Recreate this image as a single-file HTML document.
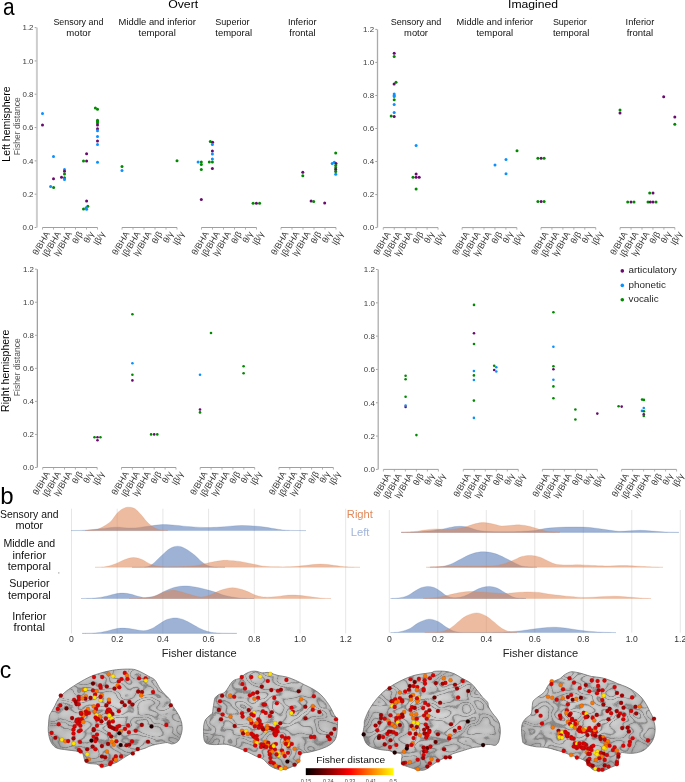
<!DOCTYPE html>
<html><head><meta charset="utf-8"><style>
html,body{margin:0;padding:0;background:#fff;}
svg{display:block;font-family:"Liberation Sans", sans-serif;}
</style></head><body>
<svg width="685" height="782" viewBox="0 0 685 782">
<rect width="685" height="782" fill="#fff"/>
<text x="3.00" y="14.90" font-size="23" fill="#000" text-anchor="start" textLength="11.60" lengthAdjust="spacingAndGlyphs">a</text>
<text x="0.20" y="503.70" font-size="24" fill="#000" text-anchor="start">b</text>
<text x="-0.30" y="678.40" font-size="23" fill="#000" text-anchor="start">c</text>
<text x="183.20" y="8.10" font-size="11.5" fill="#000" text-anchor="middle" textLength="30.00" lengthAdjust="spacingAndGlyphs">Overt</text>
<text x="533.00" y="8.20" font-size="11.5" fill="#000" text-anchor="middle" textLength="50.00" lengthAdjust="spacingAndGlyphs">Imagined</text>
<text x="78.40" y="24.70" font-size="9.6" fill="#111" text-anchor="middle" textLength="50.00" lengthAdjust="spacingAndGlyphs">Sensory and</text>
<text x="78.60" y="36.00" font-size="9.6" fill="#111" text-anchor="middle" textLength="24.50" lengthAdjust="spacingAndGlyphs">motor</text>
<text x="157.25" y="24.70" font-size="9.6" fill="#111" text-anchor="middle" textLength="77.30" lengthAdjust="spacingAndGlyphs">Middle and inferior</text>
<text x="157.20" y="36.00" font-size="9.6" fill="#111" text-anchor="middle" textLength="37.20" lengthAdjust="spacingAndGlyphs">temporal</text>
<text x="232.40" y="24.70" font-size="9.6" fill="#111" text-anchor="middle" textLength="34.20" lengthAdjust="spacingAndGlyphs">Superior</text>
<text x="233.70" y="36.00" font-size="9.6" fill="#111" text-anchor="middle" textLength="36.80" lengthAdjust="spacingAndGlyphs">temporal</text>
<text x="302.20" y="24.70" font-size="9.6" fill="#111" text-anchor="middle" textLength="28.60" lengthAdjust="spacingAndGlyphs">Inferior</text>
<text x="302.40" y="36.00" font-size="9.6" fill="#111" text-anchor="middle" textLength="26.20" lengthAdjust="spacingAndGlyphs">frontal</text>
<text x="416.00" y="24.70" font-size="9.6" fill="#111" text-anchor="middle" textLength="50.70" lengthAdjust="spacingAndGlyphs">Sensory and</text>
<text x="416.05" y="36.00" font-size="9.6" fill="#111" text-anchor="middle" textLength="23.90" lengthAdjust="spacingAndGlyphs">motor</text>
<text x="494.85" y="24.70" font-size="9.6" fill="#111" text-anchor="middle" textLength="76.50" lengthAdjust="spacingAndGlyphs">Middle and inferior</text>
<text x="494.85" y="36.00" font-size="9.6" fill="#111" text-anchor="middle" textLength="36.70" lengthAdjust="spacingAndGlyphs">temporal</text>
<text x="569.85" y="24.70" font-size="9.6" fill="#111" text-anchor="middle" textLength="33.90" lengthAdjust="spacingAndGlyphs">Superior</text>
<text x="571.10" y="36.00" font-size="9.6" fill="#111" text-anchor="middle" textLength="36.40" lengthAdjust="spacingAndGlyphs">temporal</text>
<text x="639.95" y="24.70" font-size="9.6" fill="#111" text-anchor="middle" textLength="28.70" lengthAdjust="spacingAndGlyphs">Inferior</text>
<text x="639.95" y="36.00" font-size="9.6" fill="#111" text-anchor="middle" textLength="26.50" lengthAdjust="spacingAndGlyphs">frontal</text>
<line x1="36.90" y1="27.60" x2="36.90" y2="227.50" stroke="#cdcdcd" stroke-width="2.0"/>
<line x1="34.70" y1="227.50" x2="36.40" y2="227.50" stroke="#8a8a8a" stroke-width="0.8"/>
<text x="33.50" y="230.35" font-size="7.9" fill="#3c3c3c" text-anchor="end">0.0</text>
<line x1="34.70" y1="194.18" x2="36.40" y2="194.18" stroke="#8a8a8a" stroke-width="0.8"/>
<text x="33.50" y="197.03" font-size="7.9" fill="#3c3c3c" text-anchor="end">0.2</text>
<line x1="34.70" y1="160.87" x2="36.40" y2="160.87" stroke="#8a8a8a" stroke-width="0.8"/>
<text x="33.50" y="163.72" font-size="7.9" fill="#3c3c3c" text-anchor="end">0.4</text>
<line x1="34.70" y1="127.55" x2="36.40" y2="127.55" stroke="#8a8a8a" stroke-width="0.8"/>
<text x="33.50" y="130.40" font-size="7.9" fill="#3c3c3c" text-anchor="end">0.6</text>
<line x1="34.70" y1="94.23" x2="36.40" y2="94.23" stroke="#8a8a8a" stroke-width="0.8"/>
<text x="33.50" y="97.08" font-size="7.9" fill="#3c3c3c" text-anchor="end">0.8</text>
<line x1="34.70" y1="60.92" x2="36.40" y2="60.92" stroke="#8a8a8a" stroke-width="0.8"/>
<text x="33.50" y="63.77" font-size="7.9" fill="#3c3c3c" text-anchor="end">1.0</text>
<line x1="34.70" y1="27.60" x2="36.40" y2="27.60" stroke="#8a8a8a" stroke-width="0.8"/>
<text x="33.50" y="30.45" font-size="7.9" fill="#3c3c3c" text-anchor="end">1.2</text>
<line x1="42.50" y1="227.50" x2="97.50" y2="227.50" stroke="#a0a0a0" stroke-width="1.0"/>
<line x1="42.50" y1="227.50" x2="42.50" y2="229.60" stroke="#a0a0a0" stroke-width="0.8"/>
<text x="50.10" y="233.70" font-size="8.8" fill="#3a3a3a" text-anchor="end" transform="rotate(-60 50.10 233.70)">θ/BHA</text>
<line x1="53.50" y1="227.50" x2="53.50" y2="229.60" stroke="#a0a0a0" stroke-width="0.8"/>
<text x="61.10" y="233.70" font-size="8.8" fill="#3a3a3a" text-anchor="end" transform="rotate(-60 61.10 233.70)">lβ/BHA</text>
<line x1="64.50" y1="227.50" x2="64.50" y2="229.60" stroke="#a0a0a0" stroke-width="0.8"/>
<text x="72.10" y="233.70" font-size="8.8" fill="#3a3a3a" text-anchor="end" transform="rotate(-60 72.10 233.70)">lγ/BHA</text>
<line x1="75.50" y1="227.50" x2="75.50" y2="229.60" stroke="#a0a0a0" stroke-width="0.8"/>
<text x="83.10" y="233.70" font-size="8.8" fill="#3a3a3a" text-anchor="end" transform="rotate(-60 83.10 233.70)">θ/β</text>
<line x1="86.50" y1="227.50" x2="86.50" y2="229.60" stroke="#a0a0a0" stroke-width="0.8"/>
<text x="94.10" y="233.70" font-size="8.8" fill="#3a3a3a" text-anchor="end" transform="rotate(-60 94.10 233.70)">θ/γ</text>
<line x1="97.50" y1="227.50" x2="97.50" y2="229.60" stroke="#a0a0a0" stroke-width="0.8"/>
<text x="105.10" y="233.70" font-size="8.8" fill="#3a3a3a" text-anchor="end" transform="rotate(-60 105.10 233.70)">lβ/γ</text>
<line x1="122.00" y1="227.50" x2="177.00" y2="227.50" stroke="#a0a0a0" stroke-width="1.0"/>
<line x1="122.00" y1="227.50" x2="122.00" y2="229.60" stroke="#a0a0a0" stroke-width="0.8"/>
<text x="129.60" y="233.70" font-size="8.8" fill="#3a3a3a" text-anchor="end" transform="rotate(-60 129.60 233.70)">θ/BHA</text>
<line x1="133.00" y1="227.50" x2="133.00" y2="229.60" stroke="#a0a0a0" stroke-width="0.8"/>
<text x="140.60" y="233.70" font-size="8.8" fill="#3a3a3a" text-anchor="end" transform="rotate(-60 140.60 233.70)">lβ/BHA</text>
<line x1="144.00" y1="227.50" x2="144.00" y2="229.60" stroke="#a0a0a0" stroke-width="0.8"/>
<text x="151.60" y="233.70" font-size="8.8" fill="#3a3a3a" text-anchor="end" transform="rotate(-60 151.60 233.70)">lγ/BHA</text>
<line x1="155.00" y1="227.50" x2="155.00" y2="229.60" stroke="#a0a0a0" stroke-width="0.8"/>
<text x="162.60" y="233.70" font-size="8.8" fill="#3a3a3a" text-anchor="end" transform="rotate(-60 162.60 233.70)">θ/β</text>
<line x1="166.00" y1="227.50" x2="166.00" y2="229.60" stroke="#a0a0a0" stroke-width="0.8"/>
<text x="173.60" y="233.70" font-size="8.8" fill="#3a3a3a" text-anchor="end" transform="rotate(-60 173.60 233.70)">θ/γ</text>
<line x1="177.00" y1="227.50" x2="177.00" y2="229.60" stroke="#a0a0a0" stroke-width="0.8"/>
<text x="184.60" y="233.70" font-size="8.8" fill="#3a3a3a" text-anchor="end" transform="rotate(-60 184.60 233.70)">lβ/γ</text>
<line x1="201.50" y1="227.50" x2="256.50" y2="227.50" stroke="#a0a0a0" stroke-width="1.0"/>
<line x1="201.50" y1="227.50" x2="201.50" y2="229.60" stroke="#a0a0a0" stroke-width="0.8"/>
<text x="209.10" y="233.70" font-size="8.8" fill="#3a3a3a" text-anchor="end" transform="rotate(-60 209.10 233.70)">θ/BHA</text>
<line x1="212.50" y1="227.50" x2="212.50" y2="229.60" stroke="#a0a0a0" stroke-width="0.8"/>
<text x="220.10" y="233.70" font-size="8.8" fill="#3a3a3a" text-anchor="end" transform="rotate(-60 220.10 233.70)">lβ/BHA</text>
<line x1="223.50" y1="227.50" x2="223.50" y2="229.60" stroke="#a0a0a0" stroke-width="0.8"/>
<text x="231.10" y="233.70" font-size="8.8" fill="#3a3a3a" text-anchor="end" transform="rotate(-60 231.10 233.70)">lγ/BHA</text>
<line x1="234.50" y1="227.50" x2="234.50" y2="229.60" stroke="#a0a0a0" stroke-width="0.8"/>
<text x="242.10" y="233.70" font-size="8.8" fill="#3a3a3a" text-anchor="end" transform="rotate(-60 242.10 233.70)">θ/β</text>
<line x1="245.50" y1="227.50" x2="245.50" y2="229.60" stroke="#a0a0a0" stroke-width="0.8"/>
<text x="253.10" y="233.70" font-size="8.8" fill="#3a3a3a" text-anchor="end" transform="rotate(-60 253.10 233.70)">θ/γ</text>
<line x1="256.50" y1="227.50" x2="256.50" y2="229.60" stroke="#a0a0a0" stroke-width="0.8"/>
<text x="264.10" y="233.70" font-size="8.8" fill="#3a3a3a" text-anchor="end" transform="rotate(-60 264.10 233.70)">lβ/γ</text>
<line x1="281.00" y1="227.50" x2="336.00" y2="227.50" stroke="#a0a0a0" stroke-width="1.0"/>
<line x1="281.00" y1="227.50" x2="281.00" y2="229.60" stroke="#a0a0a0" stroke-width="0.8"/>
<text x="288.60" y="233.70" font-size="8.8" fill="#3a3a3a" text-anchor="end" transform="rotate(-60 288.60 233.70)">θ/BHA</text>
<line x1="292.00" y1="227.50" x2="292.00" y2="229.60" stroke="#a0a0a0" stroke-width="0.8"/>
<text x="299.60" y="233.70" font-size="8.8" fill="#3a3a3a" text-anchor="end" transform="rotate(-60 299.60 233.70)">lβ/BHA</text>
<line x1="303.00" y1="227.50" x2="303.00" y2="229.60" stroke="#a0a0a0" stroke-width="0.8"/>
<text x="310.60" y="233.70" font-size="8.8" fill="#3a3a3a" text-anchor="end" transform="rotate(-60 310.60 233.70)">lγ/BHA</text>
<line x1="314.00" y1="227.50" x2="314.00" y2="229.60" stroke="#a0a0a0" stroke-width="0.8"/>
<text x="321.60" y="233.70" font-size="8.8" fill="#3a3a3a" text-anchor="end" transform="rotate(-60 321.60 233.70)">θ/β</text>
<line x1="325.00" y1="227.50" x2="325.00" y2="229.60" stroke="#a0a0a0" stroke-width="0.8"/>
<text x="332.60" y="233.70" font-size="8.8" fill="#3a3a3a" text-anchor="end" transform="rotate(-60 332.60 233.70)">θ/γ</text>
<line x1="336.00" y1="227.50" x2="336.00" y2="229.60" stroke="#a0a0a0" stroke-width="0.8"/>
<text x="343.60" y="233.70" font-size="8.8" fill="#3a3a3a" text-anchor="end" transform="rotate(-60 343.60 233.70)">lβ/γ</text>
<line x1="377.50" y1="29.40" x2="377.50" y2="227.60" stroke="#aaaaaa" stroke-width="1.3"/>
<line x1="375.30" y1="227.60" x2="377.00" y2="227.60" stroke="#8a8a8a" stroke-width="0.8"/>
<text x="374.10" y="230.45" font-size="7.9" fill="#3c3c3c" text-anchor="end">0.0</text>
<line x1="375.30" y1="194.57" x2="377.00" y2="194.57" stroke="#8a8a8a" stroke-width="0.8"/>
<text x="374.10" y="197.42" font-size="7.9" fill="#3c3c3c" text-anchor="end">0.2</text>
<line x1="375.30" y1="161.53" x2="377.00" y2="161.53" stroke="#8a8a8a" stroke-width="0.8"/>
<text x="374.10" y="164.38" font-size="7.9" fill="#3c3c3c" text-anchor="end">0.4</text>
<line x1="375.30" y1="128.50" x2="377.00" y2="128.50" stroke="#8a8a8a" stroke-width="0.8"/>
<text x="374.10" y="131.35" font-size="7.9" fill="#3c3c3c" text-anchor="end">0.6</text>
<line x1="375.30" y1="95.47" x2="377.00" y2="95.47" stroke="#8a8a8a" stroke-width="0.8"/>
<text x="374.10" y="98.32" font-size="7.9" fill="#3c3c3c" text-anchor="end">0.8</text>
<line x1="375.30" y1="62.43" x2="377.00" y2="62.43" stroke="#8a8a8a" stroke-width="0.8"/>
<text x="374.10" y="65.28" font-size="7.9" fill="#3c3c3c" text-anchor="end">1.0</text>
<line x1="375.30" y1="29.40" x2="377.00" y2="29.40" stroke="#8a8a8a" stroke-width="0.8"/>
<text x="374.10" y="32.25" font-size="7.9" fill="#3c3c3c" text-anchor="end">1.2</text>
<line x1="383.30" y1="227.60" x2="438.05" y2="227.60" stroke="#a0a0a0" stroke-width="1.0"/>
<line x1="383.30" y1="227.60" x2="383.30" y2="229.70" stroke="#a0a0a0" stroke-width="0.8"/>
<text x="390.90" y="233.80" font-size="8.8" fill="#3a3a3a" text-anchor="end" transform="rotate(-60 390.90 233.80)">θ/BHA</text>
<line x1="394.25" y1="227.60" x2="394.25" y2="229.70" stroke="#a0a0a0" stroke-width="0.8"/>
<text x="401.85" y="233.80" font-size="8.8" fill="#3a3a3a" text-anchor="end" transform="rotate(-60 401.85 233.80)">lβ/BHA</text>
<line x1="405.20" y1="227.60" x2="405.20" y2="229.70" stroke="#a0a0a0" stroke-width="0.8"/>
<text x="412.80" y="233.80" font-size="8.8" fill="#3a3a3a" text-anchor="end" transform="rotate(-60 412.80 233.80)">lγ/BHA</text>
<line x1="416.15" y1="227.60" x2="416.15" y2="229.70" stroke="#a0a0a0" stroke-width="0.8"/>
<text x="423.75" y="233.80" font-size="8.8" fill="#3a3a3a" text-anchor="end" transform="rotate(-60 423.75 233.80)">θ/β</text>
<line x1="427.10" y1="227.60" x2="427.10" y2="229.70" stroke="#a0a0a0" stroke-width="0.8"/>
<text x="434.70" y="233.80" font-size="8.8" fill="#3a3a3a" text-anchor="end" transform="rotate(-60 434.70 233.80)">θ/γ</text>
<line x1="438.05" y1="227.60" x2="438.05" y2="229.70" stroke="#a0a0a0" stroke-width="0.8"/>
<text x="445.65" y="233.80" font-size="8.8" fill="#3a3a3a" text-anchor="end" transform="rotate(-60 445.65 233.80)">lβ/γ</text>
<line x1="462.10" y1="227.60" x2="516.85" y2="227.60" stroke="#a0a0a0" stroke-width="1.0"/>
<line x1="462.10" y1="227.60" x2="462.10" y2="229.70" stroke="#a0a0a0" stroke-width="0.8"/>
<text x="469.70" y="233.80" font-size="8.8" fill="#3a3a3a" text-anchor="end" transform="rotate(-60 469.70 233.80)">θ/BHA</text>
<line x1="473.05" y1="227.60" x2="473.05" y2="229.70" stroke="#a0a0a0" stroke-width="0.8"/>
<text x="480.65" y="233.80" font-size="8.8" fill="#3a3a3a" text-anchor="end" transform="rotate(-60 480.65 233.80)">lβ/BHA</text>
<line x1="484.00" y1="227.60" x2="484.00" y2="229.70" stroke="#a0a0a0" stroke-width="0.8"/>
<text x="491.60" y="233.80" font-size="8.8" fill="#3a3a3a" text-anchor="end" transform="rotate(-60 491.60 233.80)">lγ/BHA</text>
<line x1="494.95" y1="227.60" x2="494.95" y2="229.70" stroke="#a0a0a0" stroke-width="0.8"/>
<text x="502.55" y="233.80" font-size="8.8" fill="#3a3a3a" text-anchor="end" transform="rotate(-60 502.55 233.80)">θ/β</text>
<line x1="505.90" y1="227.60" x2="505.90" y2="229.70" stroke="#a0a0a0" stroke-width="0.8"/>
<text x="513.50" y="233.80" font-size="8.8" fill="#3a3a3a" text-anchor="end" transform="rotate(-60 513.50 233.80)">θ/γ</text>
<line x1="516.85" y1="227.60" x2="516.85" y2="229.70" stroke="#a0a0a0" stroke-width="0.8"/>
<text x="524.45" y="233.80" font-size="8.8" fill="#3a3a3a" text-anchor="end" transform="rotate(-60 524.45 233.80)">lβ/γ</text>
<line x1="541.00" y1="227.60" x2="595.75" y2="227.60" stroke="#a0a0a0" stroke-width="1.0"/>
<line x1="541.00" y1="227.60" x2="541.00" y2="229.70" stroke="#a0a0a0" stroke-width="0.8"/>
<text x="548.60" y="233.80" font-size="8.8" fill="#3a3a3a" text-anchor="end" transform="rotate(-60 548.60 233.80)">θ/BHA</text>
<line x1="551.95" y1="227.60" x2="551.95" y2="229.70" stroke="#a0a0a0" stroke-width="0.8"/>
<text x="559.55" y="233.80" font-size="8.8" fill="#3a3a3a" text-anchor="end" transform="rotate(-60 559.55 233.80)">lβ/BHA</text>
<line x1="562.90" y1="227.60" x2="562.90" y2="229.70" stroke="#a0a0a0" stroke-width="0.8"/>
<text x="570.50" y="233.80" font-size="8.8" fill="#3a3a3a" text-anchor="end" transform="rotate(-60 570.50 233.80)">lγ/BHA</text>
<line x1="573.85" y1="227.60" x2="573.85" y2="229.70" stroke="#a0a0a0" stroke-width="0.8"/>
<text x="581.45" y="233.80" font-size="8.8" fill="#3a3a3a" text-anchor="end" transform="rotate(-60 581.45 233.80)">θ/β</text>
<line x1="584.80" y1="227.60" x2="584.80" y2="229.70" stroke="#a0a0a0" stroke-width="0.8"/>
<text x="592.40" y="233.80" font-size="8.8" fill="#3a3a3a" text-anchor="end" transform="rotate(-60 592.40 233.80)">θ/γ</text>
<line x1="595.75" y1="227.60" x2="595.75" y2="229.70" stroke="#a0a0a0" stroke-width="0.8"/>
<text x="603.35" y="233.80" font-size="8.8" fill="#3a3a3a" text-anchor="end" transform="rotate(-60 603.35 233.80)">lβ/γ</text>
<line x1="620.10" y1="227.60" x2="674.85" y2="227.60" stroke="#a0a0a0" stroke-width="1.0"/>
<line x1="620.10" y1="227.60" x2="620.10" y2="229.70" stroke="#a0a0a0" stroke-width="0.8"/>
<text x="627.70" y="233.80" font-size="8.8" fill="#3a3a3a" text-anchor="end" transform="rotate(-60 627.70 233.80)">θ/BHA</text>
<line x1="631.05" y1="227.60" x2="631.05" y2="229.70" stroke="#a0a0a0" stroke-width="0.8"/>
<text x="638.65" y="233.80" font-size="8.8" fill="#3a3a3a" text-anchor="end" transform="rotate(-60 638.65 233.80)">lβ/BHA</text>
<line x1="642.00" y1="227.60" x2="642.00" y2="229.70" stroke="#a0a0a0" stroke-width="0.8"/>
<text x="649.60" y="233.80" font-size="8.8" fill="#3a3a3a" text-anchor="end" transform="rotate(-60 649.60 233.80)">lγ/BHA</text>
<line x1="652.95" y1="227.60" x2="652.95" y2="229.70" stroke="#a0a0a0" stroke-width="0.8"/>
<text x="660.55" y="233.80" font-size="8.8" fill="#3a3a3a" text-anchor="end" transform="rotate(-60 660.55 233.80)">θ/β</text>
<line x1="663.90" y1="227.60" x2="663.90" y2="229.70" stroke="#a0a0a0" stroke-width="0.8"/>
<text x="671.50" y="233.80" font-size="8.8" fill="#3a3a3a" text-anchor="end" transform="rotate(-60 671.50 233.80)">θ/γ</text>
<line x1="674.85" y1="227.60" x2="674.85" y2="229.70" stroke="#a0a0a0" stroke-width="0.8"/>
<text x="682.45" y="233.80" font-size="8.8" fill="#3a3a3a" text-anchor="end" transform="rotate(-60 682.45 233.80)">lβ/γ</text>
<line x1="37.30" y1="269.20" x2="37.30" y2="467.50" stroke="#909090" stroke-width="1.1"/>
<line x1="35.10" y1="467.50" x2="36.80" y2="467.50" stroke="#8a8a8a" stroke-width="0.8"/>
<text x="33.90" y="470.35" font-size="7.9" fill="#3c3c3c" text-anchor="end">0.0</text>
<line x1="35.10" y1="434.45" x2="36.80" y2="434.45" stroke="#8a8a8a" stroke-width="0.8"/>
<text x="33.90" y="437.30" font-size="7.9" fill="#3c3c3c" text-anchor="end">0.2</text>
<line x1="35.10" y1="401.40" x2="36.80" y2="401.40" stroke="#8a8a8a" stroke-width="0.8"/>
<text x="33.90" y="404.25" font-size="7.9" fill="#3c3c3c" text-anchor="end">0.4</text>
<line x1="35.10" y1="368.35" x2="36.80" y2="368.35" stroke="#8a8a8a" stroke-width="0.8"/>
<text x="33.90" y="371.20" font-size="7.9" fill="#3c3c3c" text-anchor="end">0.6</text>
<line x1="35.10" y1="335.30" x2="36.80" y2="335.30" stroke="#8a8a8a" stroke-width="0.8"/>
<text x="33.90" y="338.15" font-size="7.9" fill="#3c3c3c" text-anchor="end">0.8</text>
<line x1="35.10" y1="302.25" x2="36.80" y2="302.25" stroke="#8a8a8a" stroke-width="0.8"/>
<text x="33.90" y="305.10" font-size="7.9" fill="#3c3c3c" text-anchor="end">1.0</text>
<line x1="35.10" y1="269.20" x2="36.80" y2="269.20" stroke="#8a8a8a" stroke-width="0.8"/>
<text x="33.90" y="272.05" font-size="7.9" fill="#3c3c3c" text-anchor="end">1.2</text>
<line x1="42.70" y1="467.50" x2="97.20" y2="467.50" stroke="#a0a0a0" stroke-width="1.0"/>
<line x1="42.70" y1="467.50" x2="42.70" y2="469.60" stroke="#a0a0a0" stroke-width="0.8"/>
<text x="50.30" y="473.70" font-size="8.8" fill="#3a3a3a" text-anchor="end" transform="rotate(-60 50.30 473.70)">θ/BHA</text>
<line x1="53.60" y1="467.50" x2="53.60" y2="469.60" stroke="#a0a0a0" stroke-width="0.8"/>
<text x="61.20" y="473.70" font-size="8.8" fill="#3a3a3a" text-anchor="end" transform="rotate(-60 61.20 473.70)">lβ/BHA</text>
<line x1="64.50" y1="467.50" x2="64.50" y2="469.60" stroke="#a0a0a0" stroke-width="0.8"/>
<text x="72.10" y="473.70" font-size="8.8" fill="#3a3a3a" text-anchor="end" transform="rotate(-60 72.10 473.70)">lγ/BHA</text>
<line x1="75.40" y1="467.50" x2="75.40" y2="469.60" stroke="#a0a0a0" stroke-width="0.8"/>
<text x="83.00" y="473.70" font-size="8.8" fill="#3a3a3a" text-anchor="end" transform="rotate(-60 83.00 473.70)">θ/β</text>
<line x1="86.30" y1="467.50" x2="86.30" y2="469.60" stroke="#a0a0a0" stroke-width="0.8"/>
<text x="93.90" y="473.70" font-size="8.8" fill="#3a3a3a" text-anchor="end" transform="rotate(-60 93.90 473.70)">θ/γ</text>
<line x1="97.20" y1="467.50" x2="97.20" y2="469.60" stroke="#a0a0a0" stroke-width="0.8"/>
<text x="104.80" y="473.70" font-size="8.8" fill="#3a3a3a" text-anchor="end" transform="rotate(-60 104.80 473.70)">lβ/γ</text>
<line x1="121.50" y1="467.50" x2="176.00" y2="467.50" stroke="#a0a0a0" stroke-width="1.0"/>
<line x1="121.50" y1="467.50" x2="121.50" y2="469.60" stroke="#a0a0a0" stroke-width="0.8"/>
<text x="129.10" y="473.70" font-size="8.8" fill="#3a3a3a" text-anchor="end" transform="rotate(-60 129.10 473.70)">θ/BHA</text>
<line x1="132.40" y1="467.50" x2="132.40" y2="469.60" stroke="#a0a0a0" stroke-width="0.8"/>
<text x="140.00" y="473.70" font-size="8.8" fill="#3a3a3a" text-anchor="end" transform="rotate(-60 140.00 473.70)">lβ/BHA</text>
<line x1="143.30" y1="467.50" x2="143.30" y2="469.60" stroke="#a0a0a0" stroke-width="0.8"/>
<text x="150.90" y="473.70" font-size="8.8" fill="#3a3a3a" text-anchor="end" transform="rotate(-60 150.90 473.70)">lγ/BHA</text>
<line x1="154.20" y1="467.50" x2="154.20" y2="469.60" stroke="#a0a0a0" stroke-width="0.8"/>
<text x="161.80" y="473.70" font-size="8.8" fill="#3a3a3a" text-anchor="end" transform="rotate(-60 161.80 473.70)">θ/β</text>
<line x1="165.10" y1="467.50" x2="165.10" y2="469.60" stroke="#a0a0a0" stroke-width="0.8"/>
<text x="172.70" y="473.70" font-size="8.8" fill="#3a3a3a" text-anchor="end" transform="rotate(-60 172.70 473.70)">θ/γ</text>
<line x1="176.00" y1="467.50" x2="176.00" y2="469.60" stroke="#a0a0a0" stroke-width="0.8"/>
<text x="183.60" y="473.70" font-size="8.8" fill="#3a3a3a" text-anchor="end" transform="rotate(-60 183.60 473.70)">lβ/γ</text>
<line x1="200.20" y1="467.50" x2="254.70" y2="467.50" stroke="#a0a0a0" stroke-width="1.0"/>
<line x1="200.20" y1="467.50" x2="200.20" y2="469.60" stroke="#a0a0a0" stroke-width="0.8"/>
<text x="207.80" y="473.70" font-size="8.8" fill="#3a3a3a" text-anchor="end" transform="rotate(-60 207.80 473.70)">θ/BHA</text>
<line x1="211.10" y1="467.50" x2="211.10" y2="469.60" stroke="#a0a0a0" stroke-width="0.8"/>
<text x="218.70" y="473.70" font-size="8.8" fill="#3a3a3a" text-anchor="end" transform="rotate(-60 218.70 473.70)">lβ/BHA</text>
<line x1="222.00" y1="467.50" x2="222.00" y2="469.60" stroke="#a0a0a0" stroke-width="0.8"/>
<text x="229.60" y="473.70" font-size="8.8" fill="#3a3a3a" text-anchor="end" transform="rotate(-60 229.60 473.70)">lγ/BHA</text>
<line x1="232.90" y1="467.50" x2="232.90" y2="469.60" stroke="#a0a0a0" stroke-width="0.8"/>
<text x="240.50" y="473.70" font-size="8.8" fill="#3a3a3a" text-anchor="end" transform="rotate(-60 240.50 473.70)">θ/β</text>
<line x1="243.80" y1="467.50" x2="243.80" y2="469.60" stroke="#a0a0a0" stroke-width="0.8"/>
<text x="251.40" y="473.70" font-size="8.8" fill="#3a3a3a" text-anchor="end" transform="rotate(-60 251.40 473.70)">θ/γ</text>
<line x1="254.70" y1="467.50" x2="254.70" y2="469.60" stroke="#a0a0a0" stroke-width="0.8"/>
<text x="262.30" y="473.70" font-size="8.8" fill="#3a3a3a" text-anchor="end" transform="rotate(-60 262.30 473.70)">lβ/γ</text>
<line x1="278.90" y1="467.50" x2="333.40" y2="467.50" stroke="#a0a0a0" stroke-width="1.0"/>
<line x1="278.90" y1="467.50" x2="278.90" y2="469.60" stroke="#a0a0a0" stroke-width="0.8"/>
<text x="286.50" y="473.70" font-size="8.8" fill="#3a3a3a" text-anchor="end" transform="rotate(-60 286.50 473.70)">θ/BHA</text>
<line x1="289.80" y1="467.50" x2="289.80" y2="469.60" stroke="#a0a0a0" stroke-width="0.8"/>
<text x="297.40" y="473.70" font-size="8.8" fill="#3a3a3a" text-anchor="end" transform="rotate(-60 297.40 473.70)">lβ/BHA</text>
<line x1="300.70" y1="467.50" x2="300.70" y2="469.60" stroke="#a0a0a0" stroke-width="0.8"/>
<text x="308.30" y="473.70" font-size="8.8" fill="#3a3a3a" text-anchor="end" transform="rotate(-60 308.30 473.70)">lγ/BHA</text>
<line x1="311.60" y1="467.50" x2="311.60" y2="469.60" stroke="#a0a0a0" stroke-width="0.8"/>
<text x="319.20" y="473.70" font-size="8.8" fill="#3a3a3a" text-anchor="end" transform="rotate(-60 319.20 473.70)">θ/β</text>
<line x1="322.50" y1="467.50" x2="322.50" y2="469.60" stroke="#a0a0a0" stroke-width="0.8"/>
<text x="330.10" y="473.70" font-size="8.8" fill="#3a3a3a" text-anchor="end" transform="rotate(-60 330.10 473.70)">θ/γ</text>
<line x1="333.40" y1="467.50" x2="333.40" y2="469.60" stroke="#a0a0a0" stroke-width="0.8"/>
<text x="341.00" y="473.70" font-size="8.8" fill="#3a3a3a" text-anchor="end" transform="rotate(-60 341.00 473.70)">lβ/γ</text>
<line x1="378.20" y1="269.50" x2="378.20" y2="469.40" stroke="#adadad" stroke-width="1.3"/>
<line x1="376.00" y1="469.40" x2="377.70" y2="469.40" stroke="#8a8a8a" stroke-width="0.8"/>
<text x="374.80" y="472.25" font-size="7.9" fill="#3c3c3c" text-anchor="end">0.0</text>
<line x1="376.00" y1="436.08" x2="377.70" y2="436.08" stroke="#8a8a8a" stroke-width="0.8"/>
<text x="374.80" y="438.93" font-size="7.9" fill="#3c3c3c" text-anchor="end">0.2</text>
<line x1="376.00" y1="402.77" x2="377.70" y2="402.77" stroke="#8a8a8a" stroke-width="0.8"/>
<text x="374.80" y="405.62" font-size="7.9" fill="#3c3c3c" text-anchor="end">0.4</text>
<line x1="376.00" y1="369.45" x2="377.70" y2="369.45" stroke="#8a8a8a" stroke-width="0.8"/>
<text x="374.80" y="372.30" font-size="7.9" fill="#3c3c3c" text-anchor="end">0.6</text>
<line x1="376.00" y1="336.13" x2="377.70" y2="336.13" stroke="#8a8a8a" stroke-width="0.8"/>
<text x="374.80" y="338.98" font-size="7.9" fill="#3c3c3c" text-anchor="end">0.8</text>
<line x1="376.00" y1="302.82" x2="377.70" y2="302.82" stroke="#8a8a8a" stroke-width="0.8"/>
<text x="374.80" y="305.67" font-size="7.9" fill="#3c3c3c" text-anchor="end">1.0</text>
<line x1="376.00" y1="269.50" x2="377.70" y2="269.50" stroke="#8a8a8a" stroke-width="0.8"/>
<text x="374.80" y="272.35" font-size="7.9" fill="#3c3c3c" text-anchor="end">1.2</text>
<line x1="383.40" y1="469.40" x2="438.40" y2="469.40" stroke="#a0a0a0" stroke-width="1.0"/>
<line x1="383.40" y1="469.40" x2="383.40" y2="471.50" stroke="#a0a0a0" stroke-width="0.8"/>
<text x="391.00" y="475.60" font-size="8.8" fill="#3a3a3a" text-anchor="end" transform="rotate(-60 391.00 475.60)">θ/BHA</text>
<line x1="394.40" y1="469.40" x2="394.40" y2="471.50" stroke="#a0a0a0" stroke-width="0.8"/>
<text x="402.00" y="475.60" font-size="8.8" fill="#3a3a3a" text-anchor="end" transform="rotate(-60 402.00 475.60)">lβ/BHA</text>
<line x1="405.40" y1="469.40" x2="405.40" y2="471.50" stroke="#a0a0a0" stroke-width="0.8"/>
<text x="413.00" y="475.60" font-size="8.8" fill="#3a3a3a" text-anchor="end" transform="rotate(-60 413.00 475.60)">lγ/BHA</text>
<line x1="416.40" y1="469.40" x2="416.40" y2="471.50" stroke="#a0a0a0" stroke-width="0.8"/>
<text x="424.00" y="475.60" font-size="8.8" fill="#3a3a3a" text-anchor="end" transform="rotate(-60 424.00 475.60)">θ/β</text>
<line x1="427.40" y1="469.40" x2="427.40" y2="471.50" stroke="#a0a0a0" stroke-width="0.8"/>
<text x="435.00" y="475.60" font-size="8.8" fill="#3a3a3a" text-anchor="end" transform="rotate(-60 435.00 475.60)">θ/γ</text>
<line x1="438.40" y1="469.40" x2="438.40" y2="471.50" stroke="#a0a0a0" stroke-width="0.8"/>
<text x="446.00" y="475.60" font-size="8.8" fill="#3a3a3a" text-anchor="end" transform="rotate(-60 446.00 475.60)">lβ/γ</text>
<line x1="463.30" y1="469.40" x2="518.30" y2="469.40" stroke="#a0a0a0" stroke-width="1.0"/>
<line x1="463.30" y1="469.40" x2="463.30" y2="471.50" stroke="#a0a0a0" stroke-width="0.8"/>
<text x="470.90" y="475.60" font-size="8.8" fill="#3a3a3a" text-anchor="end" transform="rotate(-60 470.90 475.60)">θ/BHA</text>
<line x1="474.30" y1="469.40" x2="474.30" y2="471.50" stroke="#a0a0a0" stroke-width="0.8"/>
<text x="481.90" y="475.60" font-size="8.8" fill="#3a3a3a" text-anchor="end" transform="rotate(-60 481.90 475.60)">lβ/BHA</text>
<line x1="485.30" y1="469.40" x2="485.30" y2="471.50" stroke="#a0a0a0" stroke-width="0.8"/>
<text x="492.90" y="475.60" font-size="8.8" fill="#3a3a3a" text-anchor="end" transform="rotate(-60 492.90 475.60)">lγ/BHA</text>
<line x1="496.30" y1="469.40" x2="496.30" y2="471.50" stroke="#a0a0a0" stroke-width="0.8"/>
<text x="503.90" y="475.60" font-size="8.8" fill="#3a3a3a" text-anchor="end" transform="rotate(-60 503.90 475.60)">θ/β</text>
<line x1="507.30" y1="469.40" x2="507.30" y2="471.50" stroke="#a0a0a0" stroke-width="0.8"/>
<text x="514.90" y="475.60" font-size="8.8" fill="#3a3a3a" text-anchor="end" transform="rotate(-60 514.90 475.60)">θ/γ</text>
<line x1="518.30" y1="469.40" x2="518.30" y2="471.50" stroke="#a0a0a0" stroke-width="0.8"/>
<text x="525.90" y="475.60" font-size="8.8" fill="#3a3a3a" text-anchor="end" transform="rotate(-60 525.90 475.60)">lβ/γ</text>
<line x1="542.40" y1="469.40" x2="597.40" y2="469.40" stroke="#a0a0a0" stroke-width="1.0"/>
<line x1="542.40" y1="469.40" x2="542.40" y2="471.50" stroke="#a0a0a0" stroke-width="0.8"/>
<text x="550.00" y="475.60" font-size="8.8" fill="#3a3a3a" text-anchor="end" transform="rotate(-60 550.00 475.60)">θ/BHA</text>
<line x1="553.40" y1="469.40" x2="553.40" y2="471.50" stroke="#a0a0a0" stroke-width="0.8"/>
<text x="561.00" y="475.60" font-size="8.8" fill="#3a3a3a" text-anchor="end" transform="rotate(-60 561.00 475.60)">lβ/BHA</text>
<line x1="564.40" y1="469.40" x2="564.40" y2="471.50" stroke="#a0a0a0" stroke-width="0.8"/>
<text x="572.00" y="475.60" font-size="8.8" fill="#3a3a3a" text-anchor="end" transform="rotate(-60 572.00 475.60)">lγ/BHA</text>
<line x1="575.40" y1="469.40" x2="575.40" y2="471.50" stroke="#a0a0a0" stroke-width="0.8"/>
<text x="583.00" y="475.60" font-size="8.8" fill="#3a3a3a" text-anchor="end" transform="rotate(-60 583.00 475.60)">θ/β</text>
<line x1="586.40" y1="469.40" x2="586.40" y2="471.50" stroke="#a0a0a0" stroke-width="0.8"/>
<text x="594.00" y="475.60" font-size="8.8" fill="#3a3a3a" text-anchor="end" transform="rotate(-60 594.00 475.60)">θ/γ</text>
<line x1="597.40" y1="469.40" x2="597.40" y2="471.50" stroke="#a0a0a0" stroke-width="0.8"/>
<text x="605.00" y="475.60" font-size="8.8" fill="#3a3a3a" text-anchor="end" transform="rotate(-60 605.00 475.60)">lβ/γ</text>
<line x1="621.60" y1="469.40" x2="676.60" y2="469.40" stroke="#a0a0a0" stroke-width="1.0"/>
<line x1="621.60" y1="469.40" x2="621.60" y2="471.50" stroke="#a0a0a0" stroke-width="0.8"/>
<text x="629.20" y="475.60" font-size="8.8" fill="#3a3a3a" text-anchor="end" transform="rotate(-60 629.20 475.60)">θ/BHA</text>
<line x1="632.60" y1="469.40" x2="632.60" y2="471.50" stroke="#a0a0a0" stroke-width="0.8"/>
<text x="640.20" y="475.60" font-size="8.8" fill="#3a3a3a" text-anchor="end" transform="rotate(-60 640.20 475.60)">lβ/BHA</text>
<line x1="643.60" y1="469.40" x2="643.60" y2="471.50" stroke="#a0a0a0" stroke-width="0.8"/>
<text x="651.20" y="475.60" font-size="8.8" fill="#3a3a3a" text-anchor="end" transform="rotate(-60 651.20 475.60)">lγ/BHA</text>
<line x1="654.60" y1="469.40" x2="654.60" y2="471.50" stroke="#a0a0a0" stroke-width="0.8"/>
<text x="662.20" y="475.60" font-size="8.8" fill="#3a3a3a" text-anchor="end" transform="rotate(-60 662.20 475.60)">θ/β</text>
<line x1="665.60" y1="469.40" x2="665.60" y2="471.50" stroke="#a0a0a0" stroke-width="0.8"/>
<text x="673.20" y="475.60" font-size="8.8" fill="#3a3a3a" text-anchor="end" transform="rotate(-60 673.20 475.60)">θ/γ</text>
<line x1="676.60" y1="469.40" x2="676.60" y2="471.50" stroke="#a0a0a0" stroke-width="0.8"/>
<text x="684.20" y="475.60" font-size="8.8" fill="#3a3a3a" text-anchor="end" transform="rotate(-60 684.20 475.60)">lβ/γ</text>
<text x="10.00" y="124.00" font-size="10.5" fill="#000" text-anchor="middle" transform="rotate(-90 10.00 124.00)">Left hemisphere</text>
<text x="20.20" y="126.25" font-size="8.55" fill="#555" text-anchor="middle" transform="rotate(-90 20.20 126.25)">Fisher distance</text>
<text x="8.70" y="370.75" font-size="10.5" fill="#000" text-anchor="middle" transform="rotate(-90 8.70 370.75)">Right hemisphere</text>
<text x="20.20" y="367.25" font-size="8.55" fill="#555" text-anchor="middle" transform="rotate(-90 20.20 367.25)">Fisher distance</text>
<circle cx="42.50" cy="113.60" r="1.5" fill="#0a90ff"/>
<circle cx="42.50" cy="125.00" r="1.5" fill="#680a6e"/>
<circle cx="53.50" cy="156.40" r="1.5" fill="#0a90ff"/>
<circle cx="53.50" cy="178.70" r="1.5" fill="#680a6e"/>
<circle cx="50.60" cy="186.50" r="1.5" fill="#0a90ff"/>
<circle cx="53.60" cy="187.40" r="1.5" fill="#008a00"/>
<circle cx="64.50" cy="169.40" r="1.5" fill="#0a90ff"/>
<circle cx="64.50" cy="171.30" r="1.5" fill="#680a6e"/>
<circle cx="64.50" cy="173.90" r="1.5" fill="#008a00"/>
<circle cx="61.50" cy="177.20" r="1.5" fill="#680a6e"/>
<circle cx="64.50" cy="177.80" r="1.5" fill="#008a00"/>
<circle cx="64.50" cy="179.60" r="1.5" fill="#0a90ff"/>
<circle cx="86.60" cy="153.70" r="1.5" fill="#680a6e"/>
<circle cx="83.50" cy="161.00" r="1.5" fill="#008a00"/>
<circle cx="86.60" cy="161.00" r="1.5" fill="#680a6e"/>
<circle cx="86.60" cy="200.90" r="1.5" fill="#680a6e"/>
<circle cx="87.80" cy="206.30" r="1.5" fill="#008a00"/>
<circle cx="83.50" cy="209.00" r="1.5" fill="#008a00"/>
<circle cx="86.10" cy="207.70" r="1.5" fill="#0a90ff"/>
<circle cx="86.60" cy="209.30" r="1.5" fill="#0a90ff"/>
<circle cx="95.40" cy="107.90" r="1.5" fill="#008a00"/>
<circle cx="97.50" cy="109.20" r="1.5" fill="#008a00"/>
<circle cx="97.50" cy="120.20" r="1.5" fill="#008a00"/>
<circle cx="97.50" cy="121.60" r="1.5" fill="#008a00"/>
<circle cx="97.50" cy="123.00" r="1.5" fill="#008a00"/>
<circle cx="97.50" cy="125.10" r="1.5" fill="#680a6e"/>
<circle cx="97.50" cy="128.80" r="1.5" fill="#680a6e"/>
<circle cx="97.50" cy="130.70" r="1.5" fill="#0a90ff"/>
<circle cx="97.50" cy="136.40" r="1.5" fill="#0a90ff"/>
<circle cx="97.50" cy="140.90" r="1.5" fill="#680a6e"/>
<circle cx="97.50" cy="144.50" r="1.5" fill="#0a90ff"/>
<circle cx="97.50" cy="162.20" r="1.5" fill="#0a90ff"/>
<circle cx="122.00" cy="166.60" r="1.5" fill="#008a00"/>
<circle cx="122.00" cy="170.40" r="1.5" fill="#0a90ff"/>
<circle cx="177.00" cy="160.80" r="1.5" fill="#008a00"/>
<circle cx="198.10" cy="161.90" r="1.5" fill="#0a90ff"/>
<circle cx="201.30" cy="161.90" r="1.5" fill="#008a00"/>
<circle cx="201.30" cy="164.50" r="1.5" fill="#008a00"/>
<circle cx="201.30" cy="169.60" r="1.5" fill="#008a00"/>
<circle cx="201.30" cy="199.60" r="1.5" fill="#680a6e"/>
<circle cx="210.30" cy="141.50" r="1.5" fill="#008a00"/>
<circle cx="212.60" cy="142.20" r="1.5" fill="#680a6e"/>
<circle cx="212.40" cy="144.50" r="1.5" fill="#0a90ff"/>
<circle cx="212.40" cy="151.10" r="1.5" fill="#680a6e"/>
<circle cx="212.40" cy="154.00" r="1.5" fill="#0a90ff"/>
<circle cx="212.40" cy="159.10" r="1.5" fill="#0a90ff"/>
<circle cx="209.30" cy="161.90" r="1.5" fill="#008a00"/>
<circle cx="212.40" cy="162.10" r="1.5" fill="#008a00"/>
<circle cx="212.40" cy="168.50" r="1.5" fill="#680a6e"/>
<circle cx="253.10" cy="203.30" r="1.5" fill="#008a00"/>
<circle cx="256.40" cy="203.30" r="1.5" fill="#680a6e"/>
<circle cx="259.60" cy="203.30" r="1.5" fill="#008a00"/>
<circle cx="302.80" cy="172.30" r="1.5" fill="#680a6e"/>
<circle cx="302.80" cy="175.80" r="1.5" fill="#008a00"/>
<circle cx="311.10" cy="201.00" r="1.5" fill="#680a6e"/>
<circle cx="313.70" cy="201.40" r="1.5" fill="#008a00"/>
<circle cx="324.70" cy="203.00" r="1.5" fill="#680a6e"/>
<circle cx="335.70" cy="153.10" r="1.5" fill="#008a00"/>
<circle cx="332.20" cy="163.60" r="1.5" fill="#0a90ff"/>
<circle cx="334.30" cy="162.20" r="1.5" fill="#0a90ff"/>
<circle cx="336.00" cy="163.40" r="1.5" fill="#680a6e"/>
<circle cx="335.70" cy="165.60" r="1.5" fill="#008a00"/>
<circle cx="335.70" cy="167.80" r="1.5" fill="#008a00"/>
<circle cx="335.70" cy="169.60" r="1.5" fill="#680a6e"/>
<circle cx="335.70" cy="171.40" r="1.5" fill="#008a00"/>
<circle cx="335.70" cy="174.30" r="1.5" fill="#0a90ff"/>
<circle cx="394.20" cy="53.30" r="1.5" fill="#680a6e"/>
<circle cx="394.20" cy="56.50" r="1.5" fill="#008a00"/>
<circle cx="396.00" cy="82.20" r="1.5" fill="#008a00"/>
<circle cx="394.10" cy="84.10" r="1.5" fill="#680a6e"/>
<circle cx="394.20" cy="94.10" r="1.5" fill="#0a90ff"/>
<circle cx="394.20" cy="95.50" r="1.5" fill="#0a90ff"/>
<circle cx="394.20" cy="96.40" r="1.5" fill="#0a90ff"/>
<circle cx="394.20" cy="99.80" r="1.5" fill="#008a00"/>
<circle cx="394.20" cy="104.60" r="1.5" fill="#0a90ff"/>
<circle cx="394.20" cy="112.60" r="1.5" fill="#0a90ff"/>
<circle cx="391.20" cy="115.90" r="1.5" fill="#008a00"/>
<circle cx="394.20" cy="116.50" r="1.5" fill="#680a6e"/>
<circle cx="416.10" cy="145.50" r="1.5" fill="#0a90ff"/>
<circle cx="416.10" cy="173.90" r="1.5" fill="#680a6e"/>
<circle cx="413.00" cy="177.20" r="1.5" fill="#008a00"/>
<circle cx="416.10" cy="177.20" r="1.5" fill="#680a6e"/>
<circle cx="419.20" cy="177.20" r="1.5" fill="#680a6e"/>
<circle cx="416.10" cy="189.10" r="1.5" fill="#008a00"/>
<circle cx="517.00" cy="150.70" r="1.5" fill="#008a00"/>
<circle cx="506.00" cy="159.50" r="1.5" fill="#0a90ff"/>
<circle cx="495.00" cy="164.90" r="1.5" fill="#0a90ff"/>
<circle cx="506.00" cy="173.80" r="1.5" fill="#0a90ff"/>
<circle cx="537.90" cy="158.30" r="1.5" fill="#008a00"/>
<circle cx="541.10" cy="158.30" r="1.5" fill="#680a6e"/>
<circle cx="544.10" cy="158.30" r="1.5" fill="#008a00"/>
<circle cx="537.90" cy="201.50" r="1.5" fill="#008a00"/>
<circle cx="541.10" cy="201.50" r="1.5" fill="#680a6e"/>
<circle cx="544.10" cy="201.50" r="1.5" fill="#008a00"/>
<circle cx="620.00" cy="110.10" r="1.5" fill="#008a00"/>
<circle cx="620.00" cy="112.90" r="1.5" fill="#680a6e"/>
<circle cx="663.70" cy="96.80" r="1.5" fill="#680a6e"/>
<circle cx="674.80" cy="117.00" r="1.5" fill="#680a6e"/>
<circle cx="674.80" cy="124.20" r="1.5" fill="#008a00"/>
<circle cx="627.70" cy="201.90" r="1.5" fill="#008a00"/>
<circle cx="631.00" cy="201.90" r="1.5" fill="#680a6e"/>
<circle cx="634.00" cy="201.90" r="1.5" fill="#008a00"/>
<circle cx="649.70" cy="193.10" r="1.5" fill="#008a00"/>
<circle cx="653.00" cy="193.10" r="1.5" fill="#680a6e"/>
<circle cx="648.00" cy="201.90" r="1.5" fill="#008a00"/>
<circle cx="650.30" cy="201.90" r="1.5" fill="#680a6e"/>
<circle cx="653.00" cy="201.90" r="1.5" fill="#680a6e"/>
<circle cx="656.00" cy="201.90" r="1.5" fill="#008a00"/>
<circle cx="132.40" cy="314.30" r="1.3" fill="#008a00"/>
<circle cx="132.40" cy="363.20" r="1.3" fill="#0a90ff"/>
<circle cx="132.40" cy="374.70" r="1.3" fill="#008a00"/>
<circle cx="132.40" cy="380.40" r="1.3" fill="#680a6e"/>
<circle cx="94.50" cy="437.20" r="1.3" fill="#008a00"/>
<circle cx="100.40" cy="437.20" r="1.3" fill="#008a00"/>
<circle cx="97.50" cy="437.20" r="1.3" fill="#680a6e"/>
<circle cx="97.50" cy="440.20" r="1.3" fill="#680a6e"/>
<circle cx="151.10" cy="434.40" r="1.3" fill="#008a00"/>
<circle cx="154.20" cy="434.40" r="1.3" fill="#680a6e"/>
<circle cx="157.30" cy="434.40" r="1.3" fill="#008a00"/>
<circle cx="211.00" cy="333.00" r="1.3" fill="#008a00"/>
<circle cx="200.00" cy="374.70" r="1.3" fill="#0a90ff"/>
<circle cx="200.00" cy="409.50" r="1.3" fill="#680a6e"/>
<circle cx="200.00" cy="412.40" r="1.3" fill="#008a00"/>
<circle cx="243.60" cy="366.20" r="1.3" fill="#008a00"/>
<circle cx="243.60" cy="373.30" r="1.3" fill="#008a00"/>
<circle cx="405.60" cy="375.80" r="1.3" fill="#008a00"/>
<circle cx="405.60" cy="379.30" r="1.3" fill="#008a00"/>
<circle cx="405.60" cy="396.80" r="1.3" fill="#008a00"/>
<circle cx="405.60" cy="407.00" r="1.3" fill="#680a6e"/>
<circle cx="405.60" cy="405.50" r="1.3" fill="#0a90ff"/>
<circle cx="416.40" cy="435.10" r="1.3" fill="#008a00"/>
<circle cx="474.00" cy="304.90" r="1.3" fill="#008a00"/>
<circle cx="474.00" cy="333.30" r="1.3" fill="#680a6e"/>
<circle cx="474.00" cy="344.00" r="1.3" fill="#008a00"/>
<circle cx="473.90" cy="371.00" r="1.3" fill="#0a90ff"/>
<circle cx="473.90" cy="375.40" r="1.3" fill="#008a00"/>
<circle cx="473.90" cy="380.00" r="1.3" fill="#0a90ff"/>
<circle cx="473.90" cy="400.60" r="1.3" fill="#008a00"/>
<circle cx="473.90" cy="417.90" r="1.3" fill="#0a90ff"/>
<circle cx="494.20" cy="365.70" r="1.3" fill="#008a00"/>
<circle cx="496.30" cy="367.20" r="1.3" fill="#0a90ff"/>
<circle cx="494.20" cy="370.00" r="1.3" fill="#680a6e"/>
<circle cx="496.30" cy="371.50" r="1.3" fill="#0a90ff"/>
<circle cx="553.40" cy="312.30" r="1.3" fill="#008a00"/>
<circle cx="553.40" cy="346.80" r="1.3" fill="#0a90ff"/>
<circle cx="553.40" cy="366.30" r="1.3" fill="#008a00"/>
<circle cx="553.40" cy="369.30" r="1.3" fill="#680a6e"/>
<circle cx="553.40" cy="379.80" r="1.3" fill="#0a90ff"/>
<circle cx="553.40" cy="386.40" r="1.3" fill="#008a00"/>
<circle cx="553.40" cy="398.30" r="1.3" fill="#008a00"/>
<circle cx="575.40" cy="409.50" r="1.3" fill="#008a00"/>
<circle cx="575.40" cy="419.50" r="1.3" fill="#008a00"/>
<circle cx="597.30" cy="413.60" r="1.3" fill="#680a6e"/>
<circle cx="618.60" cy="406.20" r="1.3" fill="#008a00"/>
<circle cx="621.70" cy="406.60" r="1.3" fill="#680a6e"/>
<circle cx="642.10" cy="399.60" r="1.3" fill="#008a00"/>
<circle cx="643.90" cy="399.90" r="1.3" fill="#008a00"/>
<circle cx="643.80" cy="408.00" r="1.3" fill="#0a90ff"/>
<circle cx="642.00" cy="410.90" r="1.3" fill="#0a90ff"/>
<circle cx="643.90" cy="411.20" r="1.3" fill="#008a00"/>
<circle cx="643.80" cy="414.20" r="1.3" fill="#680a6e"/>
<circle cx="643.80" cy="415.90" r="1.3" fill="#008a00"/>
<circle cx="622.30" cy="270.90" r="1.8" fill="#680a6e"/>
<text x="628.50" y="273.40" font-size="9.9" fill="#262626" text-anchor="start">articulatory</text>
<circle cx="622.30" cy="285.40" r="1.8" fill="#0a90ff"/>
<text x="628.50" y="287.60" font-size="9.9" fill="#262626" text-anchor="start">phonetic</text>
<circle cx="622.30" cy="299.70" r="1.8" fill="#008a00"/>
<text x="628.50" y="301.70" font-size="9.9" fill="#262626" text-anchor="start">vocalic</text>
<line x1="71.50" y1="508.70" x2="71.50" y2="633.40" stroke="#e6e6e6" stroke-width="1.0"/>
<line x1="117.20" y1="508.70" x2="117.20" y2="633.40" stroke="#e6e6e6" stroke-width="1.0"/>
<line x1="162.90" y1="508.70" x2="162.90" y2="633.40" stroke="#e6e6e6" stroke-width="1.0"/>
<line x1="208.60" y1="508.70" x2="208.60" y2="633.40" stroke="#e6e6e6" stroke-width="1.0"/>
<line x1="254.30" y1="508.70" x2="254.30" y2="633.40" stroke="#e6e6e6" stroke-width="1.0"/>
<line x1="300.00" y1="508.70" x2="300.00" y2="633.40" stroke="#e6e6e6" stroke-width="1.0"/>
<line x1="345.70" y1="508.70" x2="345.70" y2="633.40" stroke="#e6e6e6" stroke-width="1.0"/>
<line x1="389.30" y1="510.00" x2="389.30" y2="632.60" stroke="#e6e6e6" stroke-width="1.0"/>
<line x1="437.80" y1="510.00" x2="437.80" y2="632.60" stroke="#e6e6e6" stroke-width="1.0"/>
<line x1="486.30" y1="510.00" x2="486.30" y2="632.60" stroke="#e6e6e6" stroke-width="1.0"/>
<line x1="534.80" y1="510.00" x2="534.80" y2="632.60" stroke="#e6e6e6" stroke-width="1.0"/>
<line x1="583.30" y1="510.00" x2="583.30" y2="632.60" stroke="#e6e6e6" stroke-width="1.0"/>
<line x1="631.80" y1="510.00" x2="631.80" y2="632.60" stroke="#e6e6e6" stroke-width="1.0"/>
<line x1="680.30" y1="510.00" x2="680.30" y2="632.60" stroke="#e6e6e6" stroke-width="1.0"/>
<path d="M71.00,530.60 C73.33,530.53 80.17,530.50 85.00,530.20 C89.83,529.90 95.00,529.30 100.00,528.80 C105.00,528.30 110.00,527.33 115.00,527.20 C120.00,527.07 125.83,527.97 130.00,528.00 C134.17,528.03 136.38,527.77 140.00,527.40 C143.62,527.03 148.00,526.27 151.70,525.80 C155.40,525.33 158.32,524.70 162.20,524.60 C166.08,524.50 170.92,524.90 175.00,525.20 C179.08,525.50 181.63,526.02 186.70,526.40 C191.77,526.78 199.85,527.40 205.40,527.50 C210.95,527.60 214.07,527.33 220.00,527.00 C225.93,526.67 234.33,525.58 241.00,525.50 C247.67,525.42 254.33,525.95 260.00,526.50 C265.67,527.05 270.67,528.18 275.00,528.80 C279.33,529.42 280.83,529.90 286.00,530.20 C291.17,530.50 302.67,530.53 306.00,530.60 L306.00,530.60 L71.00,530.60 Z" fill="#4c72b0" fill-opacity="0.55" stroke="#4c72b0" stroke-opacity="0.25" stroke-width="0.8"/>
<path d="M85.00,530.60 C86.67,530.47 92.50,530.18 95.00,529.80 C97.50,529.42 98.17,529.10 100.00,528.30 C101.83,527.50 104.05,526.32 106.00,525.00 C107.95,523.68 109.78,522.43 111.70,520.40 C113.62,518.37 115.55,514.80 117.50,512.80 C119.45,510.80 121.55,509.33 123.40,508.40 C125.25,507.47 126.67,507.13 128.60,507.20 C130.53,507.27 132.95,507.57 135.00,508.80 C137.05,510.03 138.95,512.47 140.90,514.60 C142.85,516.73 144.95,519.75 146.70,521.60 C148.45,523.45 149.45,524.38 151.40,525.70 C153.35,527.02 155.63,528.68 158.40,529.50 C161.17,530.32 166.40,530.42 168.00,530.60 L168.00,530.60 L85.00,530.60 Z" fill="#dd8452" fill-opacity="0.55" stroke="#dd8452" stroke-opacity="0.25" stroke-width="0.8"/>
<path d="M132.00,567.30 C134.17,567.25 141.67,567.47 145.00,567.00 C148.33,566.53 149.22,566.43 152.00,564.50 C154.78,562.57 158.70,558.07 161.70,555.40 C164.70,552.73 167.33,550.03 170.00,548.50 C172.67,546.97 175.20,546.20 177.70,546.20 C180.20,546.20 182.20,547.03 185.00,548.50 C187.80,549.97 191.67,552.75 194.50,555.00 C197.33,557.25 199.28,560.08 202.00,562.00 C204.72,563.92 206.97,565.62 210.80,566.50 C214.63,567.38 222.63,567.17 225.00,567.30 L225.00,567.30 L132.00,567.30 Z" fill="#4c72b0" fill-opacity="0.55" stroke="#4c72b0" stroke-opacity="0.25" stroke-width="0.8"/>
<path d="M95.00,567.30 C96.67,567.22 101.67,567.35 105.00,566.80 C108.33,566.25 111.67,565.22 115.00,564.00 C118.33,562.78 121.92,560.58 125.00,559.50 C128.08,558.42 130.67,557.50 133.50,557.50 C136.33,557.50 139.25,558.42 142.00,559.50 C144.75,560.58 147.00,562.82 150.00,564.00 C153.00,565.18 155.83,566.13 160.00,566.60 C164.17,567.07 170.00,566.85 175.00,566.80 C180.00,566.75 185.83,566.60 190.00,566.30 C194.17,566.00 196.67,565.63 200.00,565.00 C203.33,564.37 206.67,563.20 210.00,562.50 C213.33,561.80 216.92,561.15 220.00,560.80 C223.08,560.45 225.17,560.28 228.50,560.40 C231.83,560.52 235.58,560.82 240.00,561.50 C244.42,562.18 250.50,563.67 255.00,564.50 C259.50,565.33 261.17,566.12 267.00,566.50 C272.83,566.88 283.67,566.97 290.00,566.80 C296.33,566.63 299.93,565.95 305.00,565.50 C310.07,565.05 315.40,564.10 320.40,564.10 C325.40,564.10 330.90,565.05 335.00,565.50 C339.10,565.95 340.83,566.50 345.00,566.80 C349.17,567.10 357.50,567.22 360.00,567.30 L360.00,567.30 L95.00,567.30 Z" fill="#dd8452" fill-opacity="0.55" stroke="#dd8452" stroke-opacity="0.25" stroke-width="0.8"/>
<path d="M81.00,598.50 C83.33,598.42 91.00,598.33 95.00,598.00 C99.00,597.67 101.67,597.17 105.00,596.50 C108.33,595.83 112.15,594.57 115.00,594.00 C117.85,593.43 119.60,593.10 122.10,593.10 C124.60,593.10 127.02,593.38 130.00,594.00 C132.98,594.62 137.40,596.22 140.00,596.80 C142.60,597.38 143.10,597.63 145.60,597.50 C148.10,597.37 151.77,597.08 155.00,596.00 C158.23,594.92 161.67,592.47 165.00,591.00 C168.33,589.53 171.58,588.05 175.00,587.20 C178.42,586.35 182.17,585.93 185.50,585.90 C188.83,585.87 191.75,586.45 195.00,587.00 C198.25,587.55 201.67,588.37 205.00,589.20 C208.33,590.03 211.67,590.95 215.00,592.00 C218.33,593.05 221.00,594.50 225.00,595.50 C229.00,596.50 234.17,597.50 239.00,598.00 C243.83,598.50 251.50,598.42 254.00,598.50 L254.00,598.50 L81.00,598.50 Z" fill="#4c72b0" fill-opacity="0.55" stroke="#4c72b0" stroke-opacity="0.25" stroke-width="0.8"/>
<path d="M129.00,598.50 C131.67,598.42 140.67,598.42 145.00,598.00 C149.33,597.58 152.00,596.92 155.00,596.00 C158.00,595.08 160.30,593.43 163.00,592.50 C165.70,591.57 168.37,590.57 171.20,590.40 C174.03,590.23 176.87,590.82 180.00,591.50 C183.13,592.18 186.53,593.58 190.00,594.50 C193.47,595.42 197.47,596.92 200.80,597.00 C204.13,597.08 206.80,596.08 210.00,595.00 C213.20,593.92 216.27,591.72 220.00,590.50 C223.73,589.28 228.23,587.70 232.40,587.70 C236.57,587.70 241.23,589.28 245.00,590.50 C248.77,591.72 251.92,593.92 255.00,595.00 C258.08,596.08 260.17,596.70 263.50,597.00 C266.83,597.30 271.42,597.05 275.00,596.80 C278.58,596.55 281.98,595.78 285.00,595.50 C288.02,595.22 289.77,595.02 293.10,595.10 C296.43,595.18 300.52,595.52 305.00,596.00 C309.48,596.48 315.67,597.58 320.00,598.00 C324.33,598.42 329.17,598.42 331.00,598.50 L331.00,598.50 L129.00,598.50 Z" fill="#dd8452" fill-opacity="0.55" stroke="#dd8452" stroke-opacity="0.25" stroke-width="0.8"/>
<path d="M82.00,633.40 C84.17,633.33 91.17,633.32 95.00,633.00 C98.83,632.68 101.67,632.17 105.00,631.50 C108.33,630.83 112.08,629.57 115.00,629.00 C117.92,628.43 119.67,628.10 122.50,628.10 C125.33,628.10 128.48,628.57 132.00,629.00 C135.52,629.43 140.27,630.78 143.60,630.70 C146.93,630.62 149.27,629.70 152.00,628.50 C154.73,627.30 157.50,625.00 160.00,623.50 C162.50,622.00 164.48,620.43 167.00,619.50 C169.52,618.57 172.43,617.90 175.10,617.90 C177.77,617.90 180.18,618.48 183.00,619.50 C185.82,620.52 189.17,622.50 192.00,624.00 C194.83,625.50 197.33,627.25 200.00,628.50 C202.67,629.75 205.17,630.75 208.00,631.50 C210.83,632.25 212.17,632.68 217.00,633.00 C221.83,633.32 233.67,633.33 237.00,633.40 L237.00,633.40 L82.00,633.40 Z" fill="#4c72b0" fill-opacity="0.55" stroke="#4c72b0" stroke-opacity="0.25" stroke-width="0.8"/>
<path d="M401.00,532.40 C404.17,532.30 413.50,532.27 420.00,531.80 C426.50,531.33 435.00,530.33 440.00,529.60 C445.00,528.87 446.77,527.95 450.00,527.40 C453.23,526.85 456.40,526.32 459.40,526.30 C462.40,526.28 464.50,526.55 468.00,527.30 C471.50,528.05 475.07,530.05 480.40,530.80 C485.73,531.55 493.40,531.68 500.00,531.80 C506.60,531.92 514.17,531.72 520.00,531.50 C525.83,531.28 530.83,531.00 535.00,530.50 C539.17,530.00 540.83,529.03 545.00,528.50 C549.17,527.97 554.93,527.55 560.00,527.30 C565.07,527.05 570.40,526.97 575.40,527.00 C580.40,527.03 585.07,527.08 590.00,527.50 C594.93,527.92 600.22,528.87 605.00,529.50 C609.78,530.13 614.53,531.08 618.70,531.30 C622.87,531.52 626.38,530.97 630.00,530.80 C633.62,530.63 636.73,530.27 640.40,530.30 C644.07,530.33 647.90,530.72 652.00,531.00 C656.10,531.28 660.50,531.77 665.00,532.00 C669.50,532.23 676.67,532.33 679.00,532.40 L679.00,532.40 L401.00,532.40 Z" fill="#4c72b0" fill-opacity="0.55" stroke="#4c72b0" stroke-opacity="0.25" stroke-width="0.8"/>
<path d="M401.00,532.40 C403.33,532.25 411.00,531.90 415.00,531.50 C419.00,531.10 421.50,530.43 425.00,530.00 C428.50,529.57 432.67,528.98 436.00,528.90 C439.33,528.82 441.83,529.48 445.00,529.50 C448.17,529.52 451.67,529.42 455.00,529.00 C458.33,528.58 461.67,527.87 465.00,527.00 C468.33,526.13 471.83,524.53 475.00,523.80 C478.17,523.07 481.00,522.57 484.00,522.60 C487.00,522.63 490.08,523.43 493.00,524.00 C495.92,524.57 498.67,525.75 501.50,526.00 C504.33,526.25 506.88,525.68 510.00,525.50 C513.12,525.32 516.87,524.73 520.20,524.90 C523.53,525.07 526.70,525.73 530.00,526.50 C533.30,527.27 537.00,528.67 540.00,529.50 C543.00,530.33 544.67,531.02 548.00,531.50 C551.33,531.98 558.00,532.25 560.00,532.40 L560.00,532.40 L401.00,532.40 Z" fill="#dd8452" fill-opacity="0.55" stroke="#dd8452" stroke-opacity="0.25" stroke-width="0.8"/>
<path d="M430.00,567.30 C431.67,567.22 436.67,567.27 440.00,566.80 C443.33,566.33 446.67,565.72 450.00,564.50 C453.33,563.28 456.67,561.17 460.00,559.50 C463.33,557.83 467.00,555.70 470.00,554.50 C473.00,553.30 475.60,552.75 478.00,552.30 C480.40,551.85 482.07,551.72 484.40,551.80 C486.73,551.88 489.40,552.18 492.00,552.80 C494.60,553.42 497.00,554.22 500.00,555.50 C503.00,556.78 507.00,559.00 510.00,560.50 C513.00,562.00 515.67,563.50 518.00,564.50 C520.33,565.50 520.83,566.03 524.00,566.50 C527.17,566.97 534.83,567.17 537.00,567.30 L537.00,567.30 L430.00,567.30 Z" fill="#4c72b0" fill-opacity="0.55" stroke="#4c72b0" stroke-opacity="0.25" stroke-width="0.8"/>
<path d="M426.00,567.30 C428.33,567.18 434.33,566.77 440.00,566.60 C445.67,566.43 453.33,566.37 460.00,566.30 C466.67,566.23 474.17,566.28 480.00,566.20 C485.83,566.12 490.83,566.25 495.00,565.80 C499.17,565.35 501.67,564.55 505.00,563.50 C508.33,562.45 512.17,560.67 515.00,559.50 C517.83,558.33 519.33,557.18 522.00,556.50 C524.67,555.82 528.00,555.28 531.00,555.40 C534.00,555.52 537.17,556.27 540.00,557.20 C542.83,558.13 545.17,559.78 548.00,561.00 C550.83,562.22 553.33,563.85 557.00,564.50 C560.67,565.15 565.83,564.83 570.00,564.90 C574.17,564.97 577.83,564.78 582.00,564.90 C586.17,565.02 591.17,565.42 595.00,565.60 C598.83,565.78 601.67,565.98 605.00,566.00 C608.33,566.02 611.72,565.78 615.00,565.70 C618.28,565.62 621.37,565.45 624.70,565.50 C628.03,565.55 631.12,565.78 635.00,566.00 C638.88,566.22 643.33,566.58 648.00,566.80 C652.67,567.02 660.50,567.22 663.00,567.30 L663.00,567.30 L426.00,567.30 Z" fill="#dd8452" fill-opacity="0.55" stroke="#dd8452" stroke-opacity="0.25" stroke-width="0.8"/>
<path d="M390.50,598.50 C392.08,598.38 397.08,598.30 400.00,597.80 C402.92,597.30 405.50,596.63 408.00,595.50 C410.50,594.37 412.83,592.28 415.00,591.00 C417.17,589.72 418.93,588.57 421.00,587.80 C423.07,587.03 425.23,586.45 427.40,586.40 C429.57,586.35 431.90,586.73 434.00,587.50 C436.10,588.27 438.00,589.67 440.00,591.00 C442.00,592.33 444.00,594.42 446.00,595.50 C448.00,596.58 449.67,597.20 452.00,597.50 C454.33,597.80 457.33,597.80 460.00,597.30 C462.67,596.80 465.50,595.63 468.00,594.50 C470.50,593.37 472.67,591.67 475.00,590.50 C477.33,589.33 479.53,588.18 482.00,587.50 C484.47,586.82 487.30,586.32 489.80,586.40 C492.30,586.48 494.80,587.15 497.00,588.00 C499.20,588.85 500.83,590.25 503.00,591.50 C505.17,592.75 507.92,594.45 510.00,595.50 C512.08,596.55 512.83,597.30 515.50,597.80 C518.17,598.30 524.25,598.38 526.00,598.50 L526.00,598.50 L390.50,598.50 Z" fill="#4c72b0" fill-opacity="0.55" stroke="#4c72b0" stroke-opacity="0.25" stroke-width="0.8"/>
<path d="M423.00,598.50 C425.83,598.25 434.67,597.83 440.00,597.00 C445.33,596.17 450.20,594.42 455.00,593.50 C459.80,592.58 464.63,591.75 468.80,591.50 C472.97,591.25 475.63,591.75 480.00,592.00 C484.37,592.25 490.83,592.75 495.00,593.00 C499.17,593.25 500.83,593.62 505.00,593.50 C509.17,593.38 515.83,592.55 520.00,592.30 C524.17,592.05 526.78,591.97 530.00,592.00 C533.22,592.03 536.30,592.17 539.30,592.50 C542.30,592.83 545.22,593.58 548.00,594.00 C550.78,594.42 552.33,594.58 556.00,595.00 C559.67,595.42 565.17,596.08 570.00,596.50 C574.83,596.92 580.00,597.45 585.00,597.50 C590.00,597.55 595.17,597.02 600.00,596.80 C604.83,596.58 609.33,596.17 614.00,596.20 C618.67,596.23 623.67,596.70 628.00,597.00 C632.33,597.30 636.17,597.75 640.00,598.00 C643.83,598.25 649.17,598.42 651.00,598.50 L651.00,598.50 L423.00,598.50 Z" fill="#dd8452" fill-opacity="0.55" stroke="#dd8452" stroke-opacity="0.25" stroke-width="0.8"/>
<path d="M390.50,632.60 C392.08,632.47 396.75,632.48 400.00,631.80 C403.25,631.12 407.00,629.97 410.00,628.50 C413.00,627.03 414.90,624.55 418.00,623.00 C421.10,621.45 425.27,619.45 428.60,619.20 C431.93,618.95 435.10,620.20 438.00,621.50 C440.90,622.80 443.00,625.28 446.00,627.00 C449.00,628.72 452.00,630.90 456.00,631.80 C460.00,632.70 464.33,632.30 470.00,632.40 C475.67,632.50 484.17,632.47 490.00,632.40 C495.83,632.33 500.17,632.23 505.00,632.00 C509.83,631.77 514.83,631.42 519.00,631.00 C523.17,630.58 526.17,630.00 530.00,629.50 C533.83,629.00 538.05,628.38 542.00,628.00 C545.95,627.62 549.87,627.20 553.70,627.20 C557.53,627.20 560.95,627.53 565.00,628.00 C569.05,628.47 573.00,629.37 578.00,630.00 C583.00,630.63 588.67,631.37 595.00,631.80 C601.33,632.23 612.50,632.47 616.00,632.60 L616.00,632.60 L390.50,632.60 Z" fill="#4c72b0" fill-opacity="0.55" stroke="#4c72b0" stroke-opacity="0.25" stroke-width="0.8"/>
<path d="M424.70,632.60 C427.25,632.50 435.78,632.68 440.00,632.00 C444.22,631.32 447.00,630.17 450.00,628.50 C453.00,626.83 455.33,624.08 458.00,622.00 C460.67,619.92 462.88,617.52 466.00,616.00 C469.12,614.48 473.37,612.90 476.70,612.90 C480.03,612.90 483.12,614.48 486.00,616.00 C488.88,617.52 491.33,619.92 494.00,622.00 C496.67,624.08 499.33,626.87 502.00,628.50 C504.67,630.13 507.50,631.12 510.00,631.80 C512.50,632.48 515.83,632.47 517.00,632.60 L517.00,632.60 L424.70,632.60 Z" fill="#dd8452" fill-opacity="0.55" stroke="#dd8452" stroke-opacity="0.25" stroke-width="0.8"/>
<text x="29.30" y="517.80" font-size="10.6" fill="#111" text-anchor="middle" textLength="58.40" lengthAdjust="spacingAndGlyphs">Sensory and</text>
<text x="29.30" y="529.20" font-size="10.6" fill="#111" text-anchor="middle" textLength="27.80" lengthAdjust="spacingAndGlyphs">motor</text>
<text x="29.30" y="547.00" font-size="10.6" fill="#111" text-anchor="middle" textLength="51.80" lengthAdjust="spacingAndGlyphs">Middle and</text>
<text x="29.30" y="558.50" font-size="10.6" fill="#111" text-anchor="middle" textLength="33.50" lengthAdjust="spacingAndGlyphs">inferior</text>
<text x="29.30" y="570.00" font-size="10.6" fill="#111" text-anchor="middle" textLength="43.20" lengthAdjust="spacingAndGlyphs">temporal</text>
<text x="29.30" y="587.30" font-size="10.6" fill="#111" text-anchor="middle" textLength="40.30" lengthAdjust="spacingAndGlyphs">Superior</text>
<text x="29.30" y="598.80" font-size="10.6" fill="#111" text-anchor="middle" textLength="42.80" lengthAdjust="spacingAndGlyphs">temporal</text>
<text x="29.30" y="620.00" font-size="10.6" fill="#111" text-anchor="middle" textLength="34.10" lengthAdjust="spacingAndGlyphs">Inferior</text>
<text x="29.30" y="631.40" font-size="10.6" fill="#111" text-anchor="middle" textLength="31.50" lengthAdjust="spacingAndGlyphs">frontal</text>
<circle cx="58.80" cy="572.90" r="0.8" fill="#b8b8b8"/>
<text x="346.80" y="517.50" font-size="11.2" fill="#e0895a" text-anchor="start">Right</text>
<text x="350.80" y="536.00" font-size="11.2" fill="#a1b4da" text-anchor="start">Left</text>
<text x="71.50" y="642.40" font-size="8.6" fill="#333" text-anchor="middle">0</text>
<text x="389.50" y="642.40" font-size="8.6" fill="#333" text-anchor="middle">0</text>
<text x="117.20" y="642.40" font-size="8.6" fill="#333" text-anchor="middle">0.2</text>
<text x="437.95" y="642.40" font-size="8.6" fill="#333" text-anchor="middle">0.2</text>
<text x="162.90" y="642.40" font-size="8.6" fill="#333" text-anchor="middle">0.4</text>
<text x="486.40" y="642.40" font-size="8.6" fill="#333" text-anchor="middle">0.4</text>
<text x="208.60" y="642.40" font-size="8.6" fill="#333" text-anchor="middle">0.6</text>
<text x="534.85" y="642.40" font-size="8.6" fill="#333" text-anchor="middle">0.6</text>
<text x="254.30" y="642.40" font-size="8.6" fill="#333" text-anchor="middle">0.8</text>
<text x="583.30" y="642.40" font-size="8.6" fill="#333" text-anchor="middle">0.8</text>
<text x="300.00" y="642.40" font-size="8.6" fill="#333" text-anchor="middle">1.0</text>
<text x="631.75" y="642.40" font-size="8.6" fill="#333" text-anchor="middle">1.0</text>
<text x="345.70" y="642.40" font-size="8.6" fill="#333" text-anchor="middle">1.2</text>
<text x="680.20" y="642.40" font-size="8.6" fill="#333" text-anchor="middle">1.2</text>
<text x="199.20" y="656.70" font-size="11.0" fill="#222" text-anchor="middle" textLength="75.00" lengthAdjust="spacingAndGlyphs">Fisher distance</text>
<text x="540.50" y="656.60" font-size="11.0" fill="#222" text-anchor="middle" textLength="75.40" lengthAdjust="spacingAndGlyphs">Fisher distance</text>
<defs>
<filter id="sul0" x="0" y="0" width="1" height="1" color-interpolation-filters="sRGB">
<feTurbulence type="fractalNoise" baseFrequency="0.038 0.058" numOctaves="2" seed="3" result="t"/>
<feColorMatrix in="t" type="matrix" values="0 0 0 0 0  0 0 0 0 0  0 0 0 0 0  1 0 0 0 0" result="a"/>
<feComponentTransfer in="a" result="lines"><feFuncA type="table" tableValues="0 0 0 0 0 0 0 0 0 0 0 0 0 0 0 1 0 0 0 0 1 0 0 0 0 1 0 0 0 0 0 0 0 0 0 0 0 0 0 0 0"/></feComponentTransfer>
<feFlood flood-color="#727272" result="c"/>
<feComposite in="c" in2="lines" operator="in" result="cl"/>
<feComposite in="cl" in2="SourceAlpha" operator="in"/>
</filter>
<filter id="shd0" x="0" y="0" width="1" height="1" color-interpolation-filters="sRGB">
<feTurbulence type="fractalNoise" baseFrequency="0.038 0.058" numOctaves="2" seed="3" result="t"/>
<feColorMatrix in="t" type="matrix" values="0 0 0 0 0  0 0 0 0 0  0 0 0 0 0  1 0 0 0 0" result="a"/>
<feDiffuseLighting in="a" surfaceScale="5" diffuseConstant="1" lighting-color="#9c9c9c" result="lit"><feDistantLight azimuth="225" elevation="50"/></feDiffuseLighting>
<feComposite in="lit" in2="SourceAlpha" operator="in"/>
</filter>
<filter id="val0" x="0" y="0" width="1" height="1" color-interpolation-filters="sRGB">
<feTurbulence type="fractalNoise" baseFrequency="0.038 0.058" numOctaves="2" seed="3" result="t"/>
<feColorMatrix in="t" type="matrix" values="0 0 0 0 0  0 0 0 0 0  0 0 0 0 0  1 0 0 0 0" result="a"/>
<feComponentTransfer in="a" result="lines"><feFuncA type="table" tableValues="0 0 0 0 0 0 0 0 0 0 0 0 0 0 0.6 1 0.6 0 0 0.6 1 0.6 0 0 0.6 1 0.6 0 0 0 0 0 0 0 0 0 0 0 0 0 0"/></feComponentTransfer>
<feGaussianBlur in="lines" stdDeviation="0.8" result="bl"/>
<feFlood flood-color="#7a7a7a" result="c"/>
<feComposite in="c" in2="bl" operator="in" result="cl"/>
<feComposite in="cl" in2="SourceAlpha" operator="in"/>
</filter>
<filter id="sul1" x="0" y="0" width="1" height="1" color-interpolation-filters="sRGB">
<feTurbulence type="fractalNoise" baseFrequency="0.038 0.058" numOctaves="2" seed="10" result="t"/>
<feColorMatrix in="t" type="matrix" values="0 0 0 0 0  0 0 0 0 0  0 0 0 0 0  1 0 0 0 0" result="a"/>
<feComponentTransfer in="a" result="lines"><feFuncA type="table" tableValues="0 0 0 0 0 0 0 0 0 0 0 0 0 0 0 1 0 0 0 0 1 0 0 0 0 1 0 0 0 0 0 0 0 0 0 0 0 0 0 0 0"/></feComponentTransfer>
<feFlood flood-color="#727272" result="c"/>
<feComposite in="c" in2="lines" operator="in" result="cl"/>
<feComposite in="cl" in2="SourceAlpha" operator="in"/>
</filter>
<filter id="shd1" x="0" y="0" width="1" height="1" color-interpolation-filters="sRGB">
<feTurbulence type="fractalNoise" baseFrequency="0.038 0.058" numOctaves="2" seed="10" result="t"/>
<feColorMatrix in="t" type="matrix" values="0 0 0 0 0  0 0 0 0 0  0 0 0 0 0  1 0 0 0 0" result="a"/>
<feDiffuseLighting in="a" surfaceScale="5" diffuseConstant="1" lighting-color="#9c9c9c" result="lit"><feDistantLight azimuth="225" elevation="50"/></feDiffuseLighting>
<feComposite in="lit" in2="SourceAlpha" operator="in"/>
</filter>
<filter id="val1" x="0" y="0" width="1" height="1" color-interpolation-filters="sRGB">
<feTurbulence type="fractalNoise" baseFrequency="0.038 0.058" numOctaves="2" seed="10" result="t"/>
<feColorMatrix in="t" type="matrix" values="0 0 0 0 0  0 0 0 0 0  0 0 0 0 0  1 0 0 0 0" result="a"/>
<feComponentTransfer in="a" result="lines"><feFuncA type="table" tableValues="0 0 0 0 0 0 0 0 0 0 0 0 0 0 0.6 1 0.6 0 0 0.6 1 0.6 0 0 0.6 1 0.6 0 0 0 0 0 0 0 0 0 0 0 0 0 0"/></feComponentTransfer>
<feGaussianBlur in="lines" stdDeviation="0.8" result="bl"/>
<feFlood flood-color="#7a7a7a" result="c"/>
<feComposite in="c" in2="bl" operator="in" result="cl"/>
<feComposite in="cl" in2="SourceAlpha" operator="in"/>
</filter>
<filter id="sul2" x="0" y="0" width="1" height="1" color-interpolation-filters="sRGB">
<feTurbulence type="fractalNoise" baseFrequency="0.038 0.058" numOctaves="2" seed="17" result="t"/>
<feColorMatrix in="t" type="matrix" values="0 0 0 0 0  0 0 0 0 0  0 0 0 0 0  1 0 0 0 0" result="a"/>
<feComponentTransfer in="a" result="lines"><feFuncA type="table" tableValues="0 0 0 0 0 0 0 0 0 0 0 0 0 0 0 1 0 0 0 0 1 0 0 0 0 1 0 0 0 0 0 0 0 0 0 0 0 0 0 0 0"/></feComponentTransfer>
<feFlood flood-color="#727272" result="c"/>
<feComposite in="c" in2="lines" operator="in" result="cl"/>
<feComposite in="cl" in2="SourceAlpha" operator="in"/>
</filter>
<filter id="shd2" x="0" y="0" width="1" height="1" color-interpolation-filters="sRGB">
<feTurbulence type="fractalNoise" baseFrequency="0.038 0.058" numOctaves="2" seed="17" result="t"/>
<feColorMatrix in="t" type="matrix" values="0 0 0 0 0  0 0 0 0 0  0 0 0 0 0  1 0 0 0 0" result="a"/>
<feDiffuseLighting in="a" surfaceScale="5" diffuseConstant="1" lighting-color="#9c9c9c" result="lit"><feDistantLight azimuth="225" elevation="50"/></feDiffuseLighting>
<feComposite in="lit" in2="SourceAlpha" operator="in"/>
</filter>
<filter id="val2" x="0" y="0" width="1" height="1" color-interpolation-filters="sRGB">
<feTurbulence type="fractalNoise" baseFrequency="0.038 0.058" numOctaves="2" seed="17" result="t"/>
<feColorMatrix in="t" type="matrix" values="0 0 0 0 0  0 0 0 0 0  0 0 0 0 0  1 0 0 0 0" result="a"/>
<feComponentTransfer in="a" result="lines"><feFuncA type="table" tableValues="0 0 0 0 0 0 0 0 0 0 0 0 0 0 0.6 1 0.6 0 0 0.6 1 0.6 0 0 0.6 1 0.6 0 0 0 0 0 0 0 0 0 0 0 0 0 0"/></feComponentTransfer>
<feGaussianBlur in="lines" stdDeviation="0.8" result="bl"/>
<feFlood flood-color="#7a7a7a" result="c"/>
<feComposite in="c" in2="bl" operator="in" result="cl"/>
<feComposite in="cl" in2="SourceAlpha" operator="in"/>
</filter>
<filter id="sul3" x="0" y="0" width="1" height="1" color-interpolation-filters="sRGB">
<feTurbulence type="fractalNoise" baseFrequency="0.038 0.058" numOctaves="2" seed="24" result="t"/>
<feColorMatrix in="t" type="matrix" values="0 0 0 0 0  0 0 0 0 0  0 0 0 0 0  1 0 0 0 0" result="a"/>
<feComponentTransfer in="a" result="lines"><feFuncA type="table" tableValues="0 0 0 0 0 0 0 0 0 0 0 0 0 0 0 1 0 0 0 0 1 0 0 0 0 1 0 0 0 0 0 0 0 0 0 0 0 0 0 0 0"/></feComponentTransfer>
<feFlood flood-color="#727272" result="c"/>
<feComposite in="c" in2="lines" operator="in" result="cl"/>
<feComposite in="cl" in2="SourceAlpha" operator="in"/>
</filter>
<filter id="shd3" x="0" y="0" width="1" height="1" color-interpolation-filters="sRGB">
<feTurbulence type="fractalNoise" baseFrequency="0.038 0.058" numOctaves="2" seed="24" result="t"/>
<feColorMatrix in="t" type="matrix" values="0 0 0 0 0  0 0 0 0 0  0 0 0 0 0  1 0 0 0 0" result="a"/>
<feDiffuseLighting in="a" surfaceScale="5" diffuseConstant="1" lighting-color="#9c9c9c" result="lit"><feDistantLight azimuth="225" elevation="50"/></feDiffuseLighting>
<feComposite in="lit" in2="SourceAlpha" operator="in"/>
</filter>
<filter id="val3" x="0" y="0" width="1" height="1" color-interpolation-filters="sRGB">
<feTurbulence type="fractalNoise" baseFrequency="0.038 0.058" numOctaves="2" seed="24" result="t"/>
<feColorMatrix in="t" type="matrix" values="0 0 0 0 0  0 0 0 0 0  0 0 0 0 0  1 0 0 0 0" result="a"/>
<feComponentTransfer in="a" result="lines"><feFuncA type="table" tableValues="0 0 0 0 0 0 0 0 0 0 0 0 0 0 0.6 1 0.6 0 0 0.6 1 0.6 0 0 0.6 1 0.6 0 0 0 0 0 0 0 0 0 0 0 0 0 0"/></feComponentTransfer>
<feGaussianBlur in="lines" stdDeviation="0.8" result="bl"/>
<feFlood flood-color="#7a7a7a" result="c"/>
<feComposite in="c" in2="bl" operator="in" result="cl"/>
<feComposite in="cl" in2="SourceAlpha" operator="in"/>
</filter>
<radialGradient id="bg0" cx="0.5" cy="0.4" r="0.62"><stop offset="0" stop-color="#d4d4d4"/><stop offset="0.75" stop-color="#c4c4c4"/><stop offset="1" stop-color="#a2a2a2"/></radialGradient>
<radialGradient id="bg1" cx="0.5" cy="0.4" r="0.62"><stop offset="0" stop-color="#d4d4d4"/><stop offset="0.75" stop-color="#c4c4c4"/><stop offset="1" stop-color="#a2a2a2"/></radialGradient>
<radialGradient id="bg2" cx="0.5" cy="0.4" r="0.62"><stop offset="0" stop-color="#d4d4d4"/><stop offset="0.75" stop-color="#c4c4c4"/><stop offset="1" stop-color="#a2a2a2"/></radialGradient>
<radialGradient id="bg3" cx="0.5" cy="0.4" r="0.62"><stop offset="0" stop-color="#d4d4d4"/><stop offset="0.75" stop-color="#c4c4c4"/><stop offset="1" stop-color="#a2a2a2"/></radialGradient>
</defs>
<path d="M48.30,731.30 C47.98,728.45 48.42,726.55 48.60,724.00 C48.78,721.45 48.83,718.17 49.40,716.00 C49.97,713.83 51.07,712.75 52.00,711.00 C52.93,709.25 53.95,707.50 55.00,705.50 C56.05,703.50 56.97,700.92 58.30,699.00 C59.63,697.08 61.30,695.58 63.00,694.00 C64.70,692.42 65.88,691.35 68.50,689.50 C71.12,687.65 75.12,685.02 78.70,682.90 C82.28,680.78 86.42,678.42 90.00,676.80 C93.58,675.18 97.13,674.15 100.20,673.20 C103.27,672.25 105.67,671.68 108.40,671.10 C111.13,670.52 113.42,670.03 116.60,669.70 C119.78,669.37 124.40,669.10 127.50,669.10 C130.60,669.10 132.65,669.05 135.20,669.70 C137.75,670.35 140.50,671.87 142.80,673.00 C145.10,674.13 147.00,675.33 149.00,676.50 C151.00,677.67 152.93,677.93 154.80,680.00 C156.67,682.07 158.25,686.22 160.20,688.90 C162.15,691.58 164.87,694.30 166.50,696.10 C168.13,697.90 169.33,698.50 170.00,699.70 C170.67,700.90 169.75,701.82 170.50,703.30 C171.25,704.78 173.08,706.52 174.50,708.60 C175.92,710.68 177.80,713.42 179.00,715.80 C180.20,718.18 181.18,720.52 181.70,722.90 C182.22,725.28 182.25,728.00 182.10,730.10 C181.95,732.20 181.32,733.85 180.80,735.50 C180.28,737.15 179.75,738.82 179.00,740.00 C178.25,741.18 177.50,741.93 176.30,742.60 C175.10,743.27 173.28,744.00 171.80,744.00 C170.32,744.00 168.88,742.75 167.40,742.60 C165.92,742.45 164.85,742.80 162.90,743.10 C160.95,743.40 157.93,743.88 155.70,744.40 C153.47,744.92 151.28,745.57 149.50,746.20 C147.72,746.83 147.30,747.38 145.00,748.20 C142.70,749.02 138.22,750.12 135.70,751.10 C133.18,752.08 131.85,753.02 129.90,754.10 C127.95,755.18 126.15,756.25 124.00,757.60 C121.85,758.95 119.03,761.12 117.00,762.20 C114.97,763.28 113.58,763.42 111.80,764.10 C110.02,764.78 107.95,765.83 106.30,766.30 C104.65,766.77 103.53,767.27 101.90,766.90 C100.27,766.53 98.50,764.65 96.50,764.10 C94.50,763.55 91.73,763.95 89.90,763.60 C88.07,763.25 86.50,763.00 85.50,762.00 C84.50,761.00 84.45,759.07 83.90,757.60 C83.35,756.13 83.57,754.30 82.20,753.20 C80.83,752.10 78.25,751.55 75.70,751.00 C73.15,750.45 70.18,750.45 66.90,749.90 C63.62,749.35 58.73,749.17 56.00,747.70 C53.27,746.23 51.78,743.83 50.50,741.10 C49.22,738.37 48.62,734.15 48.30,731.30Z" fill="url(#bg0)"/>
<path d="M48.30,731.30 C47.98,728.45 48.42,726.55 48.60,724.00 C48.78,721.45 48.83,718.17 49.40,716.00 C49.97,713.83 51.07,712.75 52.00,711.00 C52.93,709.25 53.95,707.50 55.00,705.50 C56.05,703.50 56.97,700.92 58.30,699.00 C59.63,697.08 61.30,695.58 63.00,694.00 C64.70,692.42 65.88,691.35 68.50,689.50 C71.12,687.65 75.12,685.02 78.70,682.90 C82.28,680.78 86.42,678.42 90.00,676.80 C93.58,675.18 97.13,674.15 100.20,673.20 C103.27,672.25 105.67,671.68 108.40,671.10 C111.13,670.52 113.42,670.03 116.60,669.70 C119.78,669.37 124.40,669.10 127.50,669.10 C130.60,669.10 132.65,669.05 135.20,669.70 C137.75,670.35 140.50,671.87 142.80,673.00 C145.10,674.13 147.00,675.33 149.00,676.50 C151.00,677.67 152.93,677.93 154.80,680.00 C156.67,682.07 158.25,686.22 160.20,688.90 C162.15,691.58 164.87,694.30 166.50,696.10 C168.13,697.90 169.33,698.50 170.00,699.70 C170.67,700.90 169.75,701.82 170.50,703.30 C171.25,704.78 173.08,706.52 174.50,708.60 C175.92,710.68 177.80,713.42 179.00,715.80 C180.20,718.18 181.18,720.52 181.70,722.90 C182.22,725.28 182.25,728.00 182.10,730.10 C181.95,732.20 181.32,733.85 180.80,735.50 C180.28,737.15 179.75,738.82 179.00,740.00 C178.25,741.18 177.50,741.93 176.30,742.60 C175.10,743.27 173.28,744.00 171.80,744.00 C170.32,744.00 168.88,742.75 167.40,742.60 C165.92,742.45 164.85,742.80 162.90,743.10 C160.95,743.40 157.93,743.88 155.70,744.40 C153.47,744.92 151.28,745.57 149.50,746.20 C147.72,746.83 147.30,747.38 145.00,748.20 C142.70,749.02 138.22,750.12 135.70,751.10 C133.18,752.08 131.85,753.02 129.90,754.10 C127.95,755.18 126.15,756.25 124.00,757.60 C121.85,758.95 119.03,761.12 117.00,762.20 C114.97,763.28 113.58,763.42 111.80,764.10 C110.02,764.78 107.95,765.83 106.30,766.30 C104.65,766.77 103.53,767.27 101.90,766.90 C100.27,766.53 98.50,764.65 96.50,764.10 C94.50,763.55 91.73,763.95 89.90,763.60 C88.07,763.25 86.50,763.00 85.50,762.00 C84.50,761.00 84.45,759.07 83.90,757.60 C83.35,756.13 83.57,754.30 82.20,753.20 C80.83,752.10 78.25,751.55 75.70,751.00 C73.15,750.45 70.18,750.45 66.90,749.90 C63.62,749.35 58.73,749.17 56.00,747.70 C53.27,746.23 51.78,743.83 50.50,741.10 C49.22,738.37 48.62,734.15 48.30,731.30Z" fill="#fff" filter="url(#shd0)" opacity="0.6" style="mix-blend-mode:overlay"/>
<path d="M48.30,731.30 C47.98,728.45 48.42,726.55 48.60,724.00 C48.78,721.45 48.83,718.17 49.40,716.00 C49.97,713.83 51.07,712.75 52.00,711.00 C52.93,709.25 53.95,707.50 55.00,705.50 C56.05,703.50 56.97,700.92 58.30,699.00 C59.63,697.08 61.30,695.58 63.00,694.00 C64.70,692.42 65.88,691.35 68.50,689.50 C71.12,687.65 75.12,685.02 78.70,682.90 C82.28,680.78 86.42,678.42 90.00,676.80 C93.58,675.18 97.13,674.15 100.20,673.20 C103.27,672.25 105.67,671.68 108.40,671.10 C111.13,670.52 113.42,670.03 116.60,669.70 C119.78,669.37 124.40,669.10 127.50,669.10 C130.60,669.10 132.65,669.05 135.20,669.70 C137.75,670.35 140.50,671.87 142.80,673.00 C145.10,674.13 147.00,675.33 149.00,676.50 C151.00,677.67 152.93,677.93 154.80,680.00 C156.67,682.07 158.25,686.22 160.20,688.90 C162.15,691.58 164.87,694.30 166.50,696.10 C168.13,697.90 169.33,698.50 170.00,699.70 C170.67,700.90 169.75,701.82 170.50,703.30 C171.25,704.78 173.08,706.52 174.50,708.60 C175.92,710.68 177.80,713.42 179.00,715.80 C180.20,718.18 181.18,720.52 181.70,722.90 C182.22,725.28 182.25,728.00 182.10,730.10 C181.95,732.20 181.32,733.85 180.80,735.50 C180.28,737.15 179.75,738.82 179.00,740.00 C178.25,741.18 177.50,741.93 176.30,742.60 C175.10,743.27 173.28,744.00 171.80,744.00 C170.32,744.00 168.88,742.75 167.40,742.60 C165.92,742.45 164.85,742.80 162.90,743.10 C160.95,743.40 157.93,743.88 155.70,744.40 C153.47,744.92 151.28,745.57 149.50,746.20 C147.72,746.83 147.30,747.38 145.00,748.20 C142.70,749.02 138.22,750.12 135.70,751.10 C133.18,752.08 131.85,753.02 129.90,754.10 C127.95,755.18 126.15,756.25 124.00,757.60 C121.85,758.95 119.03,761.12 117.00,762.20 C114.97,763.28 113.58,763.42 111.80,764.10 C110.02,764.78 107.95,765.83 106.30,766.30 C104.65,766.77 103.53,767.27 101.90,766.90 C100.27,766.53 98.50,764.65 96.50,764.10 C94.50,763.55 91.73,763.95 89.90,763.60 C88.07,763.25 86.50,763.00 85.50,762.00 C84.50,761.00 84.45,759.07 83.90,757.60 C83.35,756.13 83.57,754.30 82.20,753.20 C80.83,752.10 78.25,751.55 75.70,751.00 C73.15,750.45 70.18,750.45 66.90,749.90 C63.62,749.35 58.73,749.17 56.00,747.70 C53.27,746.23 51.78,743.83 50.50,741.10 C49.22,738.37 48.62,734.15 48.30,731.30Z" fill="#fff" filter="url(#val0)" opacity="0.25"/>
<path d="M48.30,731.30 C47.98,728.45 48.42,726.55 48.60,724.00 C48.78,721.45 48.83,718.17 49.40,716.00 C49.97,713.83 51.07,712.75 52.00,711.00 C52.93,709.25 53.95,707.50 55.00,705.50 C56.05,703.50 56.97,700.92 58.30,699.00 C59.63,697.08 61.30,695.58 63.00,694.00 C64.70,692.42 65.88,691.35 68.50,689.50 C71.12,687.65 75.12,685.02 78.70,682.90 C82.28,680.78 86.42,678.42 90.00,676.80 C93.58,675.18 97.13,674.15 100.20,673.20 C103.27,672.25 105.67,671.68 108.40,671.10 C111.13,670.52 113.42,670.03 116.60,669.70 C119.78,669.37 124.40,669.10 127.50,669.10 C130.60,669.10 132.65,669.05 135.20,669.70 C137.75,670.35 140.50,671.87 142.80,673.00 C145.10,674.13 147.00,675.33 149.00,676.50 C151.00,677.67 152.93,677.93 154.80,680.00 C156.67,682.07 158.25,686.22 160.20,688.90 C162.15,691.58 164.87,694.30 166.50,696.10 C168.13,697.90 169.33,698.50 170.00,699.70 C170.67,700.90 169.75,701.82 170.50,703.30 C171.25,704.78 173.08,706.52 174.50,708.60 C175.92,710.68 177.80,713.42 179.00,715.80 C180.20,718.18 181.18,720.52 181.70,722.90 C182.22,725.28 182.25,728.00 182.10,730.10 C181.95,732.20 181.32,733.85 180.80,735.50 C180.28,737.15 179.75,738.82 179.00,740.00 C178.25,741.18 177.50,741.93 176.30,742.60 C175.10,743.27 173.28,744.00 171.80,744.00 C170.32,744.00 168.88,742.75 167.40,742.60 C165.92,742.45 164.85,742.80 162.90,743.10 C160.95,743.40 157.93,743.88 155.70,744.40 C153.47,744.92 151.28,745.57 149.50,746.20 C147.72,746.83 147.30,747.38 145.00,748.20 C142.70,749.02 138.22,750.12 135.70,751.10 C133.18,752.08 131.85,753.02 129.90,754.10 C127.95,755.18 126.15,756.25 124.00,757.60 C121.85,758.95 119.03,761.12 117.00,762.20 C114.97,763.28 113.58,763.42 111.80,764.10 C110.02,764.78 107.95,765.83 106.30,766.30 C104.65,766.77 103.53,767.27 101.90,766.90 C100.27,766.53 98.50,764.65 96.50,764.10 C94.50,763.55 91.73,763.95 89.90,763.60 C88.07,763.25 86.50,763.00 85.50,762.00 C84.50,761.00 84.45,759.07 83.90,757.60 C83.35,756.13 83.57,754.30 82.20,753.20 C80.83,752.10 78.25,751.55 75.70,751.00 C73.15,750.45 70.18,750.45 66.90,749.90 C63.62,749.35 58.73,749.17 56.00,747.70 C53.27,746.23 51.78,743.83 50.50,741.10 C49.22,738.37 48.62,734.15 48.30,731.30Z" fill="#fff" filter="url(#sul0)" opacity="0.75"/>
<path d="M48.30,731.30 C47.98,728.45 48.42,726.55 48.60,724.00 C48.78,721.45 48.83,718.17 49.40,716.00 C49.97,713.83 51.07,712.75 52.00,711.00 C52.93,709.25 53.95,707.50 55.00,705.50 C56.05,703.50 56.97,700.92 58.30,699.00 C59.63,697.08 61.30,695.58 63.00,694.00 C64.70,692.42 65.88,691.35 68.50,689.50 C71.12,687.65 75.12,685.02 78.70,682.90 C82.28,680.78 86.42,678.42 90.00,676.80 C93.58,675.18 97.13,674.15 100.20,673.20 C103.27,672.25 105.67,671.68 108.40,671.10 C111.13,670.52 113.42,670.03 116.60,669.70 C119.78,669.37 124.40,669.10 127.50,669.10 C130.60,669.10 132.65,669.05 135.20,669.70 C137.75,670.35 140.50,671.87 142.80,673.00 C145.10,674.13 147.00,675.33 149.00,676.50 C151.00,677.67 152.93,677.93 154.80,680.00 C156.67,682.07 158.25,686.22 160.20,688.90 C162.15,691.58 164.87,694.30 166.50,696.10 C168.13,697.90 169.33,698.50 170.00,699.70 C170.67,700.90 169.75,701.82 170.50,703.30 C171.25,704.78 173.08,706.52 174.50,708.60 C175.92,710.68 177.80,713.42 179.00,715.80 C180.20,718.18 181.18,720.52 181.70,722.90 C182.22,725.28 182.25,728.00 182.10,730.10 C181.95,732.20 181.32,733.85 180.80,735.50 C180.28,737.15 179.75,738.82 179.00,740.00 C178.25,741.18 177.50,741.93 176.30,742.60 C175.10,743.27 173.28,744.00 171.80,744.00 C170.32,744.00 168.88,742.75 167.40,742.60 C165.92,742.45 164.85,742.80 162.90,743.10 C160.95,743.40 157.93,743.88 155.70,744.40 C153.47,744.92 151.28,745.57 149.50,746.20 C147.72,746.83 147.30,747.38 145.00,748.20 C142.70,749.02 138.22,750.12 135.70,751.10 C133.18,752.08 131.85,753.02 129.90,754.10 C127.95,755.18 126.15,756.25 124.00,757.60 C121.85,758.95 119.03,761.12 117.00,762.20 C114.97,763.28 113.58,763.42 111.80,764.10 C110.02,764.78 107.95,765.83 106.30,766.30 C104.65,766.77 103.53,767.27 101.90,766.90 C100.27,766.53 98.50,764.65 96.50,764.10 C94.50,763.55 91.73,763.95 89.90,763.60 C88.07,763.25 86.50,763.00 85.50,762.00 C84.50,761.00 84.45,759.07 83.90,757.60 C83.35,756.13 83.57,754.30 82.20,753.20 C80.83,752.10 78.25,751.55 75.70,751.00 C73.15,750.45 70.18,750.45 66.90,749.90 C63.62,749.35 58.73,749.17 56.00,747.70 C53.27,746.23 51.78,743.83 50.50,741.10 C49.22,738.37 48.62,734.15 48.30,731.30Z" fill="none" stroke="#6e6e6e" stroke-width="0.8"/>
<circle cx="94.0" cy="677.1" r="2.05" fill="#d60505" stroke="#700000" stroke-opacity="0.3" stroke-width="0.5"/>
<circle cx="102.2" cy="677.1" r="2.05" fill="#d60505" stroke="#700000" stroke-opacity="0.3" stroke-width="0.5"/>
<circle cx="108.6" cy="674.2" r="2.05" fill="#f67800" stroke="#700000" stroke-opacity="0.3" stroke-width="0.5"/>
<circle cx="113.0" cy="676.2" r="2.05" fill="#fae600" stroke="#700000" stroke-opacity="0.3" stroke-width="0.5"/>
<circle cx="93.0" cy="683.6" r="2.05" fill="#680000" stroke="#700000" stroke-opacity="0.3" stroke-width="0.5"/>
<circle cx="100.2" cy="685.4" r="2.05" fill="#d60505" stroke="#700000" stroke-opacity="0.3" stroke-width="0.5"/>
<circle cx="100.7" cy="687.7" r="2.05" fill="#d60505" stroke="#700000" stroke-opacity="0.3" stroke-width="0.5"/>
<circle cx="106.8" cy="686.5" r="2.05" fill="#a00303" stroke="#700000" stroke-opacity="0.3" stroke-width="0.5"/>
<circle cx="114.5" cy="688.5" r="2.05" fill="#a00303" stroke="#700000" stroke-opacity="0.3" stroke-width="0.5"/>
<circle cx="83.8" cy="690.0" r="2.05" fill="#f67800" stroke="#700000" stroke-opacity="0.3" stroke-width="0.5"/>
<circle cx="85.4" cy="689.5" r="2.05" fill="#fae600" stroke="#700000" stroke-opacity="0.3" stroke-width="0.5"/>
<circle cx="93.0" cy="690.5" r="2.05" fill="#d60505" stroke="#700000" stroke-opacity="0.3" stroke-width="0.5"/>
<circle cx="96.6" cy="691.1" r="2.05" fill="#f67800" stroke="#700000" stroke-opacity="0.3" stroke-width="0.5"/>
<circle cx="101.7" cy="695.1" r="2.05" fill="#f67800" stroke="#700000" stroke-opacity="0.3" stroke-width="0.5"/>
<circle cx="95.1" cy="694.6" r="2.05" fill="#d60505" stroke="#700000" stroke-opacity="0.3" stroke-width="0.5"/>
<circle cx="94.6" cy="697.5" r="2.05" fill="#fae600" stroke="#700000" stroke-opacity="0.3" stroke-width="0.5"/>
<circle cx="100.7" cy="700.3" r="2.05" fill="#fae600" stroke="#700000" stroke-opacity="0.3" stroke-width="0.5"/>
<circle cx="90.5" cy="697.9" r="2.05" fill="#a00303" stroke="#700000" stroke-opacity="0.3" stroke-width="0.5"/>
<circle cx="85.9" cy="696.2" r="2.05" fill="#f67800" stroke="#700000" stroke-opacity="0.3" stroke-width="0.5"/>
<circle cx="85.4" cy="698.7" r="2.05" fill="#a00303" stroke="#700000" stroke-opacity="0.3" stroke-width="0.5"/>
<circle cx="82.3" cy="698.5" r="2.05" fill="#f67800" stroke="#700000" stroke-opacity="0.3" stroke-width="0.5"/>
<circle cx="78.7" cy="696.7" r="2.05" fill="#d60505" stroke="#700000" stroke-opacity="0.3" stroke-width="0.5"/>
<circle cx="78.7" cy="699.7" r="2.05" fill="#d60505" stroke="#700000" stroke-opacity="0.3" stroke-width="0.5"/>
<circle cx="74.1" cy="699.7" r="2.05" fill="#d60505" stroke="#700000" stroke-opacity="0.3" stroke-width="0.5"/>
<circle cx="75.7" cy="701.8" r="2.05" fill="#a00303" stroke="#700000" stroke-opacity="0.3" stroke-width="0.5"/>
<circle cx="76.7" cy="704.3" r="2.05" fill="#a00303" stroke="#700000" stroke-opacity="0.3" stroke-width="0.5"/>
<circle cx="78.7" cy="704.3" r="2.05" fill="#d60505" stroke="#700000" stroke-opacity="0.3" stroke-width="0.5"/>
<circle cx="60.8" cy="695.5" r="2.05" fill="#a00303" stroke="#700000" stroke-opacity="0.3" stroke-width="0.5"/>
<circle cx="60.3" cy="705.4" r="2.05" fill="#d60505" stroke="#700000" stroke-opacity="0.3" stroke-width="0.5"/>
<circle cx="57.8" cy="708.9" r="2.05" fill="#d60505" stroke="#700000" stroke-opacity="0.3" stroke-width="0.5"/>
<circle cx="66.5" cy="708.4" r="2.05" fill="#680000" stroke="#700000" stroke-opacity="0.3" stroke-width="0.5"/>
<circle cx="106.3" cy="705.4" r="2.05" fill="#a00303" stroke="#700000" stroke-opacity="0.3" stroke-width="0.5"/>
<circle cx="108.9" cy="702.3" r="2.05" fill="#d60505" stroke="#700000" stroke-opacity="0.3" stroke-width="0.5"/>
<circle cx="108.9" cy="699.7" r="2.05" fill="#f67800" stroke="#700000" stroke-opacity="0.3" stroke-width="0.5"/>
<circle cx="93.8" cy="706.4" r="2.05" fill="#f67800" stroke="#700000" stroke-opacity="0.3" stroke-width="0.5"/>
<circle cx="97.9" cy="705.4" r="2.05" fill="#d60505" stroke="#700000" stroke-opacity="0.3" stroke-width="0.5"/>
<circle cx="96.1" cy="708.9" r="2.05" fill="#d60505" stroke="#700000" stroke-opacity="0.3" stroke-width="0.5"/>
<circle cx="87.9" cy="708.9" r="2.05" fill="#f67800" stroke="#700000" stroke-opacity="0.3" stroke-width="0.5"/>
<circle cx="85.9" cy="711.5" r="2.05" fill="#d60505" stroke="#700000" stroke-opacity="0.3" stroke-width="0.5"/>
<circle cx="88.9" cy="713.0" r="2.05" fill="#d60505" stroke="#700000" stroke-opacity="0.3" stroke-width="0.5"/>
<circle cx="82.3" cy="712.5" r="2.05" fill="#f67800" stroke="#700000" stroke-opacity="0.3" stroke-width="0.5"/>
<circle cx="83.3" cy="715.6" r="2.05" fill="#f67800" stroke="#700000" stroke-opacity="0.3" stroke-width="0.5"/>
<circle cx="81.3" cy="714.0" r="2.05" fill="#d60505" stroke="#700000" stroke-opacity="0.3" stroke-width="0.5"/>
<circle cx="86.4" cy="714.0" r="2.05" fill="#d60505" stroke="#700000" stroke-opacity="0.3" stroke-width="0.5"/>
<circle cx="94.6" cy="711.5" r="2.05" fill="#f67800" stroke="#700000" stroke-opacity="0.3" stroke-width="0.5"/>
<circle cx="96.6" cy="715.1" r="2.05" fill="#fae600" stroke="#700000" stroke-opacity="0.3" stroke-width="0.5"/>
<circle cx="100.2" cy="716.6" r="2.05" fill="#f67800" stroke="#700000" stroke-opacity="0.3" stroke-width="0.5"/>
<circle cx="95.6" cy="717.6" r="2.05" fill="#d60505" stroke="#700000" stroke-opacity="0.3" stroke-width="0.5"/>
<circle cx="107.8" cy="710.0" r="2.05" fill="#d60505" stroke="#700000" stroke-opacity="0.3" stroke-width="0.5"/>
<circle cx="110.4" cy="711.5" r="2.05" fill="#d60505" stroke="#700000" stroke-opacity="0.3" stroke-width="0.5"/>
<circle cx="112.4" cy="714.0" r="2.05" fill="#a00303" stroke="#700000" stroke-opacity="0.3" stroke-width="0.5"/>
<circle cx="109.4" cy="715.6" r="2.05" fill="#fae600" stroke="#700000" stroke-opacity="0.3" stroke-width="0.5"/>
<circle cx="111.9" cy="718.6" r="2.05" fill="#fae600" stroke="#700000" stroke-opacity="0.3" stroke-width="0.5"/>
<circle cx="72.1" cy="718.1" r="2.05" fill="#a00303" stroke="#700000" stroke-opacity="0.3" stroke-width="0.5"/>
<circle cx="78.7" cy="719.2" r="2.05" fill="#d60505" stroke="#700000" stroke-opacity="0.3" stroke-width="0.5"/>
<circle cx="81.8" cy="719.0" r="2.05" fill="#d60505" stroke="#700000" stroke-opacity="0.3" stroke-width="0.5"/>
<circle cx="105.8" cy="718.6" r="2.05" fill="#d60505" stroke="#700000" stroke-opacity="0.3" stroke-width="0.5"/>
<circle cx="98.1" cy="719.2" r="2.05" fill="#d60505" stroke="#700000" stroke-opacity="0.3" stroke-width="0.5"/>
<circle cx="124.8" cy="672.9" r="2.05" fill="#d60505" stroke="#700000" stroke-opacity="0.3" stroke-width="0.5"/>
<circle cx="127.0" cy="675.7" r="2.05" fill="#f67800" stroke="#700000" stroke-opacity="0.3" stroke-width="0.5"/>
<circle cx="127.5" cy="679.0" r="2.05" fill="#d60505" stroke="#700000" stroke-opacity="0.3" stroke-width="0.5"/>
<circle cx="121.5" cy="679.0" r="2.05" fill="#d60505" stroke="#700000" stroke-opacity="0.3" stroke-width="0.5"/>
<circle cx="118.8" cy="681.2" r="2.05" fill="#d60505" stroke="#700000" stroke-opacity="0.3" stroke-width="0.5"/>
<circle cx="117.7" cy="685.5" r="2.05" fill="#f67800" stroke="#700000" stroke-opacity="0.3" stroke-width="0.5"/>
<circle cx="119.3" cy="687.2" r="2.05" fill="#d60505" stroke="#700000" stroke-opacity="0.3" stroke-width="0.5"/>
<circle cx="139.0" cy="678.2" r="2.05" fill="#d60505" stroke="#700000" stroke-opacity="0.3" stroke-width="0.5"/>
<circle cx="145.6" cy="678.4" r="2.05" fill="#d60505" stroke="#700000" stroke-opacity="0.3" stroke-width="0.5"/>
<circle cx="145.9" cy="680.6" r="2.05" fill="#fae600" stroke="#700000" stroke-opacity="0.3" stroke-width="0.5"/>
<circle cx="138.2" cy="691.6" r="2.05" fill="#a00303" stroke="#700000" stroke-opacity="0.3" stroke-width="0.5"/>
<circle cx="142.0" cy="692.1" r="2.05" fill="#a00303" stroke="#700000" stroke-opacity="0.3" stroke-width="0.5"/>
<circle cx="141.2" cy="695.4" r="2.05" fill="#f67800" stroke="#700000" stroke-opacity="0.3" stroke-width="0.5"/>
<circle cx="153.0" cy="692.1" r="2.05" fill="#d60505" stroke="#700000" stroke-opacity="0.3" stroke-width="0.5"/>
<circle cx="122.0" cy="702.3" r="2.05" fill="#a00303" stroke="#700000" stroke-opacity="0.3" stroke-width="0.5"/>
<circle cx="124.8" cy="705.2" r="2.05" fill="#a00303" stroke="#700000" stroke-opacity="0.3" stroke-width="0.5"/>
<circle cx="129.5" cy="702.0" r="2.05" fill="#a00303" stroke="#700000" stroke-opacity="0.3" stroke-width="0.5"/>
<circle cx="132.4" cy="704.5" r="2.05" fill="#a00303" stroke="#700000" stroke-opacity="0.3" stroke-width="0.5"/>
<circle cx="118.8" cy="711.3" r="2.05" fill="#d60505" stroke="#700000" stroke-opacity="0.3" stroke-width="0.5"/>
<circle cx="170.8" cy="705.2" r="2.05" fill="#a00303" stroke="#700000" stroke-opacity="0.3" stroke-width="0.5"/>
<circle cx="112.9" cy="721.4" r="2.05" fill="#d60505" stroke="#700000" stroke-opacity="0.3" stroke-width="0.5"/>
<circle cx="111.2" cy="727.2" r="2.05" fill="#d60505" stroke="#700000" stroke-opacity="0.3" stroke-width="0.5"/>
<circle cx="114.7" cy="728.9" r="2.05" fill="#a00303" stroke="#700000" stroke-opacity="0.3" stroke-width="0.5"/>
<circle cx="116.4" cy="729.5" r="2.05" fill="#d60505" stroke="#700000" stroke-opacity="0.3" stroke-width="0.5"/>
<circle cx="119.3" cy="726.0" r="2.05" fill="#d60505" stroke="#700000" stroke-opacity="0.3" stroke-width="0.5"/>
<circle cx="128.1" cy="725.4" r="2.05" fill="#d60505" stroke="#700000" stroke-opacity="0.3" stroke-width="0.5"/>
<circle cx="125.0" cy="728.9" r="2.05" fill="#d60505" stroke="#700000" stroke-opacity="0.3" stroke-width="0.5"/>
<circle cx="120.7" cy="731.3" r="2.05" fill="#f67800" stroke="#700000" stroke-opacity="0.3" stroke-width="0.5"/>
<circle cx="119.3" cy="733.3" r="2.05" fill="#1a0000" stroke="#700000" stroke-opacity="0.3" stroke-width="0.5"/>
<circle cx="128.9" cy="732.4" r="2.05" fill="#d60505" stroke="#700000" stroke-opacity="0.3" stroke-width="0.5"/>
<circle cx="135.7" cy="730.7" r="2.05" fill="#d60505" stroke="#700000" stroke-opacity="0.3" stroke-width="0.5"/>
<circle cx="141.8" cy="724.9" r="2.05" fill="#a00303" stroke="#700000" stroke-opacity="0.3" stroke-width="0.5"/>
<circle cx="151.5" cy="726.4" r="2.05" fill="#1a0000" stroke="#700000" stroke-opacity="0.3" stroke-width="0.5"/>
<circle cx="166.3" cy="724.9" r="2.05" fill="#d60505" stroke="#700000" stroke-opacity="0.3" stroke-width="0.5"/>
<circle cx="111.2" cy="736.5" r="2.05" fill="#a00303" stroke="#700000" stroke-opacity="0.3" stroke-width="0.5"/>
<circle cx="113.5" cy="740.6" r="2.05" fill="#fae600" stroke="#700000" stroke-opacity="0.3" stroke-width="0.5"/>
<circle cx="111.8" cy="741.8" r="2.05" fill="#f67800" stroke="#700000" stroke-opacity="0.3" stroke-width="0.5"/>
<circle cx="116.4" cy="741.2" r="2.05" fill="#d60505" stroke="#700000" stroke-opacity="0.3" stroke-width="0.5"/>
<circle cx="113.7" cy="744.7" r="2.05" fill="#f67800" stroke="#700000" stroke-opacity="0.3" stroke-width="0.5"/>
<circle cx="120.7" cy="745.0" r="2.05" fill="#1a0000" stroke="#700000" stroke-opacity="0.3" stroke-width="0.5"/>
<circle cx="126.4" cy="745.3" r="2.05" fill="#a00303" stroke="#700000" stroke-opacity="0.3" stroke-width="0.5"/>
<circle cx="129.3" cy="744.7" r="2.05" fill="#a00303" stroke="#700000" stroke-opacity="0.3" stroke-width="0.5"/>
<circle cx="132.0" cy="741.4" r="2.05" fill="#d60505" stroke="#700000" stroke-opacity="0.3" stroke-width="0.5"/>
<circle cx="148.0" cy="741.8" r="2.05" fill="#a00303" stroke="#700000" stroke-opacity="0.3" stroke-width="0.5"/>
<circle cx="137.7" cy="749.1" r="2.05" fill="#a00303" stroke="#700000" stroke-opacity="0.3" stroke-width="0.5"/>
<circle cx="132.8" cy="753.5" r="2.05" fill="#a00303" stroke="#700000" stroke-opacity="0.3" stroke-width="0.5"/>
<circle cx="121.1" cy="756.4" r="2.05" fill="#d60505" stroke="#700000" stroke-opacity="0.3" stroke-width="0.5"/>
<circle cx="115.8" cy="756.4" r="2.05" fill="#d60505" stroke="#700000" stroke-opacity="0.3" stroke-width="0.5"/>
<circle cx="114.1" cy="759.3" r="2.05" fill="#d60505" stroke="#700000" stroke-opacity="0.3" stroke-width="0.5"/>
<circle cx="115.8" cy="759.9" r="2.05" fill="#f67800" stroke="#700000" stroke-opacity="0.3" stroke-width="0.5"/>
<circle cx="111.2" cy="762.2" r="2.05" fill="#d60505" stroke="#700000" stroke-opacity="0.3" stroke-width="0.5"/>
<circle cx="101.4" cy="721.4" r="2.05" fill="#a00303" stroke="#700000" stroke-opacity="0.3" stroke-width="0.5"/>
<circle cx="97.0" cy="725.8" r="2.05" fill="#d60505" stroke="#700000" stroke-opacity="0.3" stroke-width="0.5"/>
<circle cx="109.1" cy="722.0" r="2.05" fill="#d60505" stroke="#700000" stroke-opacity="0.3" stroke-width="0.5"/>
<circle cx="109.6" cy="726.4" r="2.05" fill="#a00303" stroke="#700000" stroke-opacity="0.3" stroke-width="0.5"/>
<circle cx="112.9" cy="728.0" r="2.05" fill="#a00303" stroke="#700000" stroke-opacity="0.3" stroke-width="0.5"/>
<circle cx="117.3" cy="726.9" r="2.05" fill="#d60505" stroke="#700000" stroke-opacity="0.3" stroke-width="0.5"/>
<circle cx="76.8" cy="719.8" r="2.05" fill="#d60505" stroke="#700000" stroke-opacity="0.3" stroke-width="0.5"/>
<circle cx="79.5" cy="722.0" r="2.05" fill="#d60505" stroke="#700000" stroke-opacity="0.3" stroke-width="0.5"/>
<circle cx="83.3" cy="722.0" r="2.05" fill="#f67800" stroke="#700000" stroke-opacity="0.3" stroke-width="0.5"/>
<circle cx="74.6" cy="726.4" r="2.05" fill="#d60505" stroke="#700000" stroke-opacity="0.3" stroke-width="0.5"/>
<circle cx="73.5" cy="729.6" r="2.05" fill="#d60505" stroke="#700000" stroke-opacity="0.3" stroke-width="0.5"/>
<circle cx="78.9" cy="731.3" r="2.05" fill="#d60505" stroke="#700000" stroke-opacity="0.3" stroke-width="0.5"/>
<circle cx="80.6" cy="730.2" r="2.05" fill="#d60505" stroke="#700000" stroke-opacity="0.3" stroke-width="0.5"/>
<circle cx="73.5" cy="733.5" r="2.05" fill="#d60505" stroke="#700000" stroke-opacity="0.3" stroke-width="0.5"/>
<circle cx="73.5" cy="738.4" r="2.05" fill="#a00303" stroke="#700000" stroke-opacity="0.3" stroke-width="0.5"/>
<circle cx="58.7" cy="724.2" r="2.05" fill="#d60505" stroke="#700000" stroke-opacity="0.3" stroke-width="0.5"/>
<circle cx="51.6" cy="732.9" r="2.05" fill="#d60505" stroke="#700000" stroke-opacity="0.3" stroke-width="0.5"/>
<circle cx="55.4" cy="737.8" r="2.05" fill="#a00303" stroke="#700000" stroke-opacity="0.3" stroke-width="0.5"/>
<circle cx="62.0" cy="739.8" r="2.05" fill="#fae600" stroke="#700000" stroke-opacity="0.3" stroke-width="0.5"/>
<circle cx="65.3" cy="741.1" r="2.05" fill="#f67800" stroke="#700000" stroke-opacity="0.3" stroke-width="0.5"/>
<circle cx="68.2" cy="741.1" r="2.05" fill="#d60505" stroke="#700000" stroke-opacity="0.3" stroke-width="0.5"/>
<circle cx="73.7" cy="743.5" r="2.05" fill="#fae600" stroke="#700000" stroke-opacity="0.3" stroke-width="0.5"/>
<circle cx="80.0" cy="742.0" r="2.05" fill="#d60505" stroke="#700000" stroke-opacity="0.3" stroke-width="0.5"/>
<circle cx="78.9" cy="749.9" r="2.05" fill="#d60505" stroke="#700000" stroke-opacity="0.3" stroke-width="0.5"/>
<circle cx="80.6" cy="751.5" r="2.05" fill="#d60505" stroke="#700000" stroke-opacity="0.3" stroke-width="0.5"/>
<circle cx="87.2" cy="749.3" r="2.05" fill="#a00303" stroke="#700000" stroke-opacity="0.3" stroke-width="0.5"/>
<circle cx="87.2" cy="754.3" r="2.05" fill="#fae600" stroke="#700000" stroke-opacity="0.3" stroke-width="0.5"/>
<circle cx="88.8" cy="759.2" r="2.05" fill="#f67800" stroke="#700000" stroke-opacity="0.3" stroke-width="0.5"/>
<circle cx="86.6" cy="760.8" r="2.05" fill="#a00303" stroke="#700000" stroke-opacity="0.3" stroke-width="0.5"/>
<circle cx="93.7" cy="730.2" r="2.05" fill="#a00303" stroke="#700000" stroke-opacity="0.3" stroke-width="0.5"/>
<circle cx="97.0" cy="734.6" r="2.05" fill="#d60505" stroke="#700000" stroke-opacity="0.3" stroke-width="0.5"/>
<circle cx="93.7" cy="736.8" r="2.05" fill="#d60505" stroke="#700000" stroke-opacity="0.3" stroke-width="0.5"/>
<circle cx="96.5" cy="738.9" r="2.05" fill="#a00303" stroke="#700000" stroke-opacity="0.3" stroke-width="0.5"/>
<circle cx="91.5" cy="740.6" r="2.05" fill="#1a0000" stroke="#700000" stroke-opacity="0.3" stroke-width="0.5"/>
<circle cx="95.4" cy="741.1" r="2.05" fill="#d60505" stroke="#700000" stroke-opacity="0.3" stroke-width="0.5"/>
<circle cx="92.6" cy="746.6" r="2.05" fill="#a00303" stroke="#700000" stroke-opacity="0.3" stroke-width="0.5"/>
<circle cx="95.4" cy="749.3" r="2.05" fill="#d60505" stroke="#700000" stroke-opacity="0.3" stroke-width="0.5"/>
<circle cx="101.9" cy="746.1" r="2.05" fill="#a00303" stroke="#700000" stroke-opacity="0.3" stroke-width="0.5"/>
<circle cx="109.1" cy="734.0" r="2.05" fill="#d60505" stroke="#700000" stroke-opacity="0.3" stroke-width="0.5"/>
<circle cx="108.0" cy="743.9" r="2.05" fill="#a00303" stroke="#700000" stroke-opacity="0.3" stroke-width="0.5"/>
<circle cx="106.9" cy="751.5" r="2.05" fill="#f67800" stroke="#700000" stroke-opacity="0.3" stroke-width="0.5"/>
<circle cx="101.9" cy="756.5" r="2.05" fill="#a00303" stroke="#700000" stroke-opacity="0.3" stroke-width="0.5"/>
<circle cx="105.2" cy="757.3" r="2.05" fill="#a00303" stroke="#700000" stroke-opacity="0.3" stroke-width="0.5"/>
<circle cx="110.1" cy="764.1" r="2.05" fill="#d60505" stroke="#700000" stroke-opacity="0.3" stroke-width="0.5"/>
<circle cx="101.7" cy="765.8" r="2.05" fill="#d60505" stroke="#700000" stroke-opacity="0.3" stroke-width="0.5"/>
<circle cx="100.5" cy="696.9" r="2.05" fill="#d60505" stroke="#700000" stroke-opacity="0.3" stroke-width="0.5"/>
<circle cx="80.8" cy="712.9" r="2.05" fill="#d60505" stroke="#700000" stroke-opacity="0.3" stroke-width="0.5"/>
<circle cx="96.9" cy="719.4" r="2.05" fill="#d60505" stroke="#700000" stroke-opacity="0.3" stroke-width="0.5"/>
<circle cx="106.9" cy="712.1" r="2.05" fill="#d60505" stroke="#700000" stroke-opacity="0.3" stroke-width="0.5"/>
<circle cx="109.4" cy="709.7" r="2.05" fill="#d60505" stroke="#700000" stroke-opacity="0.3" stroke-width="0.5"/>
<circle cx="108.6" cy="723.8" r="2.05" fill="#a00303" stroke="#700000" stroke-opacity="0.3" stroke-width="0.5"/>
<circle cx="76.4" cy="721.4" r="2.05" fill="#d60505" stroke="#700000" stroke-opacity="0.3" stroke-width="0.5"/>
<circle cx="78.0" cy="723.8" r="2.05" fill="#d60505" stroke="#700000" stroke-opacity="0.3" stroke-width="0.5"/>
<circle cx="80.4" cy="725.8" r="2.05" fill="#d60505" stroke="#700000" stroke-opacity="0.3" stroke-width="0.5"/>
<circle cx="93.7" cy="729.0" r="2.05" fill="#a00303" stroke="#700000" stroke-opacity="0.3" stroke-width="0.5"/>
<path d="M203.50,731.60 C203.45,729.02 203.55,726.50 203.90,724.50 C204.25,722.50 204.73,721.00 205.60,719.60 C206.47,718.20 207.98,717.15 209.10,716.10 C210.22,715.05 211.65,714.47 212.30,713.30 C212.95,712.13 212.70,710.98 213.00,709.10 C213.30,707.22 213.75,703.88 214.10,702.00 C214.45,700.12 214.28,699.05 215.10,697.80 C215.92,696.55 217.32,695.48 219.00,694.50 C220.68,693.52 222.93,694.10 225.20,691.90 C227.47,689.70 230.15,683.58 232.60,681.30 C235.05,679.02 237.80,679.42 239.90,678.20 C242.00,676.98 243.27,675.13 245.20,674.00 C247.13,672.87 249.57,671.83 251.50,671.40 C253.43,670.97 255.05,671.15 256.80,671.40 C258.55,671.65 260.25,672.73 262.00,672.90 C263.75,673.07 265.63,672.30 267.30,672.40 C268.97,672.50 270.20,672.98 272.00,673.50 C273.80,674.02 275.62,674.90 278.10,675.50 C280.58,676.10 283.97,676.28 286.90,677.10 C289.83,677.92 292.78,679.12 295.70,680.40 C298.62,681.68 301.48,683.33 304.40,684.80 C307.32,686.27 310.47,687.55 313.20,689.20 C315.93,690.85 318.62,692.70 320.80,694.70 C322.98,696.70 324.65,699.02 326.30,701.20 C327.95,703.38 329.42,705.60 330.70,707.80 C331.98,710.00 332.90,712.40 334.00,714.40 C335.10,716.40 336.75,717.52 337.30,719.80 C337.85,722.08 337.48,725.25 337.30,728.10 C337.12,730.95 336.93,734.52 336.20,736.90 C335.47,739.28 334.55,740.75 332.90,742.40 C331.25,744.05 328.85,745.53 326.30,746.80 C323.75,748.07 320.52,749.10 317.60,750.00 C314.68,750.90 311.37,751.65 308.80,752.20 C306.23,752.75 303.67,752.57 302.20,753.30 C300.73,754.03 300.45,755.32 300.00,756.60 C299.55,757.88 300.03,759.72 299.50,761.00 C298.97,762.28 297.98,763.38 296.80,764.30 C295.62,765.22 294.05,765.77 292.40,766.50 C290.75,767.23 288.73,768.17 286.90,768.70 C285.07,769.23 283.23,769.70 281.40,769.70 C279.57,769.70 277.90,769.42 275.90,768.70 C273.90,767.98 271.53,767.00 269.40,765.40 C267.27,763.80 265.38,760.67 263.10,759.10 C260.82,757.53 258.33,757.22 255.70,756.00 C253.07,754.78 249.93,753.03 247.30,751.80 C244.67,750.57 242.52,749.63 239.90,748.60 C237.28,747.57 234.15,746.33 231.60,745.60 C229.05,744.87 227.52,744.37 224.60,744.20 C221.68,744.03 217.03,744.72 214.10,744.60 C211.17,744.48 208.65,744.27 207.00,743.50 C205.35,742.73 204.78,741.98 204.20,740.00 C203.62,738.02 203.55,734.18 203.50,731.60Z" fill="url(#bg1)"/>
<path d="M203.50,731.60 C203.45,729.02 203.55,726.50 203.90,724.50 C204.25,722.50 204.73,721.00 205.60,719.60 C206.47,718.20 207.98,717.15 209.10,716.10 C210.22,715.05 211.65,714.47 212.30,713.30 C212.95,712.13 212.70,710.98 213.00,709.10 C213.30,707.22 213.75,703.88 214.10,702.00 C214.45,700.12 214.28,699.05 215.10,697.80 C215.92,696.55 217.32,695.48 219.00,694.50 C220.68,693.52 222.93,694.10 225.20,691.90 C227.47,689.70 230.15,683.58 232.60,681.30 C235.05,679.02 237.80,679.42 239.90,678.20 C242.00,676.98 243.27,675.13 245.20,674.00 C247.13,672.87 249.57,671.83 251.50,671.40 C253.43,670.97 255.05,671.15 256.80,671.40 C258.55,671.65 260.25,672.73 262.00,672.90 C263.75,673.07 265.63,672.30 267.30,672.40 C268.97,672.50 270.20,672.98 272.00,673.50 C273.80,674.02 275.62,674.90 278.10,675.50 C280.58,676.10 283.97,676.28 286.90,677.10 C289.83,677.92 292.78,679.12 295.70,680.40 C298.62,681.68 301.48,683.33 304.40,684.80 C307.32,686.27 310.47,687.55 313.20,689.20 C315.93,690.85 318.62,692.70 320.80,694.70 C322.98,696.70 324.65,699.02 326.30,701.20 C327.95,703.38 329.42,705.60 330.70,707.80 C331.98,710.00 332.90,712.40 334.00,714.40 C335.10,716.40 336.75,717.52 337.30,719.80 C337.85,722.08 337.48,725.25 337.30,728.10 C337.12,730.95 336.93,734.52 336.20,736.90 C335.47,739.28 334.55,740.75 332.90,742.40 C331.25,744.05 328.85,745.53 326.30,746.80 C323.75,748.07 320.52,749.10 317.60,750.00 C314.68,750.90 311.37,751.65 308.80,752.20 C306.23,752.75 303.67,752.57 302.20,753.30 C300.73,754.03 300.45,755.32 300.00,756.60 C299.55,757.88 300.03,759.72 299.50,761.00 C298.97,762.28 297.98,763.38 296.80,764.30 C295.62,765.22 294.05,765.77 292.40,766.50 C290.75,767.23 288.73,768.17 286.90,768.70 C285.07,769.23 283.23,769.70 281.40,769.70 C279.57,769.70 277.90,769.42 275.90,768.70 C273.90,767.98 271.53,767.00 269.40,765.40 C267.27,763.80 265.38,760.67 263.10,759.10 C260.82,757.53 258.33,757.22 255.70,756.00 C253.07,754.78 249.93,753.03 247.30,751.80 C244.67,750.57 242.52,749.63 239.90,748.60 C237.28,747.57 234.15,746.33 231.60,745.60 C229.05,744.87 227.52,744.37 224.60,744.20 C221.68,744.03 217.03,744.72 214.10,744.60 C211.17,744.48 208.65,744.27 207.00,743.50 C205.35,742.73 204.78,741.98 204.20,740.00 C203.62,738.02 203.55,734.18 203.50,731.60Z" fill="#fff" filter="url(#shd1)" opacity="0.6" style="mix-blend-mode:overlay"/>
<path d="M203.50,731.60 C203.45,729.02 203.55,726.50 203.90,724.50 C204.25,722.50 204.73,721.00 205.60,719.60 C206.47,718.20 207.98,717.15 209.10,716.10 C210.22,715.05 211.65,714.47 212.30,713.30 C212.95,712.13 212.70,710.98 213.00,709.10 C213.30,707.22 213.75,703.88 214.10,702.00 C214.45,700.12 214.28,699.05 215.10,697.80 C215.92,696.55 217.32,695.48 219.00,694.50 C220.68,693.52 222.93,694.10 225.20,691.90 C227.47,689.70 230.15,683.58 232.60,681.30 C235.05,679.02 237.80,679.42 239.90,678.20 C242.00,676.98 243.27,675.13 245.20,674.00 C247.13,672.87 249.57,671.83 251.50,671.40 C253.43,670.97 255.05,671.15 256.80,671.40 C258.55,671.65 260.25,672.73 262.00,672.90 C263.75,673.07 265.63,672.30 267.30,672.40 C268.97,672.50 270.20,672.98 272.00,673.50 C273.80,674.02 275.62,674.90 278.10,675.50 C280.58,676.10 283.97,676.28 286.90,677.10 C289.83,677.92 292.78,679.12 295.70,680.40 C298.62,681.68 301.48,683.33 304.40,684.80 C307.32,686.27 310.47,687.55 313.20,689.20 C315.93,690.85 318.62,692.70 320.80,694.70 C322.98,696.70 324.65,699.02 326.30,701.20 C327.95,703.38 329.42,705.60 330.70,707.80 C331.98,710.00 332.90,712.40 334.00,714.40 C335.10,716.40 336.75,717.52 337.30,719.80 C337.85,722.08 337.48,725.25 337.30,728.10 C337.12,730.95 336.93,734.52 336.20,736.90 C335.47,739.28 334.55,740.75 332.90,742.40 C331.25,744.05 328.85,745.53 326.30,746.80 C323.75,748.07 320.52,749.10 317.60,750.00 C314.68,750.90 311.37,751.65 308.80,752.20 C306.23,752.75 303.67,752.57 302.20,753.30 C300.73,754.03 300.45,755.32 300.00,756.60 C299.55,757.88 300.03,759.72 299.50,761.00 C298.97,762.28 297.98,763.38 296.80,764.30 C295.62,765.22 294.05,765.77 292.40,766.50 C290.75,767.23 288.73,768.17 286.90,768.70 C285.07,769.23 283.23,769.70 281.40,769.70 C279.57,769.70 277.90,769.42 275.90,768.70 C273.90,767.98 271.53,767.00 269.40,765.40 C267.27,763.80 265.38,760.67 263.10,759.10 C260.82,757.53 258.33,757.22 255.70,756.00 C253.07,754.78 249.93,753.03 247.30,751.80 C244.67,750.57 242.52,749.63 239.90,748.60 C237.28,747.57 234.15,746.33 231.60,745.60 C229.05,744.87 227.52,744.37 224.60,744.20 C221.68,744.03 217.03,744.72 214.10,744.60 C211.17,744.48 208.65,744.27 207.00,743.50 C205.35,742.73 204.78,741.98 204.20,740.00 C203.62,738.02 203.55,734.18 203.50,731.60Z" fill="#fff" filter="url(#val1)" opacity="0.25"/>
<path d="M203.50,731.60 C203.45,729.02 203.55,726.50 203.90,724.50 C204.25,722.50 204.73,721.00 205.60,719.60 C206.47,718.20 207.98,717.15 209.10,716.10 C210.22,715.05 211.65,714.47 212.30,713.30 C212.95,712.13 212.70,710.98 213.00,709.10 C213.30,707.22 213.75,703.88 214.10,702.00 C214.45,700.12 214.28,699.05 215.10,697.80 C215.92,696.55 217.32,695.48 219.00,694.50 C220.68,693.52 222.93,694.10 225.20,691.90 C227.47,689.70 230.15,683.58 232.60,681.30 C235.05,679.02 237.80,679.42 239.90,678.20 C242.00,676.98 243.27,675.13 245.20,674.00 C247.13,672.87 249.57,671.83 251.50,671.40 C253.43,670.97 255.05,671.15 256.80,671.40 C258.55,671.65 260.25,672.73 262.00,672.90 C263.75,673.07 265.63,672.30 267.30,672.40 C268.97,672.50 270.20,672.98 272.00,673.50 C273.80,674.02 275.62,674.90 278.10,675.50 C280.58,676.10 283.97,676.28 286.90,677.10 C289.83,677.92 292.78,679.12 295.70,680.40 C298.62,681.68 301.48,683.33 304.40,684.80 C307.32,686.27 310.47,687.55 313.20,689.20 C315.93,690.85 318.62,692.70 320.80,694.70 C322.98,696.70 324.65,699.02 326.30,701.20 C327.95,703.38 329.42,705.60 330.70,707.80 C331.98,710.00 332.90,712.40 334.00,714.40 C335.10,716.40 336.75,717.52 337.30,719.80 C337.85,722.08 337.48,725.25 337.30,728.10 C337.12,730.95 336.93,734.52 336.20,736.90 C335.47,739.28 334.55,740.75 332.90,742.40 C331.25,744.05 328.85,745.53 326.30,746.80 C323.75,748.07 320.52,749.10 317.60,750.00 C314.68,750.90 311.37,751.65 308.80,752.20 C306.23,752.75 303.67,752.57 302.20,753.30 C300.73,754.03 300.45,755.32 300.00,756.60 C299.55,757.88 300.03,759.72 299.50,761.00 C298.97,762.28 297.98,763.38 296.80,764.30 C295.62,765.22 294.05,765.77 292.40,766.50 C290.75,767.23 288.73,768.17 286.90,768.70 C285.07,769.23 283.23,769.70 281.40,769.70 C279.57,769.70 277.90,769.42 275.90,768.70 C273.90,767.98 271.53,767.00 269.40,765.40 C267.27,763.80 265.38,760.67 263.10,759.10 C260.82,757.53 258.33,757.22 255.70,756.00 C253.07,754.78 249.93,753.03 247.30,751.80 C244.67,750.57 242.52,749.63 239.90,748.60 C237.28,747.57 234.15,746.33 231.60,745.60 C229.05,744.87 227.52,744.37 224.60,744.20 C221.68,744.03 217.03,744.72 214.10,744.60 C211.17,744.48 208.65,744.27 207.00,743.50 C205.35,742.73 204.78,741.98 204.20,740.00 C203.62,738.02 203.55,734.18 203.50,731.60Z" fill="#fff" filter="url(#sul1)" opacity="0.75"/>
<path d="M203.50,731.60 C203.45,729.02 203.55,726.50 203.90,724.50 C204.25,722.50 204.73,721.00 205.60,719.60 C206.47,718.20 207.98,717.15 209.10,716.10 C210.22,715.05 211.65,714.47 212.30,713.30 C212.95,712.13 212.70,710.98 213.00,709.10 C213.30,707.22 213.75,703.88 214.10,702.00 C214.45,700.12 214.28,699.05 215.10,697.80 C215.92,696.55 217.32,695.48 219.00,694.50 C220.68,693.52 222.93,694.10 225.20,691.90 C227.47,689.70 230.15,683.58 232.60,681.30 C235.05,679.02 237.80,679.42 239.90,678.20 C242.00,676.98 243.27,675.13 245.20,674.00 C247.13,672.87 249.57,671.83 251.50,671.40 C253.43,670.97 255.05,671.15 256.80,671.40 C258.55,671.65 260.25,672.73 262.00,672.90 C263.75,673.07 265.63,672.30 267.30,672.40 C268.97,672.50 270.20,672.98 272.00,673.50 C273.80,674.02 275.62,674.90 278.10,675.50 C280.58,676.10 283.97,676.28 286.90,677.10 C289.83,677.92 292.78,679.12 295.70,680.40 C298.62,681.68 301.48,683.33 304.40,684.80 C307.32,686.27 310.47,687.55 313.20,689.20 C315.93,690.85 318.62,692.70 320.80,694.70 C322.98,696.70 324.65,699.02 326.30,701.20 C327.95,703.38 329.42,705.60 330.70,707.80 C331.98,710.00 332.90,712.40 334.00,714.40 C335.10,716.40 336.75,717.52 337.30,719.80 C337.85,722.08 337.48,725.25 337.30,728.10 C337.12,730.95 336.93,734.52 336.20,736.90 C335.47,739.28 334.55,740.75 332.90,742.40 C331.25,744.05 328.85,745.53 326.30,746.80 C323.75,748.07 320.52,749.10 317.60,750.00 C314.68,750.90 311.37,751.65 308.80,752.20 C306.23,752.75 303.67,752.57 302.20,753.30 C300.73,754.03 300.45,755.32 300.00,756.60 C299.55,757.88 300.03,759.72 299.50,761.00 C298.97,762.28 297.98,763.38 296.80,764.30 C295.62,765.22 294.05,765.77 292.40,766.50 C290.75,767.23 288.73,768.17 286.90,768.70 C285.07,769.23 283.23,769.70 281.40,769.70 C279.57,769.70 277.90,769.42 275.90,768.70 C273.90,767.98 271.53,767.00 269.40,765.40 C267.27,763.80 265.38,760.67 263.10,759.10 C260.82,757.53 258.33,757.22 255.70,756.00 C253.07,754.78 249.93,753.03 247.30,751.80 C244.67,750.57 242.52,749.63 239.90,748.60 C237.28,747.57 234.15,746.33 231.60,745.60 C229.05,744.87 227.52,744.37 224.60,744.20 C221.68,744.03 217.03,744.72 214.10,744.60 C211.17,744.48 208.65,744.27 207.00,743.50 C205.35,742.73 204.78,741.98 204.20,740.00 C203.62,738.02 203.55,734.18 203.50,731.60Z" fill="none" stroke="#6e6e6e" stroke-width="0.8"/>
<circle cx="241.8" cy="677.1" r="2.05" fill="#d60505" stroke="#700000" stroke-opacity="0.3" stroke-width="0.5"/>
<circle cx="251.3" cy="677.1" r="2.05" fill="#d60505" stroke="#700000" stroke-opacity="0.3" stroke-width="0.5"/>
<circle cx="260.2" cy="676.6" r="2.05" fill="#fae600" stroke="#700000" stroke-opacity="0.3" stroke-width="0.5"/>
<circle cx="270.2" cy="674.0" r="2.05" fill="#fae600" stroke="#700000" stroke-opacity="0.3" stroke-width="0.5"/>
<circle cx="267.8" cy="681.0" r="2.05" fill="#d60505" stroke="#700000" stroke-opacity="0.3" stroke-width="0.5"/>
<circle cx="242.4" cy="684.0" r="2.05" fill="#d60505" stroke="#700000" stroke-opacity="0.3" stroke-width="0.5"/>
<circle cx="245.0" cy="688.4" r="2.05" fill="#d60505" stroke="#700000" stroke-opacity="0.3" stroke-width="0.5"/>
<circle cx="261.8" cy="686.6" r="2.05" fill="#a00303" stroke="#700000" stroke-opacity="0.3" stroke-width="0.5"/>
<circle cx="271.3" cy="690.1" r="2.05" fill="#a00303" stroke="#700000" stroke-opacity="0.3" stroke-width="0.5"/>
<circle cx="222.1" cy="695.8" r="2.05" fill="#a00303" stroke="#700000" stroke-opacity="0.3" stroke-width="0.5"/>
<circle cx="230.2" cy="695.5" r="2.05" fill="#f67800" stroke="#700000" stroke-opacity="0.3" stroke-width="0.5"/>
<circle cx="234.2" cy="696.8" r="2.05" fill="#d60505" stroke="#700000" stroke-opacity="0.3" stroke-width="0.5"/>
<circle cx="220.0" cy="701.3" r="2.05" fill="#d60505" stroke="#700000" stroke-opacity="0.3" stroke-width="0.5"/>
<circle cx="249.9" cy="695.3" r="2.05" fill="#d60505" stroke="#700000" stroke-opacity="0.3" stroke-width="0.5"/>
<circle cx="253.1" cy="693.6" r="2.05" fill="#d60505" stroke="#700000" stroke-opacity="0.3" stroke-width="0.5"/>
<circle cx="257.3" cy="692.4" r="2.05" fill="#a00303" stroke="#700000" stroke-opacity="0.3" stroke-width="0.5"/>
<circle cx="254.4" cy="698.7" r="2.05" fill="#f67800" stroke="#700000" stroke-opacity="0.3" stroke-width="0.5"/>
<circle cx="258.1" cy="697.8" r="2.05" fill="#d60505" stroke="#700000" stroke-opacity="0.3" stroke-width="0.5"/>
<circle cx="263.6" cy="704.5" r="2.05" fill="#d60505" stroke="#700000" stroke-opacity="0.3" stroke-width="0.5"/>
<circle cx="218.9" cy="709.9" r="2.05" fill="#a00303" stroke="#700000" stroke-opacity="0.3" stroke-width="0.5"/>
<circle cx="222.6" cy="714.5" r="2.05" fill="#d60505" stroke="#700000" stroke-opacity="0.3" stroke-width="0.5"/>
<circle cx="230.5" cy="716.6" r="2.05" fill="#f67800" stroke="#700000" stroke-opacity="0.3" stroke-width="0.5"/>
<circle cx="248.7" cy="710.0" r="2.05" fill="#a00303" stroke="#700000" stroke-opacity="0.3" stroke-width="0.5"/>
<circle cx="242.0" cy="713.2" r="2.05" fill="#d60505" stroke="#700000" stroke-opacity="0.3" stroke-width="0.5"/>
<circle cx="242.6" cy="716.6" r="2.05" fill="#d60505" stroke="#700000" stroke-opacity="0.3" stroke-width="0.5"/>
<circle cx="254.1" cy="712.7" r="2.05" fill="#fae600" stroke="#700000" stroke-opacity="0.3" stroke-width="0.5"/>
<circle cx="251.5" cy="714.2" r="2.05" fill="#d60505" stroke="#700000" stroke-opacity="0.3" stroke-width="0.5"/>
<circle cx="253.6" cy="715.5" r="2.05" fill="#d60505" stroke="#700000" stroke-opacity="0.3" stroke-width="0.5"/>
<circle cx="262.9" cy="711.3" r="2.05" fill="#d60505" stroke="#700000" stroke-opacity="0.3" stroke-width="0.5"/>
<circle cx="265.7" cy="712.9" r="2.05" fill="#d60505" stroke="#700000" stroke-opacity="0.3" stroke-width="0.5"/>
<circle cx="269.9" cy="716.0" r="2.05" fill="#d60505" stroke="#700000" stroke-opacity="0.3" stroke-width="0.5"/>
<circle cx="248.9" cy="718.7" r="2.05" fill="#f67800" stroke="#700000" stroke-opacity="0.3" stroke-width="0.5"/>
<circle cx="258.3" cy="719.2" r="2.05" fill="#d60505" stroke="#700000" stroke-opacity="0.3" stroke-width="0.5"/>
<circle cx="221.0" cy="719.2" r="2.05" fill="#a00303" stroke="#700000" stroke-opacity="0.3" stroke-width="0.5"/>
<circle cx="286.4" cy="679.9" r="2.05" fill="#d60505" stroke="#700000" stroke-opacity="0.3" stroke-width="0.5"/>
<circle cx="277.9" cy="690.8" r="2.05" fill="#d60505" stroke="#700000" stroke-opacity="0.3" stroke-width="0.5"/>
<circle cx="280.9" cy="689.7" r="2.05" fill="#a00303" stroke="#700000" stroke-opacity="0.3" stroke-width="0.5"/>
<circle cx="298.7" cy="691.2" r="2.05" fill="#680000" stroke="#700000" stroke-opacity="0.3" stroke-width="0.5"/>
<circle cx="274.3" cy="697.9" r="2.05" fill="#d60505" stroke="#700000" stroke-opacity="0.3" stroke-width="0.5"/>
<circle cx="276.8" cy="703.2" r="2.05" fill="#d60505" stroke="#700000" stroke-opacity="0.3" stroke-width="0.5"/>
<circle cx="301.1" cy="699.3" r="2.05" fill="#f67800" stroke="#700000" stroke-opacity="0.3" stroke-width="0.5"/>
<circle cx="313.9" cy="696.3" r="2.05" fill="#d60505" stroke="#700000" stroke-opacity="0.3" stroke-width="0.5"/>
<circle cx="265.0" cy="704.5" r="2.05" fill="#d60505" stroke="#700000" stroke-opacity="0.3" stroke-width="0.5"/>
<circle cx="291.6" cy="707.8" r="2.05" fill="#d60505" stroke="#700000" stroke-opacity="0.3" stroke-width="0.5"/>
<circle cx="292.9" cy="711.8" r="2.05" fill="#d60505" stroke="#700000" stroke-opacity="0.3" stroke-width="0.5"/>
<circle cx="291.3" cy="713.1" r="2.05" fill="#fae600" stroke="#700000" stroke-opacity="0.3" stroke-width="0.5"/>
<circle cx="305.3" cy="706.7" r="2.05" fill="#a00303" stroke="#700000" stroke-opacity="0.3" stroke-width="0.5"/>
<circle cx="312.8" cy="706.2" r="2.05" fill="#f67800" stroke="#700000" stroke-opacity="0.3" stroke-width="0.5"/>
<circle cx="312.8" cy="709.8" r="2.05" fill="#d60505" stroke="#700000" stroke-opacity="0.3" stroke-width="0.5"/>
<circle cx="319.4" cy="712.0" r="2.05" fill="#a00303" stroke="#700000" stroke-opacity="0.3" stroke-width="0.5"/>
<circle cx="271.8" cy="712.2" r="2.05" fill="#a00303" stroke="#700000" stroke-opacity="0.3" stroke-width="0.5"/>
<circle cx="305.5" cy="718.2" r="2.05" fill="#a00303" stroke="#700000" stroke-opacity="0.3" stroke-width="0.5"/>
<circle cx="336.0" cy="719.3" r="2.05" fill="#d60505" stroke="#700000" stroke-opacity="0.3" stroke-width="0.5"/>
<circle cx="234.7" cy="726.0" r="2.05" fill="#a00303" stroke="#700000" stroke-opacity="0.3" stroke-width="0.5"/>
<circle cx="251.5" cy="722.9" r="2.05" fill="#d60505" stroke="#700000" stroke-opacity="0.3" stroke-width="0.5"/>
<circle cx="254.7" cy="724.5" r="2.05" fill="#f67800" stroke="#700000" stroke-opacity="0.3" stroke-width="0.5"/>
<circle cx="258.9" cy="724.5" r="2.05" fill="#d60505" stroke="#700000" stroke-opacity="0.3" stroke-width="0.5"/>
<circle cx="262.0" cy="727.6" r="2.05" fill="#d60505" stroke="#700000" stroke-opacity="0.3" stroke-width="0.5"/>
<circle cx="267.3" cy="726.0" r="2.05" fill="#f67800" stroke="#700000" stroke-opacity="0.3" stroke-width="0.5"/>
<circle cx="265.7" cy="730.8" r="2.05" fill="#fae600" stroke="#700000" stroke-opacity="0.3" stroke-width="0.5"/>
<circle cx="269.9" cy="728.1" r="2.05" fill="#d60505" stroke="#700000" stroke-opacity="0.3" stroke-width="0.5"/>
<circle cx="242.0" cy="730.8" r="2.05" fill="#f67800" stroke="#700000" stroke-opacity="0.3" stroke-width="0.5"/>
<circle cx="243.1" cy="733.4" r="2.05" fill="#a00303" stroke="#700000" stroke-opacity="0.3" stroke-width="0.5"/>
<circle cx="246.2" cy="731.3" r="2.05" fill="#fae600" stroke="#700000" stroke-opacity="0.3" stroke-width="0.5"/>
<circle cx="247.8" cy="733.9" r="2.05" fill="#f67800" stroke="#700000" stroke-opacity="0.3" stroke-width="0.5"/>
<circle cx="251.5" cy="733.9" r="2.05" fill="#d60505" stroke="#700000" stroke-opacity="0.3" stroke-width="0.5"/>
<circle cx="253.6" cy="736.5" r="2.05" fill="#d60505" stroke="#700000" stroke-opacity="0.3" stroke-width="0.5"/>
<circle cx="256.8" cy="736.0" r="2.05" fill="#d60505" stroke="#700000" stroke-opacity="0.3" stroke-width="0.5"/>
<circle cx="257.3" cy="739.7" r="2.05" fill="#d60505" stroke="#700000" stroke-opacity="0.3" stroke-width="0.5"/>
<circle cx="254.7" cy="741.8" r="2.05" fill="#f67800" stroke="#700000" stroke-opacity="0.3" stroke-width="0.5"/>
<circle cx="256.8" cy="742.9" r="2.05" fill="#fae600" stroke="#700000" stroke-opacity="0.3" stroke-width="0.5"/>
<circle cx="261.5" cy="744.4" r="2.05" fill="#d60505" stroke="#700000" stroke-opacity="0.3" stroke-width="0.5"/>
<circle cx="265.2" cy="741.8" r="2.05" fill="#f67800" stroke="#700000" stroke-opacity="0.3" stroke-width="0.5"/>
<circle cx="268.3" cy="742.9" r="2.05" fill="#d60505" stroke="#700000" stroke-opacity="0.3" stroke-width="0.5"/>
<circle cx="264.1" cy="746.5" r="2.05" fill="#a00303" stroke="#700000" stroke-opacity="0.3" stroke-width="0.5"/>
<circle cx="267.8" cy="745.5" r="2.05" fill="#f67800" stroke="#700000" stroke-opacity="0.3" stroke-width="0.5"/>
<circle cx="255.2" cy="745.5" r="2.05" fill="#d60505" stroke="#700000" stroke-opacity="0.3" stroke-width="0.5"/>
<circle cx="245.4" cy="750.0" r="2.05" fill="#d60505" stroke="#700000" stroke-opacity="0.3" stroke-width="0.5"/>
<circle cx="259.4" cy="756.0" r="2.05" fill="#d60505" stroke="#700000" stroke-opacity="0.3" stroke-width="0.5"/>
<circle cx="269.4" cy="751.8" r="2.05" fill="#d60505" stroke="#700000" stroke-opacity="0.3" stroke-width="0.5"/>
<circle cx="271.0" cy="752.3" r="2.05" fill="#f67800" stroke="#700000" stroke-opacity="0.3" stroke-width="0.5"/>
<circle cx="270.4" cy="758.1" r="2.05" fill="#d60505" stroke="#700000" stroke-opacity="0.3" stroke-width="0.5"/>
<circle cx="270.4" cy="762.3" r="2.05" fill="#d60505" stroke="#700000" stroke-opacity="0.3" stroke-width="0.5"/>
<circle cx="275.1" cy="723.2" r="2.05" fill="#fae600" stroke="#700000" stroke-opacity="0.3" stroke-width="0.5"/>
<circle cx="280.3" cy="723.2" r="2.05" fill="#a00303" stroke="#700000" stroke-opacity="0.3" stroke-width="0.5"/>
<circle cx="266.1" cy="729.2" r="2.05" fill="#f67800" stroke="#700000" stroke-opacity="0.3" stroke-width="0.5"/>
<circle cx="273.2" cy="729.8" r="2.05" fill="#d60505" stroke="#700000" stroke-opacity="0.3" stroke-width="0.5"/>
<circle cx="275.9" cy="728.7" r="2.05" fill="#d60505" stroke="#700000" stroke-opacity="0.3" stroke-width="0.5"/>
<circle cx="277.6" cy="731.4" r="2.05" fill="#d60505" stroke="#700000" stroke-opacity="0.3" stroke-width="0.5"/>
<circle cx="274.3" cy="733.6" r="2.05" fill="#d60505" stroke="#700000" stroke-opacity="0.3" stroke-width="0.5"/>
<circle cx="275.4" cy="735.3" r="2.05" fill="#d60505" stroke="#700000" stroke-opacity="0.3" stroke-width="0.5"/>
<circle cx="282.0" cy="736.4" r="2.05" fill="#d60505" stroke="#700000" stroke-opacity="0.3" stroke-width="0.5"/>
<circle cx="285.3" cy="738.0" r="2.05" fill="#d60505" stroke="#700000" stroke-opacity="0.3" stroke-width="0.5"/>
<circle cx="288.5" cy="738.0" r="2.05" fill="#d60505" stroke="#700000" stroke-opacity="0.3" stroke-width="0.5"/>
<circle cx="285.8" cy="741.3" r="2.05" fill="#f67800" stroke="#700000" stroke-opacity="0.3" stroke-width="0.5"/>
<circle cx="288.5" cy="742.4" r="2.05" fill="#fae600" stroke="#700000" stroke-opacity="0.3" stroke-width="0.5"/>
<circle cx="291.8" cy="744.0" r="2.05" fill="#d60505" stroke="#700000" stroke-opacity="0.3" stroke-width="0.5"/>
<circle cx="288.5" cy="746.2" r="2.05" fill="#d60505" stroke="#700000" stroke-opacity="0.3" stroke-width="0.5"/>
<circle cx="294.6" cy="748.7" r="2.05" fill="#f67800" stroke="#700000" stroke-opacity="0.3" stroke-width="0.5"/>
<circle cx="273.8" cy="744.6" r="2.05" fill="#f67800" stroke="#700000" stroke-opacity="0.3" stroke-width="0.5"/>
<circle cx="275.9" cy="744.0" r="2.05" fill="#d60505" stroke="#700000" stroke-opacity="0.3" stroke-width="0.5"/>
<circle cx="271.0" cy="747.8" r="2.05" fill="#d60505" stroke="#700000" stroke-opacity="0.3" stroke-width="0.5"/>
<circle cx="274.9" cy="749.5" r="2.05" fill="#d60505" stroke="#700000" stroke-opacity="0.3" stroke-width="0.5"/>
<circle cx="278.1" cy="752.8" r="2.05" fill="#fae600" stroke="#700000" stroke-opacity="0.3" stroke-width="0.5"/>
<circle cx="278.7" cy="755.5" r="2.05" fill="#fae600" stroke="#700000" stroke-opacity="0.3" stroke-width="0.5"/>
<circle cx="282.0" cy="750.6" r="2.05" fill="#d60505" stroke="#700000" stroke-opacity="0.3" stroke-width="0.5"/>
<circle cx="283.1" cy="753.3" r="2.05" fill="#f67800" stroke="#700000" stroke-opacity="0.3" stroke-width="0.5"/>
<circle cx="284.7" cy="756.1" r="2.05" fill="#d60505" stroke="#700000" stroke-opacity="0.3" stroke-width="0.5"/>
<circle cx="288.0" cy="752.8" r="2.05" fill="#d60505" stroke="#700000" stroke-opacity="0.3" stroke-width="0.5"/>
<circle cx="276.5" cy="754.4" r="2.05" fill="#d60505" stroke="#700000" stroke-opacity="0.3" stroke-width="0.5"/>
<circle cx="273.8" cy="763.2" r="2.05" fill="#d60505" stroke="#700000" stroke-opacity="0.3" stroke-width="0.5"/>
<circle cx="275.9" cy="765.9" r="2.05" fill="#f67800" stroke="#700000" stroke-opacity="0.3" stroke-width="0.5"/>
<circle cx="279.2" cy="767.0" r="2.05" fill="#d60505" stroke="#700000" stroke-opacity="0.3" stroke-width="0.5"/>
<circle cx="280.9" cy="768.7" r="2.05" fill="#fae600" stroke="#700000" stroke-opacity="0.3" stroke-width="0.5"/>
<circle cx="285.3" cy="768.1" r="2.05" fill="#f67800" stroke="#700000" stroke-opacity="0.3" stroke-width="0.5"/>
<circle cx="287.4" cy="761.5" r="2.05" fill="#1a0000" stroke="#700000" stroke-opacity="0.3" stroke-width="0.5"/>
<circle cx="294.6" cy="764.8" r="2.05" fill="#a00303" stroke="#700000" stroke-opacity="0.3" stroke-width="0.5"/>
<circle cx="298.4" cy="760.8" r="2.05" fill="#f67800" stroke="#700000" stroke-opacity="0.3" stroke-width="0.5"/>
<circle cx="299.8" cy="753.1" r="2.05" fill="#d60505" stroke="#700000" stroke-opacity="0.3" stroke-width="0.5"/>
<circle cx="311.0" cy="736.9" r="2.05" fill="#d60505" stroke="#700000" stroke-opacity="0.3" stroke-width="0.5"/>
<circle cx="314.3" cy="736.9" r="2.05" fill="#d60505" stroke="#700000" stroke-opacity="0.3" stroke-width="0.5"/>
<circle cx="328.0" cy="736.4" r="2.05" fill="#a00303" stroke="#700000" stroke-opacity="0.3" stroke-width="0.5"/>
<circle cx="329.6" cy="739.1" r="2.05" fill="#d60505" stroke="#700000" stroke-opacity="0.3" stroke-width="0.5"/>
<circle cx="331.2" cy="733.6" r="2.05" fill="#a00303" stroke="#700000" stroke-opacity="0.3" stroke-width="0.5"/>
<circle cx="334.5" cy="729.0" r="2.05" fill="#a00303" stroke="#700000" stroke-opacity="0.3" stroke-width="0.5"/>
<circle cx="250.9" cy="720.3" r="2.05" fill="#f67800" stroke="#700000" stroke-opacity="0.3" stroke-width="0.5"/>
<circle cx="259.7" cy="721.1" r="2.05" fill="#d60505" stroke="#700000" stroke-opacity="0.3" stroke-width="0.5"/>
<circle cx="256.6" cy="723.3" r="2.05" fill="#f67800" stroke="#700000" stroke-opacity="0.3" stroke-width="0.5"/>
<circle cx="261.0" cy="724.6" r="2.05" fill="#d60505" stroke="#700000" stroke-opacity="0.3" stroke-width="0.5"/>
<circle cx="254.9" cy="726.4" r="2.05" fill="#d60505" stroke="#700000" stroke-opacity="0.3" stroke-width="0.5"/>
<circle cx="258.8" cy="727.7" r="2.05" fill="#d60505" stroke="#700000" stroke-opacity="0.3" stroke-width="0.5"/>
<circle cx="263.2" cy="729.5" r="2.05" fill="#a00303" stroke="#700000" stroke-opacity="0.3" stroke-width="0.5"/>
<circle cx="267.2" cy="728.1" r="2.05" fill="#f67800" stroke="#700000" stroke-opacity="0.3" stroke-width="0.5"/>
<circle cx="272.0" cy="728.6" r="2.05" fill="#a00303" stroke="#700000" stroke-opacity="0.3" stroke-width="0.5"/>
<circle cx="277.7" cy="726.8" r="2.05" fill="#d60505" stroke="#700000" stroke-opacity="0.3" stroke-width="0.5"/>
<circle cx="275.5" cy="731.6" r="2.05" fill="#d60505" stroke="#700000" stroke-opacity="0.3" stroke-width="0.5"/>
<circle cx="275.9" cy="733.8" r="2.05" fill="#d60505" stroke="#700000" stroke-opacity="0.3" stroke-width="0.5"/>
<circle cx="253.1" cy="735.1" r="2.05" fill="#d60505" stroke="#700000" stroke-opacity="0.3" stroke-width="0.5"/>
<circle cx="255.3" cy="737.8" r="2.05" fill="#d60505" stroke="#700000" stroke-opacity="0.3" stroke-width="0.5"/>
<circle cx="261.0" cy="747.0" r="2.05" fill="#d60505" stroke="#700000" stroke-opacity="0.3" stroke-width="0.5"/>
<circle cx="263.6" cy="744.8" r="2.05" fill="#d60505" stroke="#700000" stroke-opacity="0.3" stroke-width="0.5"/>
<circle cx="266.3" cy="747.0" r="2.05" fill="#d60505" stroke="#700000" stroke-opacity="0.3" stroke-width="0.5"/>
<circle cx="286.0" cy="739.5" r="2.05" fill="#d60505" stroke="#700000" stroke-opacity="0.3" stroke-width="0.5"/>
<circle cx="284.7" cy="742.6" r="2.05" fill="#f67800" stroke="#700000" stroke-opacity="0.3" stroke-width="0.5"/>
<circle cx="287.7" cy="741.3" r="2.05" fill="#f67800" stroke="#700000" stroke-opacity="0.3" stroke-width="0.5"/>
<circle cx="287.7" cy="744.8" r="2.05" fill="#fae600" stroke="#700000" stroke-opacity="0.3" stroke-width="0.5"/>
<circle cx="286.0" cy="743.9" r="2.05" fill="#d60505" stroke="#700000" stroke-opacity="0.3" stroke-width="0.5"/>
<circle cx="271.5" cy="746.5" r="2.05" fill="#d60505" stroke="#700000" stroke-opacity="0.3" stroke-width="0.5"/>
<circle cx="273.7" cy="746.1" r="2.05" fill="#fae600" stroke="#700000" stroke-opacity="0.3" stroke-width="0.5"/>
<circle cx="272.4" cy="751.8" r="2.05" fill="#f67800" stroke="#700000" stroke-opacity="0.3" stroke-width="0.5"/>
<circle cx="269.8" cy="754.4" r="2.05" fill="#d60505" stroke="#700000" stroke-opacity="0.3" stroke-width="0.5"/>
<circle cx="271.5" cy="762.3" r="2.05" fill="#d60505" stroke="#700000" stroke-opacity="0.3" stroke-width="0.5"/>
<path d="M363.20,734.40 C362.85,731.42 363.93,727.95 364.20,725.50 C364.47,723.05 363.92,722.42 364.80,719.70 C365.68,716.98 367.50,712.70 369.50,709.20 C371.50,705.70 374.18,701.85 376.80,698.70 C379.42,695.55 382.22,692.75 385.20,690.30 C388.18,687.85 391.37,685.93 394.70,684.00 C398.03,682.07 401.70,680.20 405.20,678.70 C408.70,677.20 412.37,675.87 415.70,675.00 C419.03,674.13 422.48,673.93 425.20,673.50 C427.92,673.07 430.42,672.77 432.00,672.40 C433.58,672.03 432.55,671.48 434.70,671.30 C436.85,671.12 441.70,670.92 444.90,671.30 C448.10,671.68 451.10,672.47 453.90,673.60 C456.70,674.73 458.90,676.52 461.70,678.10 C464.50,679.68 468.17,681.12 470.70,683.10 C473.23,685.08 474.85,687.57 476.90,690.00 C478.95,692.43 481.22,695.65 483.00,697.70 C484.78,699.75 486.67,700.75 487.60,702.30 C488.53,703.85 487.82,705.22 488.60,707.00 C489.38,708.78 491.05,711.23 492.30,713.00 C493.55,714.77 494.95,715.93 496.10,717.60 C497.25,719.27 498.50,720.95 499.20,723.00 C499.90,725.05 500.18,727.72 500.30,729.90 C500.42,732.08 500.22,734.05 499.90,736.10 C499.58,738.15 499.17,740.67 498.40,742.20 C497.63,743.73 496.58,744.90 495.30,745.30 C494.02,745.70 492.23,744.72 490.70,744.60 C489.17,744.48 487.38,744.48 486.10,744.60 C484.82,744.72 484.15,744.93 483.00,745.30 C481.85,745.67 480.87,746.42 479.20,746.80 C477.53,747.18 475.92,746.90 473.00,747.60 C470.08,748.30 465.08,749.97 461.70,751.00 C458.32,752.03 455.50,752.68 452.70,753.80 C449.90,754.92 447.33,756.48 444.90,757.70 C442.47,758.92 440.35,759.78 438.10,761.10 C435.85,762.42 433.55,764.17 431.40,765.60 C429.25,767.03 427.28,768.93 425.20,769.70 C423.12,770.47 420.83,770.38 418.90,770.20 C416.97,770.02 415.53,769.22 413.60,768.60 C411.67,767.98 409.23,767.20 407.30,766.50 C405.37,765.80 402.97,765.45 402.00,764.40 C401.03,763.35 401.50,761.77 401.50,760.20 C401.50,758.63 402.27,756.13 402.00,755.00 C401.73,753.87 401.12,753.77 399.90,753.40 C398.68,753.03 396.45,753.25 394.70,752.80 C392.95,752.35 391.68,751.22 389.40,750.70 C387.12,750.18 383.80,750.22 381.00,749.70 C378.20,749.18 375.05,748.65 372.60,747.60 C370.15,746.55 367.87,745.60 366.30,743.40 C364.73,741.20 363.55,737.38 363.20,734.40Z" fill="url(#bg2)"/>
<path d="M363.20,734.40 C362.85,731.42 363.93,727.95 364.20,725.50 C364.47,723.05 363.92,722.42 364.80,719.70 C365.68,716.98 367.50,712.70 369.50,709.20 C371.50,705.70 374.18,701.85 376.80,698.70 C379.42,695.55 382.22,692.75 385.20,690.30 C388.18,687.85 391.37,685.93 394.70,684.00 C398.03,682.07 401.70,680.20 405.20,678.70 C408.70,677.20 412.37,675.87 415.70,675.00 C419.03,674.13 422.48,673.93 425.20,673.50 C427.92,673.07 430.42,672.77 432.00,672.40 C433.58,672.03 432.55,671.48 434.70,671.30 C436.85,671.12 441.70,670.92 444.90,671.30 C448.10,671.68 451.10,672.47 453.90,673.60 C456.70,674.73 458.90,676.52 461.70,678.10 C464.50,679.68 468.17,681.12 470.70,683.10 C473.23,685.08 474.85,687.57 476.90,690.00 C478.95,692.43 481.22,695.65 483.00,697.70 C484.78,699.75 486.67,700.75 487.60,702.30 C488.53,703.85 487.82,705.22 488.60,707.00 C489.38,708.78 491.05,711.23 492.30,713.00 C493.55,714.77 494.95,715.93 496.10,717.60 C497.25,719.27 498.50,720.95 499.20,723.00 C499.90,725.05 500.18,727.72 500.30,729.90 C500.42,732.08 500.22,734.05 499.90,736.10 C499.58,738.15 499.17,740.67 498.40,742.20 C497.63,743.73 496.58,744.90 495.30,745.30 C494.02,745.70 492.23,744.72 490.70,744.60 C489.17,744.48 487.38,744.48 486.10,744.60 C484.82,744.72 484.15,744.93 483.00,745.30 C481.85,745.67 480.87,746.42 479.20,746.80 C477.53,747.18 475.92,746.90 473.00,747.60 C470.08,748.30 465.08,749.97 461.70,751.00 C458.32,752.03 455.50,752.68 452.70,753.80 C449.90,754.92 447.33,756.48 444.90,757.70 C442.47,758.92 440.35,759.78 438.10,761.10 C435.85,762.42 433.55,764.17 431.40,765.60 C429.25,767.03 427.28,768.93 425.20,769.70 C423.12,770.47 420.83,770.38 418.90,770.20 C416.97,770.02 415.53,769.22 413.60,768.60 C411.67,767.98 409.23,767.20 407.30,766.50 C405.37,765.80 402.97,765.45 402.00,764.40 C401.03,763.35 401.50,761.77 401.50,760.20 C401.50,758.63 402.27,756.13 402.00,755.00 C401.73,753.87 401.12,753.77 399.90,753.40 C398.68,753.03 396.45,753.25 394.70,752.80 C392.95,752.35 391.68,751.22 389.40,750.70 C387.12,750.18 383.80,750.22 381.00,749.70 C378.20,749.18 375.05,748.65 372.60,747.60 C370.15,746.55 367.87,745.60 366.30,743.40 C364.73,741.20 363.55,737.38 363.20,734.40Z" fill="#fff" filter="url(#shd2)" opacity="0.6" style="mix-blend-mode:overlay"/>
<path d="M363.20,734.40 C362.85,731.42 363.93,727.95 364.20,725.50 C364.47,723.05 363.92,722.42 364.80,719.70 C365.68,716.98 367.50,712.70 369.50,709.20 C371.50,705.70 374.18,701.85 376.80,698.70 C379.42,695.55 382.22,692.75 385.20,690.30 C388.18,687.85 391.37,685.93 394.70,684.00 C398.03,682.07 401.70,680.20 405.20,678.70 C408.70,677.20 412.37,675.87 415.70,675.00 C419.03,674.13 422.48,673.93 425.20,673.50 C427.92,673.07 430.42,672.77 432.00,672.40 C433.58,672.03 432.55,671.48 434.70,671.30 C436.85,671.12 441.70,670.92 444.90,671.30 C448.10,671.68 451.10,672.47 453.90,673.60 C456.70,674.73 458.90,676.52 461.70,678.10 C464.50,679.68 468.17,681.12 470.70,683.10 C473.23,685.08 474.85,687.57 476.90,690.00 C478.95,692.43 481.22,695.65 483.00,697.70 C484.78,699.75 486.67,700.75 487.60,702.30 C488.53,703.85 487.82,705.22 488.60,707.00 C489.38,708.78 491.05,711.23 492.30,713.00 C493.55,714.77 494.95,715.93 496.10,717.60 C497.25,719.27 498.50,720.95 499.20,723.00 C499.90,725.05 500.18,727.72 500.30,729.90 C500.42,732.08 500.22,734.05 499.90,736.10 C499.58,738.15 499.17,740.67 498.40,742.20 C497.63,743.73 496.58,744.90 495.30,745.30 C494.02,745.70 492.23,744.72 490.70,744.60 C489.17,744.48 487.38,744.48 486.10,744.60 C484.82,744.72 484.15,744.93 483.00,745.30 C481.85,745.67 480.87,746.42 479.20,746.80 C477.53,747.18 475.92,746.90 473.00,747.60 C470.08,748.30 465.08,749.97 461.70,751.00 C458.32,752.03 455.50,752.68 452.70,753.80 C449.90,754.92 447.33,756.48 444.90,757.70 C442.47,758.92 440.35,759.78 438.10,761.10 C435.85,762.42 433.55,764.17 431.40,765.60 C429.25,767.03 427.28,768.93 425.20,769.70 C423.12,770.47 420.83,770.38 418.90,770.20 C416.97,770.02 415.53,769.22 413.60,768.60 C411.67,767.98 409.23,767.20 407.30,766.50 C405.37,765.80 402.97,765.45 402.00,764.40 C401.03,763.35 401.50,761.77 401.50,760.20 C401.50,758.63 402.27,756.13 402.00,755.00 C401.73,753.87 401.12,753.77 399.90,753.40 C398.68,753.03 396.45,753.25 394.70,752.80 C392.95,752.35 391.68,751.22 389.40,750.70 C387.12,750.18 383.80,750.22 381.00,749.70 C378.20,749.18 375.05,748.65 372.60,747.60 C370.15,746.55 367.87,745.60 366.30,743.40 C364.73,741.20 363.55,737.38 363.20,734.40Z" fill="#fff" filter="url(#val2)" opacity="0.25"/>
<path d="M363.20,734.40 C362.85,731.42 363.93,727.95 364.20,725.50 C364.47,723.05 363.92,722.42 364.80,719.70 C365.68,716.98 367.50,712.70 369.50,709.20 C371.50,705.70 374.18,701.85 376.80,698.70 C379.42,695.55 382.22,692.75 385.20,690.30 C388.18,687.85 391.37,685.93 394.70,684.00 C398.03,682.07 401.70,680.20 405.20,678.70 C408.70,677.20 412.37,675.87 415.70,675.00 C419.03,674.13 422.48,673.93 425.20,673.50 C427.92,673.07 430.42,672.77 432.00,672.40 C433.58,672.03 432.55,671.48 434.70,671.30 C436.85,671.12 441.70,670.92 444.90,671.30 C448.10,671.68 451.10,672.47 453.90,673.60 C456.70,674.73 458.90,676.52 461.70,678.10 C464.50,679.68 468.17,681.12 470.70,683.10 C473.23,685.08 474.85,687.57 476.90,690.00 C478.95,692.43 481.22,695.65 483.00,697.70 C484.78,699.75 486.67,700.75 487.60,702.30 C488.53,703.85 487.82,705.22 488.60,707.00 C489.38,708.78 491.05,711.23 492.30,713.00 C493.55,714.77 494.95,715.93 496.10,717.60 C497.25,719.27 498.50,720.95 499.20,723.00 C499.90,725.05 500.18,727.72 500.30,729.90 C500.42,732.08 500.22,734.05 499.90,736.10 C499.58,738.15 499.17,740.67 498.40,742.20 C497.63,743.73 496.58,744.90 495.30,745.30 C494.02,745.70 492.23,744.72 490.70,744.60 C489.17,744.48 487.38,744.48 486.10,744.60 C484.82,744.72 484.15,744.93 483.00,745.30 C481.85,745.67 480.87,746.42 479.20,746.80 C477.53,747.18 475.92,746.90 473.00,747.60 C470.08,748.30 465.08,749.97 461.70,751.00 C458.32,752.03 455.50,752.68 452.70,753.80 C449.90,754.92 447.33,756.48 444.90,757.70 C442.47,758.92 440.35,759.78 438.10,761.10 C435.85,762.42 433.55,764.17 431.40,765.60 C429.25,767.03 427.28,768.93 425.20,769.70 C423.12,770.47 420.83,770.38 418.90,770.20 C416.97,770.02 415.53,769.22 413.60,768.60 C411.67,767.98 409.23,767.20 407.30,766.50 C405.37,765.80 402.97,765.45 402.00,764.40 C401.03,763.35 401.50,761.77 401.50,760.20 C401.50,758.63 402.27,756.13 402.00,755.00 C401.73,753.87 401.12,753.77 399.90,753.40 C398.68,753.03 396.45,753.25 394.70,752.80 C392.95,752.35 391.68,751.22 389.40,750.70 C387.12,750.18 383.80,750.22 381.00,749.70 C378.20,749.18 375.05,748.65 372.60,747.60 C370.15,746.55 367.87,745.60 366.30,743.40 C364.73,741.20 363.55,737.38 363.20,734.40Z" fill="#fff" filter="url(#sul2)" opacity="0.75"/>
<path d="M363.20,734.40 C362.85,731.42 363.93,727.95 364.20,725.50 C364.47,723.05 363.92,722.42 364.80,719.70 C365.68,716.98 367.50,712.70 369.50,709.20 C371.50,705.70 374.18,701.85 376.80,698.70 C379.42,695.55 382.22,692.75 385.20,690.30 C388.18,687.85 391.37,685.93 394.70,684.00 C398.03,682.07 401.70,680.20 405.20,678.70 C408.70,677.20 412.37,675.87 415.70,675.00 C419.03,674.13 422.48,673.93 425.20,673.50 C427.92,673.07 430.42,672.77 432.00,672.40 C433.58,672.03 432.55,671.48 434.70,671.30 C436.85,671.12 441.70,670.92 444.90,671.30 C448.10,671.68 451.10,672.47 453.90,673.60 C456.70,674.73 458.90,676.52 461.70,678.10 C464.50,679.68 468.17,681.12 470.70,683.10 C473.23,685.08 474.85,687.57 476.90,690.00 C478.95,692.43 481.22,695.65 483.00,697.70 C484.78,699.75 486.67,700.75 487.60,702.30 C488.53,703.85 487.82,705.22 488.60,707.00 C489.38,708.78 491.05,711.23 492.30,713.00 C493.55,714.77 494.95,715.93 496.10,717.60 C497.25,719.27 498.50,720.95 499.20,723.00 C499.90,725.05 500.18,727.72 500.30,729.90 C500.42,732.08 500.22,734.05 499.90,736.10 C499.58,738.15 499.17,740.67 498.40,742.20 C497.63,743.73 496.58,744.90 495.30,745.30 C494.02,745.70 492.23,744.72 490.70,744.60 C489.17,744.48 487.38,744.48 486.10,744.60 C484.82,744.72 484.15,744.93 483.00,745.30 C481.85,745.67 480.87,746.42 479.20,746.80 C477.53,747.18 475.92,746.90 473.00,747.60 C470.08,748.30 465.08,749.97 461.70,751.00 C458.32,752.03 455.50,752.68 452.70,753.80 C449.90,754.92 447.33,756.48 444.90,757.70 C442.47,758.92 440.35,759.78 438.10,761.10 C435.85,762.42 433.55,764.17 431.40,765.60 C429.25,767.03 427.28,768.93 425.20,769.70 C423.12,770.47 420.83,770.38 418.90,770.20 C416.97,770.02 415.53,769.22 413.60,768.60 C411.67,767.98 409.23,767.20 407.30,766.50 C405.37,765.80 402.97,765.45 402.00,764.40 C401.03,763.35 401.50,761.77 401.50,760.20 C401.50,758.63 402.27,756.13 402.00,755.00 C401.73,753.87 401.12,753.77 399.90,753.40 C398.68,753.03 396.45,753.25 394.70,752.80 C392.95,752.35 391.68,751.22 389.40,750.70 C387.12,750.18 383.80,750.22 381.00,749.70 C378.20,749.18 375.05,748.65 372.60,747.60 C370.15,746.55 367.87,745.60 366.30,743.40 C364.73,741.20 363.55,737.38 363.20,734.40Z" fill="none" stroke="#6e6e6e" stroke-width="0.8"/>
<circle cx="389.6" cy="688.2" r="2.05" fill="#a00303" stroke="#700000" stroke-opacity="0.3" stroke-width="0.5"/>
<circle cx="410.5" cy="679.2" r="2.05" fill="#d60505" stroke="#700000" stroke-opacity="0.3" stroke-width="0.5"/>
<circle cx="418.9" cy="678.9" r="2.05" fill="#d60505" stroke="#700000" stroke-opacity="0.3" stroke-width="0.5"/>
<circle cx="425.2" cy="676.1" r="2.05" fill="#f67800" stroke="#700000" stroke-opacity="0.3" stroke-width="0.5"/>
<circle cx="429.9" cy="678.2" r="2.05" fill="#d60505" stroke="#700000" stroke-opacity="0.3" stroke-width="0.5"/>
<circle cx="414.7" cy="682.1" r="2.05" fill="#680000" stroke="#700000" stroke-opacity="0.3" stroke-width="0.5"/>
<circle cx="424.6" cy="680.3" r="2.05" fill="#d60505" stroke="#700000" stroke-opacity="0.3" stroke-width="0.5"/>
<circle cx="425.0" cy="683.4" r="2.05" fill="#d60505" stroke="#700000" stroke-opacity="0.3" stroke-width="0.5"/>
<circle cx="409.9" cy="686.1" r="2.05" fill="#680000" stroke="#700000" stroke-opacity="0.3" stroke-width="0.5"/>
<circle cx="413.6" cy="686.1" r="2.05" fill="#d60505" stroke="#700000" stroke-opacity="0.3" stroke-width="0.5"/>
<circle cx="417.3" cy="687.1" r="2.05" fill="#d60505" stroke="#700000" stroke-opacity="0.3" stroke-width="0.5"/>
<circle cx="416.8" cy="690.1" r="2.05" fill="#f67800" stroke="#700000" stroke-opacity="0.3" stroke-width="0.5"/>
<circle cx="423.6" cy="689.0" r="2.05" fill="#d60505" stroke="#700000" stroke-opacity="0.3" stroke-width="0.5"/>
<circle cx="408.9" cy="689.8" r="2.05" fill="#a00303" stroke="#700000" stroke-opacity="0.3" stroke-width="0.5"/>
<circle cx="405.2" cy="691.5" r="2.05" fill="#d60505" stroke="#700000" stroke-opacity="0.3" stroke-width="0.5"/>
<circle cx="399.9" cy="692.6" r="2.05" fill="#f67800" stroke="#700000" stroke-opacity="0.3" stroke-width="0.5"/>
<circle cx="413.1" cy="695.0" r="2.05" fill="#f67800" stroke="#700000" stroke-opacity="0.3" stroke-width="0.5"/>
<circle cx="410.7" cy="696.6" r="2.05" fill="#a00303" stroke="#700000" stroke-opacity="0.3" stroke-width="0.5"/>
<circle cx="411.0" cy="699.5" r="2.05" fill="#f67800" stroke="#700000" stroke-opacity="0.3" stroke-width="0.5"/>
<circle cx="418.6" cy="697.8" r="2.05" fill="#fae600" stroke="#700000" stroke-opacity="0.3" stroke-width="0.5"/>
<circle cx="417.3" cy="701.3" r="2.05" fill="#f67800" stroke="#700000" stroke-opacity="0.3" stroke-width="0.5"/>
<circle cx="395.2" cy="699.2" r="2.05" fill="#d60505" stroke="#700000" stroke-opacity="0.3" stroke-width="0.5"/>
<circle cx="399.9" cy="698.2" r="2.05" fill="#d60505" stroke="#700000" stroke-opacity="0.3" stroke-width="0.5"/>
<circle cx="402.0" cy="700.3" r="2.05" fill="#d60505" stroke="#700000" stroke-opacity="0.3" stroke-width="0.5"/>
<circle cx="398.4" cy="701.3" r="2.05" fill="#f67800" stroke="#700000" stroke-opacity="0.3" stroke-width="0.5"/>
<circle cx="394.7" cy="702.4" r="2.05" fill="#f67800" stroke="#700000" stroke-opacity="0.3" stroke-width="0.5"/>
<circle cx="391.5" cy="701.3" r="2.05" fill="#a00303" stroke="#700000" stroke-opacity="0.3" stroke-width="0.5"/>
<circle cx="392.1" cy="706.0" r="2.05" fill="#fae600" stroke="#700000" stroke-opacity="0.3" stroke-width="0.5"/>
<circle cx="394.7" cy="706.9" r="2.05" fill="#d60505" stroke="#700000" stroke-opacity="0.3" stroke-width="0.5"/>
<circle cx="425.2" cy="702.9" r="2.05" fill="#d60505" stroke="#700000" stroke-opacity="0.3" stroke-width="0.5"/>
<circle cx="428.3" cy="705.0" r="2.05" fill="#d60505" stroke="#700000" stroke-opacity="0.3" stroke-width="0.5"/>
<circle cx="423.1" cy="708.1" r="2.05" fill="#d60505" stroke="#700000" stroke-opacity="0.3" stroke-width="0.5"/>
<circle cx="429.4" cy="710.2" r="2.05" fill="#a00303" stroke="#700000" stroke-opacity="0.3" stroke-width="0.5"/>
<circle cx="412.0" cy="707.1" r="2.05" fill="#d60505" stroke="#700000" stroke-opacity="0.3" stroke-width="0.5"/>
<circle cx="414.7" cy="707.9" r="2.05" fill="#a00303" stroke="#700000" stroke-opacity="0.3" stroke-width="0.5"/>
<circle cx="410.5" cy="709.7" r="2.05" fill="#d60505" stroke="#700000" stroke-opacity="0.3" stroke-width="0.5"/>
<circle cx="404.1" cy="712.1" r="2.05" fill="#f67800" stroke="#700000" stroke-opacity="0.3" stroke-width="0.5"/>
<circle cx="402.0" cy="714.5" r="2.05" fill="#a00303" stroke="#700000" stroke-opacity="0.3" stroke-width="0.5"/>
<circle cx="398.4" cy="715.5" r="2.05" fill="#f67800" stroke="#700000" stroke-opacity="0.3" stroke-width="0.5"/>
<circle cx="390.5" cy="715.3" r="2.05" fill="#d60505" stroke="#700000" stroke-opacity="0.3" stroke-width="0.5"/>
<circle cx="381.0" cy="715.0" r="2.05" fill="#a00303" stroke="#700000" stroke-opacity="0.3" stroke-width="0.5"/>
<circle cx="381.0" cy="718.1" r="2.05" fill="#a00303" stroke="#700000" stroke-opacity="0.3" stroke-width="0.5"/>
<circle cx="384.7" cy="718.7" r="2.05" fill="#d60505" stroke="#700000" stroke-opacity="0.3" stroke-width="0.5"/>
<circle cx="396.3" cy="718.1" r="2.05" fill="#d60505" stroke="#700000" stroke-opacity="0.3" stroke-width="0.5"/>
<circle cx="399.9" cy="717.6" r="2.05" fill="#d60505" stroke="#700000" stroke-opacity="0.3" stroke-width="0.5"/>
<circle cx="402.6" cy="716.6" r="2.05" fill="#a00303" stroke="#700000" stroke-opacity="0.3" stroke-width="0.5"/>
<circle cx="411.5" cy="714.2" r="2.05" fill="#f67800" stroke="#700000" stroke-opacity="0.3" stroke-width="0.5"/>
<circle cx="416.2" cy="714.2" r="2.05" fill="#f67800" stroke="#700000" stroke-opacity="0.3" stroke-width="0.5"/>
<circle cx="413.1" cy="718.1" r="2.05" fill="#f67800" stroke="#700000" stroke-opacity="0.3" stroke-width="0.5"/>
<circle cx="416.8" cy="718.7" r="2.05" fill="#d60505" stroke="#700000" stroke-opacity="0.3" stroke-width="0.5"/>
<circle cx="424.1" cy="715.5" r="2.05" fill="#d60505" stroke="#700000" stroke-opacity="0.3" stroke-width="0.5"/>
<circle cx="426.2" cy="712.4" r="2.05" fill="#d60505" stroke="#700000" stroke-opacity="0.3" stroke-width="0.5"/>
<circle cx="428.3" cy="716.0" r="2.05" fill="#f67800" stroke="#700000" stroke-opacity="0.3" stroke-width="0.5"/>
<circle cx="426.7" cy="718.7" r="2.05" fill="#d60505" stroke="#700000" stroke-opacity="0.3" stroke-width="0.5"/>
<circle cx="433.1" cy="675.2" r="2.05" fill="#d60505" stroke="#700000" stroke-opacity="0.3" stroke-width="0.5"/>
<circle cx="443.7" cy="678.4" r="2.05" fill="#f67800" stroke="#700000" stroke-opacity="0.3" stroke-width="0.5"/>
<circle cx="450.5" cy="680.3" r="2.05" fill="#f67800" stroke="#700000" stroke-opacity="0.3" stroke-width="0.5"/>
<circle cx="445.4" cy="682.9" r="2.05" fill="#d60505" stroke="#700000" stroke-opacity="0.3" stroke-width="0.5"/>
<circle cx="442.6" cy="683.7" r="2.05" fill="#a00303" stroke="#700000" stroke-opacity="0.3" stroke-width="0.5"/>
<circle cx="435.9" cy="683.1" r="2.05" fill="#a00303" stroke="#700000" stroke-opacity="0.3" stroke-width="0.5"/>
<circle cx="462.8" cy="681.1" r="2.05" fill="#d60505" stroke="#700000" stroke-opacity="0.3" stroke-width="0.5"/>
<circle cx="455.0" cy="684.8" r="2.05" fill="#a00303" stroke="#700000" stroke-opacity="0.3" stroke-width="0.5"/>
<circle cx="457.0" cy="688.5" r="2.05" fill="#a00303" stroke="#700000" stroke-opacity="0.3" stroke-width="0.5"/>
<circle cx="468.2" cy="691.0" r="2.05" fill="#680000" stroke="#700000" stroke-opacity="0.3" stroke-width="0.5"/>
<circle cx="458.1" cy="697.5" r="2.05" fill="#d60505" stroke="#700000" stroke-opacity="0.3" stroke-width="0.5"/>
<circle cx="434.5" cy="697.5" r="2.05" fill="#680000" stroke="#700000" stroke-opacity="0.3" stroke-width="0.5"/>
<circle cx="440.1" cy="702.8" r="2.05" fill="#a00303" stroke="#700000" stroke-opacity="0.3" stroke-width="0.5"/>
<circle cx="437.9" cy="711.0" r="2.05" fill="#a00303" stroke="#700000" stroke-opacity="0.3" stroke-width="0.5"/>
<circle cx="379.4" cy="722.6" r="2.05" fill="#a00303" stroke="#700000" stroke-opacity="0.3" stroke-width="0.5"/>
<circle cx="375.6" cy="725.5" r="2.05" fill="#a00303" stroke="#700000" stroke-opacity="0.3" stroke-width="0.5"/>
<circle cx="377.3" cy="730.2" r="2.05" fill="#d60505" stroke="#700000" stroke-opacity="0.3" stroke-width="0.5"/>
<circle cx="388.4" cy="720.8" r="2.05" fill="#f67800" stroke="#700000" stroke-opacity="0.3" stroke-width="0.5"/>
<circle cx="389.4" cy="723.4" r="2.05" fill="#d60505" stroke="#700000" stroke-opacity="0.3" stroke-width="0.5"/>
<circle cx="392.6" cy="724.5" r="2.05" fill="#f67800" stroke="#700000" stroke-opacity="0.3" stroke-width="0.5"/>
<circle cx="394.7" cy="726.6" r="2.05" fill="#f67800" stroke="#700000" stroke-opacity="0.3" stroke-width="0.5"/>
<circle cx="396.3" cy="720.8" r="2.05" fill="#d60505" stroke="#700000" stroke-opacity="0.3" stroke-width="0.5"/>
<circle cx="397.8" cy="722.4" r="2.05" fill="#fae600" stroke="#700000" stroke-opacity="0.3" stroke-width="0.5"/>
<circle cx="399.9" cy="725.0" r="2.05" fill="#a00303" stroke="#700000" stroke-opacity="0.3" stroke-width="0.5"/>
<circle cx="413.6" cy="722.4" r="2.05" fill="#fae600" stroke="#700000" stroke-opacity="0.3" stroke-width="0.5"/>
<circle cx="417.8" cy="723.4" r="2.05" fill="#fae600" stroke="#700000" stroke-opacity="0.3" stroke-width="0.5"/>
<circle cx="411.5" cy="726.0" r="2.05" fill="#a00303" stroke="#700000" stroke-opacity="0.3" stroke-width="0.5"/>
<circle cx="416.8" cy="727.1" r="2.05" fill="#a00303" stroke="#700000" stroke-opacity="0.3" stroke-width="0.5"/>
<circle cx="413.6" cy="728.7" r="2.05" fill="#f67800" stroke="#700000" stroke-opacity="0.3" stroke-width="0.5"/>
<circle cx="425.7" cy="724.5" r="2.05" fill="#d60505" stroke="#700000" stroke-opacity="0.3" stroke-width="0.5"/>
<circle cx="427.3" cy="727.6" r="2.05" fill="#a00303" stroke="#700000" stroke-opacity="0.3" stroke-width="0.5"/>
<circle cx="424.1" cy="729.7" r="2.05" fill="#a00303" stroke="#700000" stroke-opacity="0.3" stroke-width="0.5"/>
<circle cx="429.4" cy="730.8" r="2.05" fill="#a00303" stroke="#700000" stroke-opacity="0.3" stroke-width="0.5"/>
<circle cx="426.2" cy="733.9" r="2.05" fill="#a00303" stroke="#700000" stroke-opacity="0.3" stroke-width="0.5"/>
<circle cx="426.2" cy="737.6" r="2.05" fill="#d60505" stroke="#700000" stroke-opacity="0.3" stroke-width="0.5"/>
<circle cx="419.9" cy="735.0" r="2.05" fill="#f67800" stroke="#700000" stroke-opacity="0.3" stroke-width="0.5"/>
<circle cx="415.7" cy="733.9" r="2.05" fill="#a00303" stroke="#700000" stroke-opacity="0.3" stroke-width="0.5"/>
<circle cx="409.9" cy="733.4" r="2.05" fill="#d60505" stroke="#700000" stroke-opacity="0.3" stroke-width="0.5"/>
<circle cx="413.6" cy="738.1" r="2.05" fill="#d60505" stroke="#700000" stroke-opacity="0.3" stroke-width="0.5"/>
<circle cx="387.3" cy="733.9" r="2.05" fill="#d60505" stroke="#700000" stroke-opacity="0.3" stroke-width="0.5"/>
<circle cx="391.0" cy="731.8" r="2.05" fill="#a00303" stroke="#700000" stroke-opacity="0.3" stroke-width="0.5"/>
<circle cx="393.6" cy="732.3" r="2.05" fill="#d60505" stroke="#700000" stroke-opacity="0.3" stroke-width="0.5"/>
<circle cx="396.3" cy="733.9" r="2.05" fill="#d60505" stroke="#700000" stroke-opacity="0.3" stroke-width="0.5"/>
<circle cx="379.4" cy="736.0" r="2.05" fill="#a00303" stroke="#700000" stroke-opacity="0.3" stroke-width="0.5"/>
<circle cx="378.9" cy="737.9" r="2.05" fill="#680000" stroke="#700000" stroke-opacity="0.3" stroke-width="0.5"/>
<circle cx="383.1" cy="737.1" r="2.05" fill="#d60505" stroke="#700000" stroke-opacity="0.3" stroke-width="0.5"/>
<circle cx="390.5" cy="740.2" r="2.05" fill="#a00303" stroke="#700000" stroke-opacity="0.3" stroke-width="0.5"/>
<circle cx="384.7" cy="744.4" r="2.05" fill="#a00303" stroke="#700000" stroke-opacity="0.3" stroke-width="0.5"/>
<circle cx="390.0" cy="747.1" r="2.05" fill="#d60505" stroke="#700000" stroke-opacity="0.3" stroke-width="0.5"/>
<circle cx="396.3" cy="745.0" r="2.05" fill="#d60505" stroke="#700000" stroke-opacity="0.3" stroke-width="0.5"/>
<circle cx="363.7" cy="734.4" r="2.05" fill="#1a0000" stroke="#700000" stroke-opacity="0.3" stroke-width="0.5"/>
<circle cx="407.3" cy="746.0" r="2.05" fill="#680000" stroke="#700000" stroke-opacity="0.3" stroke-width="0.5"/>
<circle cx="406.8" cy="748.6" r="2.05" fill="#1a0000" stroke="#700000" stroke-opacity="0.3" stroke-width="0.5"/>
<circle cx="412.6" cy="743.4" r="2.05" fill="#f67800" stroke="#700000" stroke-opacity="0.3" stroke-width="0.5"/>
<circle cx="411.5" cy="745.0" r="2.05" fill="#d60505" stroke="#700000" stroke-opacity="0.3" stroke-width="0.5"/>
<circle cx="404.1" cy="751.6" r="2.05" fill="#f67800" stroke="#700000" stroke-opacity="0.3" stroke-width="0.5"/>
<circle cx="394.7" cy="752.6" r="2.05" fill="#1a0000" stroke="#700000" stroke-opacity="0.3" stroke-width="0.5"/>
<circle cx="423.6" cy="747.6" r="2.05" fill="#a00303" stroke="#700000" stroke-opacity="0.3" stroke-width="0.5"/>
<circle cx="427.3" cy="748.1" r="2.05" fill="#680000" stroke="#700000" stroke-opacity="0.3" stroke-width="0.5"/>
<circle cx="430.4" cy="746.6" r="2.05" fill="#d60505" stroke="#700000" stroke-opacity="0.3" stroke-width="0.5"/>
<circle cx="424.1" cy="751.3" r="2.05" fill="#a00303" stroke="#700000" stroke-opacity="0.3" stroke-width="0.5"/>
<circle cx="426.2" cy="751.3" r="2.05" fill="#d60505" stroke="#700000" stroke-opacity="0.3" stroke-width="0.5"/>
<circle cx="423.6" cy="755.0" r="2.05" fill="#d60505" stroke="#700000" stroke-opacity="0.3" stroke-width="0.5"/>
<circle cx="423.1" cy="758.1" r="2.05" fill="#a00303" stroke="#700000" stroke-opacity="0.3" stroke-width="0.5"/>
<circle cx="417.8" cy="759.7" r="2.05" fill="#d60505" stroke="#700000" stroke-opacity="0.3" stroke-width="0.5"/>
<circle cx="409.9" cy="762.3" r="2.05" fill="#f67800" stroke="#700000" stroke-opacity="0.3" stroke-width="0.5"/>
<circle cx="405.2" cy="762.8" r="2.05" fill="#d60505" stroke="#700000" stroke-opacity="0.3" stroke-width="0.5"/>
<circle cx="403.1" cy="763.3" r="2.05" fill="#a00303" stroke="#700000" stroke-opacity="0.3" stroke-width="0.5"/>
<circle cx="417.8" cy="769.1" r="2.05" fill="#f67800" stroke="#700000" stroke-opacity="0.3" stroke-width="0.5"/>
<circle cx="427.3" cy="766.5" r="2.05" fill="#a00303" stroke="#700000" stroke-opacity="0.3" stroke-width="0.5"/>
<circle cx="429.9" cy="763.3" r="2.05" fill="#d60505" stroke="#700000" stroke-opacity="0.3" stroke-width="0.5"/>
<circle cx="431.5" cy="759.1" r="2.05" fill="#f67800" stroke="#700000" stroke-opacity="0.3" stroke-width="0.5"/>
<circle cx="451.0" cy="724.2" r="2.05" fill="#a00303" stroke="#700000" stroke-opacity="0.3" stroke-width="0.5"/>
<circle cx="459.3" cy="727.9" r="2.05" fill="#d60505" stroke="#700000" stroke-opacity="0.3" stroke-width="0.5"/>
<circle cx="454.8" cy="730.7" r="2.05" fill="#a00303" stroke="#700000" stroke-opacity="0.3" stroke-width="0.5"/>
<circle cx="467.9" cy="721.5" r="2.05" fill="#1a0000" stroke="#700000" stroke-opacity="0.3" stroke-width="0.5"/>
<circle cx="437.9" cy="734.3" r="2.05" fill="#a00303" stroke="#700000" stroke-opacity="0.3" stroke-width="0.5"/>
<circle cx="449.9" cy="735.8" r="2.05" fill="#f67800" stroke="#700000" stroke-opacity="0.3" stroke-width="0.5"/>
<circle cx="449.1" cy="738.4" r="2.05" fill="#d60505" stroke="#700000" stroke-opacity="0.3" stroke-width="0.5"/>
<circle cx="435.6" cy="742.0" r="2.05" fill="#680000" stroke="#700000" stroke-opacity="0.3" stroke-width="0.5"/>
<circle cx="444.1" cy="749.3" r="2.05" fill="#a00303" stroke="#700000" stroke-opacity="0.3" stroke-width="0.5"/>
<circle cx="483.1" cy="745.1" r="2.05" fill="#1a0000" stroke="#700000" stroke-opacity="0.3" stroke-width="0.5"/>
<circle cx="445.8" cy="757.5" r="2.05" fill="#a00303" stroke="#700000" stroke-opacity="0.3" stroke-width="0.5"/>
<circle cx="449.9" cy="757.2" r="2.05" fill="#a00303" stroke="#700000" stroke-opacity="0.3" stroke-width="0.5"/>
<circle cx="437.9" cy="760.5" r="2.05" fill="#d60505" stroke="#700000" stroke-opacity="0.3" stroke-width="0.5"/>
<circle cx="423.6" cy="690.4" r="2.05" fill="#d60505" stroke="#700000" stroke-opacity="0.3" stroke-width="0.5"/>
<circle cx="417.0" cy="698.3" r="2.05" fill="#d60505" stroke="#700000" stroke-opacity="0.3" stroke-width="0.5"/>
<circle cx="402.2" cy="701.4" r="2.05" fill="#d60505" stroke="#700000" stroke-opacity="0.3" stroke-width="0.5"/>
<circle cx="393.4" cy="700.9" r="2.05" fill="#d60505" stroke="#700000" stroke-opacity="0.3" stroke-width="0.5"/>
<circle cx="396.0" cy="702.3" r="2.05" fill="#f67800" stroke="#700000" stroke-opacity="0.3" stroke-width="0.5"/>
<circle cx="429.3" cy="732.0" r="2.05" fill="#d60505" stroke="#700000" stroke-opacity="0.3" stroke-width="0.5"/>
<circle cx="424.5" cy="733.4" r="2.05" fill="#a00303" stroke="#700000" stroke-opacity="0.3" stroke-width="0.5"/>
<circle cx="427.6" cy="735.1" r="2.05" fill="#d60505" stroke="#700000" stroke-opacity="0.3" stroke-width="0.5"/>
<circle cx="389.0" cy="731.6" r="2.05" fill="#a00303" stroke="#700000" stroke-opacity="0.3" stroke-width="0.5"/>
<path d="M521.50,730.00 C521.50,727.43 521.72,725.60 522.30,723.80 C522.88,722.00 523.92,720.48 525.00,719.20 C526.08,717.92 527.72,717.13 528.80,716.10 C529.88,715.07 530.92,714.78 531.50,713.00 C532.08,711.22 531.98,707.43 532.30,705.40 C532.62,703.37 532.45,702.22 533.40,700.80 C534.35,699.38 536.20,698.32 538.00,696.90 C539.80,695.48 542.45,694.28 544.20,692.30 C545.95,690.32 546.92,686.83 548.50,685.00 C550.08,683.17 551.78,682.35 553.70,681.30 C555.62,680.25 558.25,679.75 560.00,678.70 C561.75,677.65 562.43,676.13 564.20,675.00 C565.97,673.87 568.48,672.33 570.60,671.90 C572.72,671.47 574.80,672.05 576.90,672.40 C579.00,672.75 580.75,673.32 583.20,674.00 C585.65,674.68 588.57,675.88 591.60,676.50 C594.63,677.12 598.30,677.05 601.40,677.70 C604.50,678.35 607.47,679.40 610.20,680.40 C612.93,681.40 615.07,682.60 617.80,683.70 C620.53,684.80 623.85,685.72 626.60,687.00 C629.35,688.28 631.93,689.77 634.30,691.40 C636.67,693.03 638.80,694.62 640.80,696.80 C642.80,698.98 644.83,702.12 646.30,704.50 C647.77,706.88 648.50,708.90 649.60,711.10 C650.70,713.30 651.98,714.87 652.90,717.70 C653.82,720.53 654.92,724.90 655.10,728.10 C655.28,731.30 654.73,734.33 654.00,736.90 C653.27,739.47 652.35,741.32 650.70,743.50 C649.05,745.68 646.47,748.45 644.10,750.00 C641.73,751.55 639.05,752.25 636.50,752.80 C633.95,753.35 631.37,753.30 628.80,753.30 C626.23,753.30 622.75,752.07 621.10,752.80 C619.45,753.53 619.35,755.97 618.90,757.70 C618.45,759.43 618.93,761.92 618.40,763.20 C617.87,764.48 617.07,764.67 615.70,765.40 C614.33,766.13 612.03,766.78 610.20,767.60 C608.37,768.42 606.72,769.77 604.70,770.30 C602.68,770.83 600.28,771.07 598.10,770.80 C595.92,770.53 593.73,770.30 591.60,768.70 C589.47,767.10 587.40,762.97 585.30,761.20 C583.20,759.43 581.45,759.13 579.00,758.10 C576.55,757.07 573.42,756.05 570.60,755.00 C567.78,753.95 564.73,752.68 562.10,751.80 C559.47,750.92 556.77,750.27 554.80,749.70 C552.83,749.13 552.07,748.82 550.30,748.40 C548.53,747.98 546.50,747.47 544.20,747.20 C541.90,746.93 539.07,747.12 536.50,746.80 C533.93,746.48 530.98,745.93 528.80,745.30 C526.62,744.67 524.48,744.02 523.40,743.00 C522.32,741.98 522.62,741.37 522.30,739.20 C521.98,737.03 521.50,732.57 521.50,730.00Z" fill="url(#bg3)"/>
<path d="M521.50,730.00 C521.50,727.43 521.72,725.60 522.30,723.80 C522.88,722.00 523.92,720.48 525.00,719.20 C526.08,717.92 527.72,717.13 528.80,716.10 C529.88,715.07 530.92,714.78 531.50,713.00 C532.08,711.22 531.98,707.43 532.30,705.40 C532.62,703.37 532.45,702.22 533.40,700.80 C534.35,699.38 536.20,698.32 538.00,696.90 C539.80,695.48 542.45,694.28 544.20,692.30 C545.95,690.32 546.92,686.83 548.50,685.00 C550.08,683.17 551.78,682.35 553.70,681.30 C555.62,680.25 558.25,679.75 560.00,678.70 C561.75,677.65 562.43,676.13 564.20,675.00 C565.97,673.87 568.48,672.33 570.60,671.90 C572.72,671.47 574.80,672.05 576.90,672.40 C579.00,672.75 580.75,673.32 583.20,674.00 C585.65,674.68 588.57,675.88 591.60,676.50 C594.63,677.12 598.30,677.05 601.40,677.70 C604.50,678.35 607.47,679.40 610.20,680.40 C612.93,681.40 615.07,682.60 617.80,683.70 C620.53,684.80 623.85,685.72 626.60,687.00 C629.35,688.28 631.93,689.77 634.30,691.40 C636.67,693.03 638.80,694.62 640.80,696.80 C642.80,698.98 644.83,702.12 646.30,704.50 C647.77,706.88 648.50,708.90 649.60,711.10 C650.70,713.30 651.98,714.87 652.90,717.70 C653.82,720.53 654.92,724.90 655.10,728.10 C655.28,731.30 654.73,734.33 654.00,736.90 C653.27,739.47 652.35,741.32 650.70,743.50 C649.05,745.68 646.47,748.45 644.10,750.00 C641.73,751.55 639.05,752.25 636.50,752.80 C633.95,753.35 631.37,753.30 628.80,753.30 C626.23,753.30 622.75,752.07 621.10,752.80 C619.45,753.53 619.35,755.97 618.90,757.70 C618.45,759.43 618.93,761.92 618.40,763.20 C617.87,764.48 617.07,764.67 615.70,765.40 C614.33,766.13 612.03,766.78 610.20,767.60 C608.37,768.42 606.72,769.77 604.70,770.30 C602.68,770.83 600.28,771.07 598.10,770.80 C595.92,770.53 593.73,770.30 591.60,768.70 C589.47,767.10 587.40,762.97 585.30,761.20 C583.20,759.43 581.45,759.13 579.00,758.10 C576.55,757.07 573.42,756.05 570.60,755.00 C567.78,753.95 564.73,752.68 562.10,751.80 C559.47,750.92 556.77,750.27 554.80,749.70 C552.83,749.13 552.07,748.82 550.30,748.40 C548.53,747.98 546.50,747.47 544.20,747.20 C541.90,746.93 539.07,747.12 536.50,746.80 C533.93,746.48 530.98,745.93 528.80,745.30 C526.62,744.67 524.48,744.02 523.40,743.00 C522.32,741.98 522.62,741.37 522.30,739.20 C521.98,737.03 521.50,732.57 521.50,730.00Z" fill="#fff" filter="url(#shd3)" opacity="0.6" style="mix-blend-mode:overlay"/>
<path d="M521.50,730.00 C521.50,727.43 521.72,725.60 522.30,723.80 C522.88,722.00 523.92,720.48 525.00,719.20 C526.08,717.92 527.72,717.13 528.80,716.10 C529.88,715.07 530.92,714.78 531.50,713.00 C532.08,711.22 531.98,707.43 532.30,705.40 C532.62,703.37 532.45,702.22 533.40,700.80 C534.35,699.38 536.20,698.32 538.00,696.90 C539.80,695.48 542.45,694.28 544.20,692.30 C545.95,690.32 546.92,686.83 548.50,685.00 C550.08,683.17 551.78,682.35 553.70,681.30 C555.62,680.25 558.25,679.75 560.00,678.70 C561.75,677.65 562.43,676.13 564.20,675.00 C565.97,673.87 568.48,672.33 570.60,671.90 C572.72,671.47 574.80,672.05 576.90,672.40 C579.00,672.75 580.75,673.32 583.20,674.00 C585.65,674.68 588.57,675.88 591.60,676.50 C594.63,677.12 598.30,677.05 601.40,677.70 C604.50,678.35 607.47,679.40 610.20,680.40 C612.93,681.40 615.07,682.60 617.80,683.70 C620.53,684.80 623.85,685.72 626.60,687.00 C629.35,688.28 631.93,689.77 634.30,691.40 C636.67,693.03 638.80,694.62 640.80,696.80 C642.80,698.98 644.83,702.12 646.30,704.50 C647.77,706.88 648.50,708.90 649.60,711.10 C650.70,713.30 651.98,714.87 652.90,717.70 C653.82,720.53 654.92,724.90 655.10,728.10 C655.28,731.30 654.73,734.33 654.00,736.90 C653.27,739.47 652.35,741.32 650.70,743.50 C649.05,745.68 646.47,748.45 644.10,750.00 C641.73,751.55 639.05,752.25 636.50,752.80 C633.95,753.35 631.37,753.30 628.80,753.30 C626.23,753.30 622.75,752.07 621.10,752.80 C619.45,753.53 619.35,755.97 618.90,757.70 C618.45,759.43 618.93,761.92 618.40,763.20 C617.87,764.48 617.07,764.67 615.70,765.40 C614.33,766.13 612.03,766.78 610.20,767.60 C608.37,768.42 606.72,769.77 604.70,770.30 C602.68,770.83 600.28,771.07 598.10,770.80 C595.92,770.53 593.73,770.30 591.60,768.70 C589.47,767.10 587.40,762.97 585.30,761.20 C583.20,759.43 581.45,759.13 579.00,758.10 C576.55,757.07 573.42,756.05 570.60,755.00 C567.78,753.95 564.73,752.68 562.10,751.80 C559.47,750.92 556.77,750.27 554.80,749.70 C552.83,749.13 552.07,748.82 550.30,748.40 C548.53,747.98 546.50,747.47 544.20,747.20 C541.90,746.93 539.07,747.12 536.50,746.80 C533.93,746.48 530.98,745.93 528.80,745.30 C526.62,744.67 524.48,744.02 523.40,743.00 C522.32,741.98 522.62,741.37 522.30,739.20 C521.98,737.03 521.50,732.57 521.50,730.00Z" fill="#fff" filter="url(#val3)" opacity="0.25"/>
<path d="M521.50,730.00 C521.50,727.43 521.72,725.60 522.30,723.80 C522.88,722.00 523.92,720.48 525.00,719.20 C526.08,717.92 527.72,717.13 528.80,716.10 C529.88,715.07 530.92,714.78 531.50,713.00 C532.08,711.22 531.98,707.43 532.30,705.40 C532.62,703.37 532.45,702.22 533.40,700.80 C534.35,699.38 536.20,698.32 538.00,696.90 C539.80,695.48 542.45,694.28 544.20,692.30 C545.95,690.32 546.92,686.83 548.50,685.00 C550.08,683.17 551.78,682.35 553.70,681.30 C555.62,680.25 558.25,679.75 560.00,678.70 C561.75,677.65 562.43,676.13 564.20,675.00 C565.97,673.87 568.48,672.33 570.60,671.90 C572.72,671.47 574.80,672.05 576.90,672.40 C579.00,672.75 580.75,673.32 583.20,674.00 C585.65,674.68 588.57,675.88 591.60,676.50 C594.63,677.12 598.30,677.05 601.40,677.70 C604.50,678.35 607.47,679.40 610.20,680.40 C612.93,681.40 615.07,682.60 617.80,683.70 C620.53,684.80 623.85,685.72 626.60,687.00 C629.35,688.28 631.93,689.77 634.30,691.40 C636.67,693.03 638.80,694.62 640.80,696.80 C642.80,698.98 644.83,702.12 646.30,704.50 C647.77,706.88 648.50,708.90 649.60,711.10 C650.70,713.30 651.98,714.87 652.90,717.70 C653.82,720.53 654.92,724.90 655.10,728.10 C655.28,731.30 654.73,734.33 654.00,736.90 C653.27,739.47 652.35,741.32 650.70,743.50 C649.05,745.68 646.47,748.45 644.10,750.00 C641.73,751.55 639.05,752.25 636.50,752.80 C633.95,753.35 631.37,753.30 628.80,753.30 C626.23,753.30 622.75,752.07 621.10,752.80 C619.45,753.53 619.35,755.97 618.90,757.70 C618.45,759.43 618.93,761.92 618.40,763.20 C617.87,764.48 617.07,764.67 615.70,765.40 C614.33,766.13 612.03,766.78 610.20,767.60 C608.37,768.42 606.72,769.77 604.70,770.30 C602.68,770.83 600.28,771.07 598.10,770.80 C595.92,770.53 593.73,770.30 591.60,768.70 C589.47,767.10 587.40,762.97 585.30,761.20 C583.20,759.43 581.45,759.13 579.00,758.10 C576.55,757.07 573.42,756.05 570.60,755.00 C567.78,753.95 564.73,752.68 562.10,751.80 C559.47,750.92 556.77,750.27 554.80,749.70 C552.83,749.13 552.07,748.82 550.30,748.40 C548.53,747.98 546.50,747.47 544.20,747.20 C541.90,746.93 539.07,747.12 536.50,746.80 C533.93,746.48 530.98,745.93 528.80,745.30 C526.62,744.67 524.48,744.02 523.40,743.00 C522.32,741.98 522.62,741.37 522.30,739.20 C521.98,737.03 521.50,732.57 521.50,730.00Z" fill="#fff" filter="url(#sul3)" opacity="0.75"/>
<path d="M521.50,730.00 C521.50,727.43 521.72,725.60 522.30,723.80 C522.88,722.00 523.92,720.48 525.00,719.20 C526.08,717.92 527.72,717.13 528.80,716.10 C529.88,715.07 530.92,714.78 531.50,713.00 C532.08,711.22 531.98,707.43 532.30,705.40 C532.62,703.37 532.45,702.22 533.40,700.80 C534.35,699.38 536.20,698.32 538.00,696.90 C539.80,695.48 542.45,694.28 544.20,692.30 C545.95,690.32 546.92,686.83 548.50,685.00 C550.08,683.17 551.78,682.35 553.70,681.30 C555.62,680.25 558.25,679.75 560.00,678.70 C561.75,677.65 562.43,676.13 564.20,675.00 C565.97,673.87 568.48,672.33 570.60,671.90 C572.72,671.47 574.80,672.05 576.90,672.40 C579.00,672.75 580.75,673.32 583.20,674.00 C585.65,674.68 588.57,675.88 591.60,676.50 C594.63,677.12 598.30,677.05 601.40,677.70 C604.50,678.35 607.47,679.40 610.20,680.40 C612.93,681.40 615.07,682.60 617.80,683.70 C620.53,684.80 623.85,685.72 626.60,687.00 C629.35,688.28 631.93,689.77 634.30,691.40 C636.67,693.03 638.80,694.62 640.80,696.80 C642.80,698.98 644.83,702.12 646.30,704.50 C647.77,706.88 648.50,708.90 649.60,711.10 C650.70,713.30 651.98,714.87 652.90,717.70 C653.82,720.53 654.92,724.90 655.10,728.10 C655.28,731.30 654.73,734.33 654.00,736.90 C653.27,739.47 652.35,741.32 650.70,743.50 C649.05,745.68 646.47,748.45 644.10,750.00 C641.73,751.55 639.05,752.25 636.50,752.80 C633.95,753.35 631.37,753.30 628.80,753.30 C626.23,753.30 622.75,752.07 621.10,752.80 C619.45,753.53 619.35,755.97 618.90,757.70 C618.45,759.43 618.93,761.92 618.40,763.20 C617.87,764.48 617.07,764.67 615.70,765.40 C614.33,766.13 612.03,766.78 610.20,767.60 C608.37,768.42 606.72,769.77 604.70,770.30 C602.68,770.83 600.28,771.07 598.10,770.80 C595.92,770.53 593.73,770.30 591.60,768.70 C589.47,767.10 587.40,762.97 585.30,761.20 C583.20,759.43 581.45,759.13 579.00,758.10 C576.55,757.07 573.42,756.05 570.60,755.00 C567.78,753.95 564.73,752.68 562.10,751.80 C559.47,750.92 556.77,750.27 554.80,749.70 C552.83,749.13 552.07,748.82 550.30,748.40 C548.53,747.98 546.50,747.47 544.20,747.20 C541.90,746.93 539.07,747.12 536.50,746.80 C533.93,746.48 530.98,745.93 528.80,745.30 C526.62,744.67 524.48,744.02 523.40,743.00 C522.32,741.98 522.62,741.37 522.30,739.20 C521.98,737.03 521.50,732.57 521.50,730.00Z" fill="none" stroke="#6e6e6e" stroke-width="0.8"/>
<circle cx="551.8" cy="681.3" r="2.05" fill="#f67800" stroke="#700000" stroke-opacity="0.3" stroke-width="0.5"/>
<circle cx="551.4" cy="684.0" r="2.05" fill="#d60505" stroke="#700000" stroke-opacity="0.3" stroke-width="0.5"/>
<circle cx="569.5" cy="678.2" r="2.05" fill="#d60505" stroke="#700000" stroke-opacity="0.3" stroke-width="0.5"/>
<circle cx="574.0" cy="682.6" r="2.05" fill="#d60505" stroke="#700000" stroke-opacity="0.3" stroke-width="0.5"/>
<circle cx="560.6" cy="685.0" r="2.05" fill="#f67800" stroke="#700000" stroke-opacity="0.3" stroke-width="0.5"/>
<circle cx="563.0" cy="689.2" r="2.05" fill="#d60505" stroke="#700000" stroke-opacity="0.3" stroke-width="0.5"/>
<circle cx="579.8" cy="688.0" r="2.05" fill="#d60505" stroke="#700000" stroke-opacity="0.3" stroke-width="0.5"/>
<circle cx="585.8" cy="685.0" r="2.05" fill="#a00303" stroke="#700000" stroke-opacity="0.3" stroke-width="0.5"/>
<circle cx="589.3" cy="691.3" r="2.05" fill="#d60505" stroke="#700000" stroke-opacity="0.3" stroke-width="0.5"/>
<circle cx="548.0" cy="696.8" r="2.05" fill="#f67800" stroke="#700000" stroke-opacity="0.3" stroke-width="0.5"/>
<circle cx="552.2" cy="697.8" r="2.05" fill="#f67800" stroke="#700000" stroke-opacity="0.3" stroke-width="0.5"/>
<circle cx="556.7" cy="699.7" r="2.05" fill="#d60505" stroke="#700000" stroke-opacity="0.3" stroke-width="0.5"/>
<circle cx="562.7" cy="698.2" r="2.05" fill="#f67800" stroke="#700000" stroke-opacity="0.3" stroke-width="0.5"/>
<circle cx="567.9" cy="697.1" r="2.05" fill="#a00303" stroke="#700000" stroke-opacity="0.3" stroke-width="0.5"/>
<circle cx="571.1" cy="695.0" r="2.05" fill="#d60505" stroke="#700000" stroke-opacity="0.3" stroke-width="0.5"/>
<circle cx="572.7" cy="699.7" r="2.05" fill="#680000" stroke="#700000" stroke-opacity="0.3" stroke-width="0.5"/>
<circle cx="576.3" cy="698.9" r="2.05" fill="#f67800" stroke="#700000" stroke-opacity="0.3" stroke-width="0.5"/>
<circle cx="580.9" cy="697.8" r="2.05" fill="#680000" stroke="#700000" stroke-opacity="0.3" stroke-width="0.5"/>
<circle cx="567.9" cy="704.2" r="2.05" fill="#d60505" stroke="#700000" stroke-opacity="0.3" stroke-width="0.5"/>
<circle cx="581.6" cy="705.8" r="2.05" fill="#f67800" stroke="#700000" stroke-opacity="0.3" stroke-width="0.5"/>
<circle cx="536.7" cy="711.1" r="2.05" fill="#a00303" stroke="#700000" stroke-opacity="0.3" stroke-width="0.5"/>
<circle cx="540.6" cy="715.7" r="2.05" fill="#d60505" stroke="#700000" stroke-opacity="0.3" stroke-width="0.5"/>
<circle cx="566.9" cy="710.2" r="2.05" fill="#d60505" stroke="#700000" stroke-opacity="0.3" stroke-width="0.5"/>
<circle cx="566.3" cy="712.9" r="2.05" fill="#f67800" stroke="#700000" stroke-opacity="0.3" stroke-width="0.5"/>
<circle cx="570.6" cy="713.6" r="2.05" fill="#d60505" stroke="#700000" stroke-opacity="0.3" stroke-width="0.5"/>
<circle cx="569.5" cy="715.3" r="2.05" fill="#a00303" stroke="#700000" stroke-opacity="0.3" stroke-width="0.5"/>
<circle cx="560.0" cy="715.5" r="2.05" fill="#d60505" stroke="#700000" stroke-opacity="0.3" stroke-width="0.5"/>
<circle cx="560.6" cy="718.1" r="2.05" fill="#d60505" stroke="#700000" stroke-opacity="0.3" stroke-width="0.5"/>
<circle cx="572.1" cy="718.9" r="2.05" fill="#d60505" stroke="#700000" stroke-opacity="0.3" stroke-width="0.5"/>
<circle cx="583.7" cy="712.9" r="2.05" fill="#d60505" stroke="#700000" stroke-opacity="0.3" stroke-width="0.5"/>
<circle cx="586.3" cy="713.9" r="2.05" fill="#fae600" stroke="#700000" stroke-opacity="0.3" stroke-width="0.5"/>
<circle cx="587.4" cy="716.6" r="2.05" fill="#a00303" stroke="#700000" stroke-opacity="0.3" stroke-width="0.5"/>
<circle cx="591.8" cy="680.4" r="2.05" fill="#d60505" stroke="#700000" stroke-opacity="0.3" stroke-width="0.5"/>
<circle cx="597.6" cy="681.0" r="2.05" fill="#d60505" stroke="#700000" stroke-opacity="0.3" stroke-width="0.5"/>
<circle cx="604.5" cy="680.6" r="2.05" fill="#d60505" stroke="#700000" stroke-opacity="0.3" stroke-width="0.5"/>
<circle cx="598.1" cy="685.9" r="2.05" fill="#d60505" stroke="#700000" stroke-opacity="0.3" stroke-width="0.5"/>
<circle cx="598.7" cy="690.3" r="2.05" fill="#a00303" stroke="#700000" stroke-opacity="0.3" stroke-width="0.5"/>
<circle cx="602.5" cy="690.3" r="2.05" fill="#d60505" stroke="#700000" stroke-opacity="0.3" stroke-width="0.5"/>
<circle cx="597.0" cy="693.3" r="2.05" fill="#d60505" stroke="#700000" stroke-opacity="0.3" stroke-width="0.5"/>
<circle cx="603.8" cy="695.5" r="2.05" fill="#fae600" stroke="#700000" stroke-opacity="0.3" stroke-width="0.5"/>
<circle cx="614.6" cy="687.0" r="2.05" fill="#d60505" stroke="#700000" stroke-opacity="0.3" stroke-width="0.5"/>
<circle cx="617.0" cy="693.0" r="2.05" fill="#a00303" stroke="#700000" stroke-opacity="0.3" stroke-width="0.5"/>
<circle cx="622.0" cy="695.5" r="2.05" fill="#a00303" stroke="#700000" stroke-opacity="0.3" stroke-width="0.5"/>
<circle cx="632.1" cy="697.4" r="2.05" fill="#d60505" stroke="#700000" stroke-opacity="0.3" stroke-width="0.5"/>
<circle cx="592.4" cy="702.9" r="2.05" fill="#f67800" stroke="#700000" stroke-opacity="0.3" stroke-width="0.5"/>
<circle cx="602.3" cy="700.1" r="2.05" fill="#d60505" stroke="#700000" stroke-opacity="0.3" stroke-width="0.5"/>
<circle cx="603.4" cy="704.5" r="2.05" fill="#a00303" stroke="#700000" stroke-opacity="0.3" stroke-width="0.5"/>
<circle cx="621.1" cy="702.9" r="2.05" fill="#a00303" stroke="#700000" stroke-opacity="0.3" stroke-width="0.5"/>
<circle cx="623.5" cy="707.8" r="2.05" fill="#a00303" stroke="#700000" stroke-opacity="0.3" stroke-width="0.5"/>
<circle cx="635.4" cy="706.7" r="2.05" fill="#a00303" stroke="#700000" stroke-opacity="0.3" stroke-width="0.5"/>
<circle cx="639.7" cy="706.5" r="2.05" fill="#f67800" stroke="#700000" stroke-opacity="0.3" stroke-width="0.5"/>
<circle cx="631.2" cy="710.9" r="2.05" fill="#d60505" stroke="#700000" stroke-opacity="0.3" stroke-width="0.5"/>
<circle cx="636.2" cy="713.5" r="2.05" fill="#a00303" stroke="#700000" stroke-opacity="0.3" stroke-width="0.5"/>
<circle cx="609.6" cy="708.9" r="2.05" fill="#a00303" stroke="#700000" stroke-opacity="0.3" stroke-width="0.5"/>
<circle cx="607.4" cy="711.1" r="2.05" fill="#a00303" stroke="#700000" stroke-opacity="0.3" stroke-width="0.5"/>
<circle cx="611.1" cy="713.3" r="2.05" fill="#d60505" stroke="#700000" stroke-opacity="0.3" stroke-width="0.5"/>
<circle cx="616.8" cy="711.1" r="2.05" fill="#a00303" stroke="#700000" stroke-opacity="0.3" stroke-width="0.5"/>
<circle cx="620.0" cy="713.5" r="2.05" fill="#d60505" stroke="#700000" stroke-opacity="0.3" stroke-width="0.5"/>
<circle cx="623.9" cy="714.9" r="2.05" fill="#d60505" stroke="#700000" stroke-opacity="0.3" stroke-width="0.5"/>
<circle cx="618.4" cy="716.0" r="2.05" fill="#a00303" stroke="#700000" stroke-opacity="0.3" stroke-width="0.5"/>
<circle cx="596.8" cy="714.9" r="2.05" fill="#a00303" stroke="#700000" stroke-opacity="0.3" stroke-width="0.5"/>
<circle cx="592.7" cy="717.9" r="2.05" fill="#d60505" stroke="#700000" stroke-opacity="0.3" stroke-width="0.5"/>
<circle cx="608.5" cy="719.3" r="2.05" fill="#a00303" stroke="#700000" stroke-opacity="0.3" stroke-width="0.5"/>
<circle cx="623.3" cy="719.3" r="2.05" fill="#d60505" stroke="#700000" stroke-opacity="0.3" stroke-width="0.5"/>
<circle cx="654.0" cy="718.7" r="2.05" fill="#a00303" stroke="#700000" stroke-opacity="0.3" stroke-width="0.5"/>
<circle cx="542.0" cy="723.6" r="2.05" fill="#d60505" stroke="#700000" stroke-opacity="0.3" stroke-width="0.5"/>
<circle cx="552.7" cy="727.4" r="2.05" fill="#f67800" stroke="#700000" stroke-opacity="0.3" stroke-width="0.5"/>
<circle cx="558.5" cy="730.8" r="2.05" fill="#a00303" stroke="#700000" stroke-opacity="0.3" stroke-width="0.5"/>
<circle cx="559.0" cy="733.4" r="2.05" fill="#f67800" stroke="#700000" stroke-opacity="0.3" stroke-width="0.5"/>
<circle cx="562.1" cy="732.3" r="2.05" fill="#fae600" stroke="#700000" stroke-opacity="0.3" stroke-width="0.5"/>
<circle cx="561.1" cy="735.5" r="2.05" fill="#d60505" stroke="#700000" stroke-opacity="0.3" stroke-width="0.5"/>
<circle cx="559.5" cy="737.1" r="2.05" fill="#fae600" stroke="#700000" stroke-opacity="0.3" stroke-width="0.5"/>
<circle cx="562.1" cy="737.6" r="2.05" fill="#fae600" stroke="#700000" stroke-opacity="0.3" stroke-width="0.5"/>
<circle cx="565.3" cy="731.8" r="2.05" fill="#d60505" stroke="#700000" stroke-opacity="0.3" stroke-width="0.5"/>
<circle cx="567.9" cy="733.9" r="2.05" fill="#d60505" stroke="#700000" stroke-opacity="0.3" stroke-width="0.5"/>
<circle cx="567.4" cy="736.5" r="2.05" fill="#d60505" stroke="#700000" stroke-opacity="0.3" stroke-width="0.5"/>
<circle cx="571.1" cy="737.1" r="2.05" fill="#d60505" stroke="#700000" stroke-opacity="0.3" stroke-width="0.5"/>
<circle cx="573.7" cy="738.6" r="2.05" fill="#d60505" stroke="#700000" stroke-opacity="0.3" stroke-width="0.5"/>
<circle cx="567.9" cy="721.8" r="2.05" fill="#f67800" stroke="#700000" stroke-opacity="0.3" stroke-width="0.5"/>
<circle cx="570.0" cy="723.9" r="2.05" fill="#d60505" stroke="#700000" stroke-opacity="0.3" stroke-width="0.5"/>
<circle cx="575.3" cy="721.3" r="2.05" fill="#d60505" stroke="#700000" stroke-opacity="0.3" stroke-width="0.5"/>
<circle cx="576.9" cy="722.9" r="2.05" fill="#f67800" stroke="#700000" stroke-opacity="0.3" stroke-width="0.5"/>
<circle cx="571.6" cy="726.0" r="2.05" fill="#fae600" stroke="#700000" stroke-opacity="0.3" stroke-width="0.5"/>
<circle cx="574.8" cy="727.6" r="2.05" fill="#f67800" stroke="#700000" stroke-opacity="0.3" stroke-width="0.5"/>
<circle cx="578.4" cy="729.7" r="2.05" fill="#d60505" stroke="#700000" stroke-opacity="0.3" stroke-width="0.5"/>
<circle cx="580.0" cy="727.6" r="2.05" fill="#d60505" stroke="#700000" stroke-opacity="0.3" stroke-width="0.5"/>
<circle cx="583.2" cy="728.7" r="2.05" fill="#f67800" stroke="#700000" stroke-opacity="0.3" stroke-width="0.5"/>
<circle cx="585.3" cy="728.7" r="2.05" fill="#fae600" stroke="#700000" stroke-opacity="0.3" stroke-width="0.5"/>
<circle cx="582.1" cy="731.8" r="2.05" fill="#d60505" stroke="#700000" stroke-opacity="0.3" stroke-width="0.5"/>
<circle cx="585.8" cy="731.8" r="2.05" fill="#d60505" stroke="#700000" stroke-opacity="0.3" stroke-width="0.5"/>
<circle cx="588.4" cy="730.2" r="2.05" fill="#d60505" stroke="#700000" stroke-opacity="0.3" stroke-width="0.5"/>
<circle cx="587.4" cy="735.0" r="2.05" fill="#a00303" stroke="#700000" stroke-opacity="0.3" stroke-width="0.5"/>
<circle cx="574.8" cy="743.4" r="2.05" fill="#d60505" stroke="#700000" stroke-opacity="0.3" stroke-width="0.5"/>
<circle cx="576.9" cy="743.9" r="2.05" fill="#fae600" stroke="#700000" stroke-opacity="0.3" stroke-width="0.5"/>
<circle cx="579.5" cy="743.4" r="2.05" fill="#d60505" stroke="#700000" stroke-opacity="0.3" stroke-width="0.5"/>
<circle cx="583.2" cy="743.4" r="2.05" fill="#d60505" stroke="#700000" stroke-opacity="0.3" stroke-width="0.5"/>
<circle cx="586.3" cy="745.0" r="2.05" fill="#d60505" stroke="#700000" stroke-opacity="0.3" stroke-width="0.5"/>
<circle cx="573.7" cy="746.5" r="2.05" fill="#d60505" stroke="#700000" stroke-opacity="0.3" stroke-width="0.5"/>
<circle cx="576.9" cy="748.1" r="2.05" fill="#d60505" stroke="#700000" stroke-opacity="0.3" stroke-width="0.5"/>
<circle cx="581.1" cy="747.1" r="2.05" fill="#d60505" stroke="#700000" stroke-opacity="0.3" stroke-width="0.5"/>
<circle cx="584.2" cy="748.1" r="2.05" fill="#d60505" stroke="#700000" stroke-opacity="0.3" stroke-width="0.5"/>
<circle cx="587.9" cy="748.6" r="2.05" fill="#d60505" stroke="#700000" stroke-opacity="0.3" stroke-width="0.5"/>
<circle cx="563.7" cy="750.9" r="2.05" fill="#d60505" stroke="#700000" stroke-opacity="0.3" stroke-width="0.5"/>
<circle cx="571.1" cy="754.9" r="2.05" fill="#f67800" stroke="#700000" stroke-opacity="0.3" stroke-width="0.5"/>
<circle cx="576.9" cy="757.6" r="2.05" fill="#d60505" stroke="#700000" stroke-opacity="0.3" stroke-width="0.5"/>
<circle cx="586.8" cy="752.3" r="2.05" fill="#f67800" stroke="#700000" stroke-opacity="0.3" stroke-width="0.5"/>
<circle cx="588.4" cy="753.9" r="2.05" fill="#d60505" stroke="#700000" stroke-opacity="0.3" stroke-width="0.5"/>
<circle cx="587.9" cy="760.2" r="2.05" fill="#a00303" stroke="#700000" stroke-opacity="0.3" stroke-width="0.5"/>
<circle cx="588.4" cy="763.9" r="2.05" fill="#d60505" stroke="#700000" stroke-opacity="0.3" stroke-width="0.5"/>
<circle cx="594.3" cy="720.5" r="2.05" fill="#f67800" stroke="#700000" stroke-opacity="0.3" stroke-width="0.5"/>
<circle cx="598.7" cy="724.9" r="2.05" fill="#a00303" stroke="#700000" stroke-opacity="0.3" stroke-width="0.5"/>
<circle cx="622.2" cy="728.1" r="2.05" fill="#a00303" stroke="#700000" stroke-opacity="0.3" stroke-width="0.5"/>
<circle cx="627.7" cy="727.6" r="2.05" fill="#a00303" stroke="#700000" stroke-opacity="0.3" stroke-width="0.5"/>
<circle cx="628.8" cy="731.4" r="2.05" fill="#a00303" stroke="#700000" stroke-opacity="0.3" stroke-width="0.5"/>
<circle cx="648.0" cy="740.4" r="2.05" fill="#d60505" stroke="#700000" stroke-opacity="0.3" stroke-width="0.5"/>
<circle cx="632.6" cy="738.2" r="2.05" fill="#d60505" stroke="#700000" stroke-opacity="0.3" stroke-width="0.5"/>
<circle cx="629.9" cy="741.8" r="2.05" fill="#d60505" stroke="#700000" stroke-opacity="0.3" stroke-width="0.5"/>
<circle cx="629.3" cy="745.1" r="2.05" fill="#d60505" stroke="#700000" stroke-opacity="0.3" stroke-width="0.5"/>
<circle cx="623.3" cy="745.7" r="2.05" fill="#d60505" stroke="#700000" stroke-opacity="0.3" stroke-width="0.5"/>
<circle cx="592.7" cy="730.9" r="2.05" fill="#d60505" stroke="#700000" stroke-opacity="0.3" stroke-width="0.5"/>
<circle cx="595.9" cy="732.0" r="2.05" fill="#d60505" stroke="#700000" stroke-opacity="0.3" stroke-width="0.5"/>
<circle cx="592.7" cy="734.7" r="2.05" fill="#d60505" stroke="#700000" stroke-opacity="0.3" stroke-width="0.5"/>
<circle cx="595.4" cy="735.8" r="2.05" fill="#a00303" stroke="#700000" stroke-opacity="0.3" stroke-width="0.5"/>
<circle cx="600.3" cy="736.9" r="2.05" fill="#a00303" stroke="#700000" stroke-opacity="0.3" stroke-width="0.5"/>
<circle cx="603.1" cy="737.4" r="2.05" fill="#f67800" stroke="#700000" stroke-opacity="0.3" stroke-width="0.5"/>
<circle cx="604.7" cy="739.6" r="2.05" fill="#d60505" stroke="#700000" stroke-opacity="0.3" stroke-width="0.5"/>
<circle cx="608.0" cy="741.3" r="2.05" fill="#f67800" stroke="#700000" stroke-opacity="0.3" stroke-width="0.5"/>
<circle cx="605.8" cy="744.0" r="2.05" fill="#f67800" stroke="#700000" stroke-opacity="0.3" stroke-width="0.5"/>
<circle cx="609.6" cy="745.7" r="2.05" fill="#d60505" stroke="#700000" stroke-opacity="0.3" stroke-width="0.5"/>
<circle cx="605.8" cy="746.2" r="2.05" fill="#f67800" stroke="#700000" stroke-opacity="0.3" stroke-width="0.5"/>
<circle cx="605.0" cy="748.7" r="2.05" fill="#fae600" stroke="#700000" stroke-opacity="0.3" stroke-width="0.5"/>
<circle cx="614.6" cy="747.3" r="2.05" fill="#d60505" stroke="#700000" stroke-opacity="0.3" stroke-width="0.5"/>
<circle cx="612.9" cy="750.0" r="2.05" fill="#d60505" stroke="#700000" stroke-opacity="0.3" stroke-width="0.5"/>
<circle cx="616.8" cy="750.6" r="2.05" fill="#f67800" stroke="#700000" stroke-opacity="0.3" stroke-width="0.5"/>
<circle cx="618.4" cy="754.4" r="2.05" fill="#d60505" stroke="#700000" stroke-opacity="0.3" stroke-width="0.5"/>
<circle cx="618.4" cy="756.8" r="2.05" fill="#a00303" stroke="#700000" stroke-opacity="0.3" stroke-width="0.5"/>
<circle cx="616.8" cy="762.1" r="2.05" fill="#d60505" stroke="#700000" stroke-opacity="0.3" stroke-width="0.5"/>
<circle cx="616.8" cy="764.3" r="2.05" fill="#d60505" stroke="#700000" stroke-opacity="0.3" stroke-width="0.5"/>
<circle cx="591.6" cy="746.8" r="2.05" fill="#d60505" stroke="#700000" stroke-opacity="0.3" stroke-width="0.5"/>
<circle cx="590.5" cy="748.9" r="2.05" fill="#d60505" stroke="#700000" stroke-opacity="0.3" stroke-width="0.5"/>
<circle cx="594.9" cy="752.8" r="2.05" fill="#fae600" stroke="#700000" stroke-opacity="0.3" stroke-width="0.5"/>
<circle cx="597.6" cy="751.7" r="2.05" fill="#fae600" stroke="#700000" stroke-opacity="0.3" stroke-width="0.5"/>
<circle cx="597.0" cy="754.4" r="2.05" fill="#fae600" stroke="#700000" stroke-opacity="0.3" stroke-width="0.5"/>
<circle cx="589.9" cy="753.9" r="2.05" fill="#d60505" stroke="#700000" stroke-opacity="0.3" stroke-width="0.5"/>
<circle cx="600.9" cy="752.8" r="2.05" fill="#d60505" stroke="#700000" stroke-opacity="0.3" stroke-width="0.5"/>
<circle cx="603.6" cy="753.9" r="2.05" fill="#a00303" stroke="#700000" stroke-opacity="0.3" stroke-width="0.5"/>
<circle cx="606.9" cy="755.0" r="2.05" fill="#d60505" stroke="#700000" stroke-opacity="0.3" stroke-width="0.5"/>
<circle cx="602.0" cy="756.6" r="2.05" fill="#f67800" stroke="#700000" stroke-opacity="0.3" stroke-width="0.5"/>
<circle cx="599.2" cy="758.2" r="2.05" fill="#d60505" stroke="#700000" stroke-opacity="0.3" stroke-width="0.5"/>
<circle cx="595.9" cy="759.9" r="2.05" fill="#f67800" stroke="#700000" stroke-opacity="0.3" stroke-width="0.5"/>
<circle cx="604.7" cy="759.9" r="2.05" fill="#d60505" stroke="#700000" stroke-opacity="0.3" stroke-width="0.5"/>
<circle cx="589.4" cy="758.8" r="2.05" fill="#d60505" stroke="#700000" stroke-opacity="0.3" stroke-width="0.5"/>
<circle cx="588.3" cy="762.1" r="2.05" fill="#a00303" stroke="#700000" stroke-opacity="0.3" stroke-width="0.5"/>
<circle cx="589.9" cy="764.8" r="2.05" fill="#d60505" stroke="#700000" stroke-opacity="0.3" stroke-width="0.5"/>
<circle cx="592.7" cy="765.9" r="2.05" fill="#a00303" stroke="#700000" stroke-opacity="0.3" stroke-width="0.5"/>
<circle cx="595.4" cy="768.7" r="2.05" fill="#fae600" stroke="#700000" stroke-opacity="0.3" stroke-width="0.5"/>
<circle cx="598.7" cy="769.7" r="2.05" fill="#d60505" stroke="#700000" stroke-opacity="0.3" stroke-width="0.5"/>
<circle cx="602.5" cy="769.7" r="2.05" fill="#d60505" stroke="#700000" stroke-opacity="0.3" stroke-width="0.5"/>
<circle cx="604.7" cy="765.4" r="2.05" fill="#a00303" stroke="#700000" stroke-opacity="0.3" stroke-width="0.5"/>
<circle cx="608.5" cy="766.5" r="2.05" fill="#d60505" stroke="#700000" stroke-opacity="0.3" stroke-width="0.5"/>
<circle cx="571.8" cy="720.1" r="2.05" fill="#d60505" stroke="#700000" stroke-opacity="0.3" stroke-width="0.5"/>
<circle cx="575.4" cy="724.1" r="2.05" fill="#d60505" stroke="#700000" stroke-opacity="0.3" stroke-width="0.5"/>
<circle cx="579.5" cy="731.1" r="2.05" fill="#d60505" stroke="#700000" stroke-opacity="0.3" stroke-width="0.5"/>
<circle cx="583.8" cy="730.3" r="2.05" fill="#f67800" stroke="#700000" stroke-opacity="0.3" stroke-width="0.5"/>
<circle cx="589.3" cy="728.1" r="2.05" fill="#d60505" stroke="#700000" stroke-opacity="0.3" stroke-width="0.5"/>
<circle cx="590.8" cy="730.3" r="2.05" fill="#d60505" stroke="#700000" stroke-opacity="0.3" stroke-width="0.5"/>
<circle cx="594.8" cy="730.3" r="2.05" fill="#f67800" stroke="#700000" stroke-opacity="0.3" stroke-width="0.5"/>
<circle cx="595.5" cy="727.8" r="2.05" fill="#d60505" stroke="#700000" stroke-opacity="0.3" stroke-width="0.5"/>
<circle cx="585.7" cy="717.2" r="2.05" fill="#d60505" stroke="#700000" stroke-opacity="0.3" stroke-width="0.5"/>
<circle cx="566.3" cy="733.2" r="2.05" fill="#d60505" stroke="#700000" stroke-opacity="0.3" stroke-width="0.5"/>
<circle cx="566.7" cy="735.4" r="2.05" fill="#d60505" stroke="#700000" stroke-opacity="0.3" stroke-width="0.5"/>
<circle cx="571.8" cy="738.4" r="2.05" fill="#d60505" stroke="#700000" stroke-opacity="0.3" stroke-width="0.5"/>
<circle cx="575.8" cy="747.1" r="2.05" fill="#d60505" stroke="#700000" stroke-opacity="0.3" stroke-width="0.5"/>
<circle cx="584.6" cy="743.8" r="2.05" fill="#d60505" stroke="#700000" stroke-opacity="0.3" stroke-width="0.5"/>
<circle cx="578.4" cy="746.4" r="2.05" fill="#d60505" stroke="#700000" stroke-opacity="0.3" stroke-width="0.5"/>
<circle cx="582.7" cy="748.2" r="2.05" fill="#d60505" stroke="#700000" stroke-opacity="0.3" stroke-width="0.5"/>
<circle cx="589.3" cy="748.6" r="2.05" fill="#d60505" stroke="#700000" stroke-opacity="0.3" stroke-width="0.5"/>
<circle cx="593.3" cy="745.7" r="2.05" fill="#d60505" stroke="#700000" stroke-opacity="0.3" stroke-width="0.5"/>
<circle cx="591.5" cy="750.0" r="2.05" fill="#d60505" stroke="#700000" stroke-opacity="0.3" stroke-width="0.5"/>
<circle cx="600.6" cy="739.1" r="2.05" fill="#a00303" stroke="#700000" stroke-opacity="0.3" stroke-width="0.5"/>
<circle cx="603.9" cy="747.8" r="2.05" fill="#fae600" stroke="#700000" stroke-opacity="0.3" stroke-width="0.5"/>
<defs><linearGradient id="cbar" x1="0" x2="1" y1="0" y2="0"><stop offset="0" stop-color="#000"/><stop offset="0.5" stop-color="#ff0000"/><stop offset="1" stop-color="#ffff00"/></linearGradient></defs>
<rect x="305.8" y="768.2" width="87.9" height="6.9" fill="url(#cbar)"/>
<text x="350.75" y="762.8" font-size="9.8" fill="#111" text-anchor="middle" textLength="68.9" lengthAdjust="spacingAndGlyphs">Fisher distance</text>
<text x="306" y="782.5" font-size="5.4" fill="#444" text-anchor="middle">0.15</text>
<text x="328.2" y="782.5" font-size="5.4" fill="#444" text-anchor="middle">0.24</text>
<text x="349.9" y="782.5" font-size="5.4" fill="#444" text-anchor="middle">0.33</text>
<text x="371" y="782.5" font-size="5.4" fill="#444" text-anchor="middle">0.41</text>
<text x="393.3" y="782.5" font-size="5.4" fill="#444" text-anchor="middle">0.5</text>
</svg></body></html>
